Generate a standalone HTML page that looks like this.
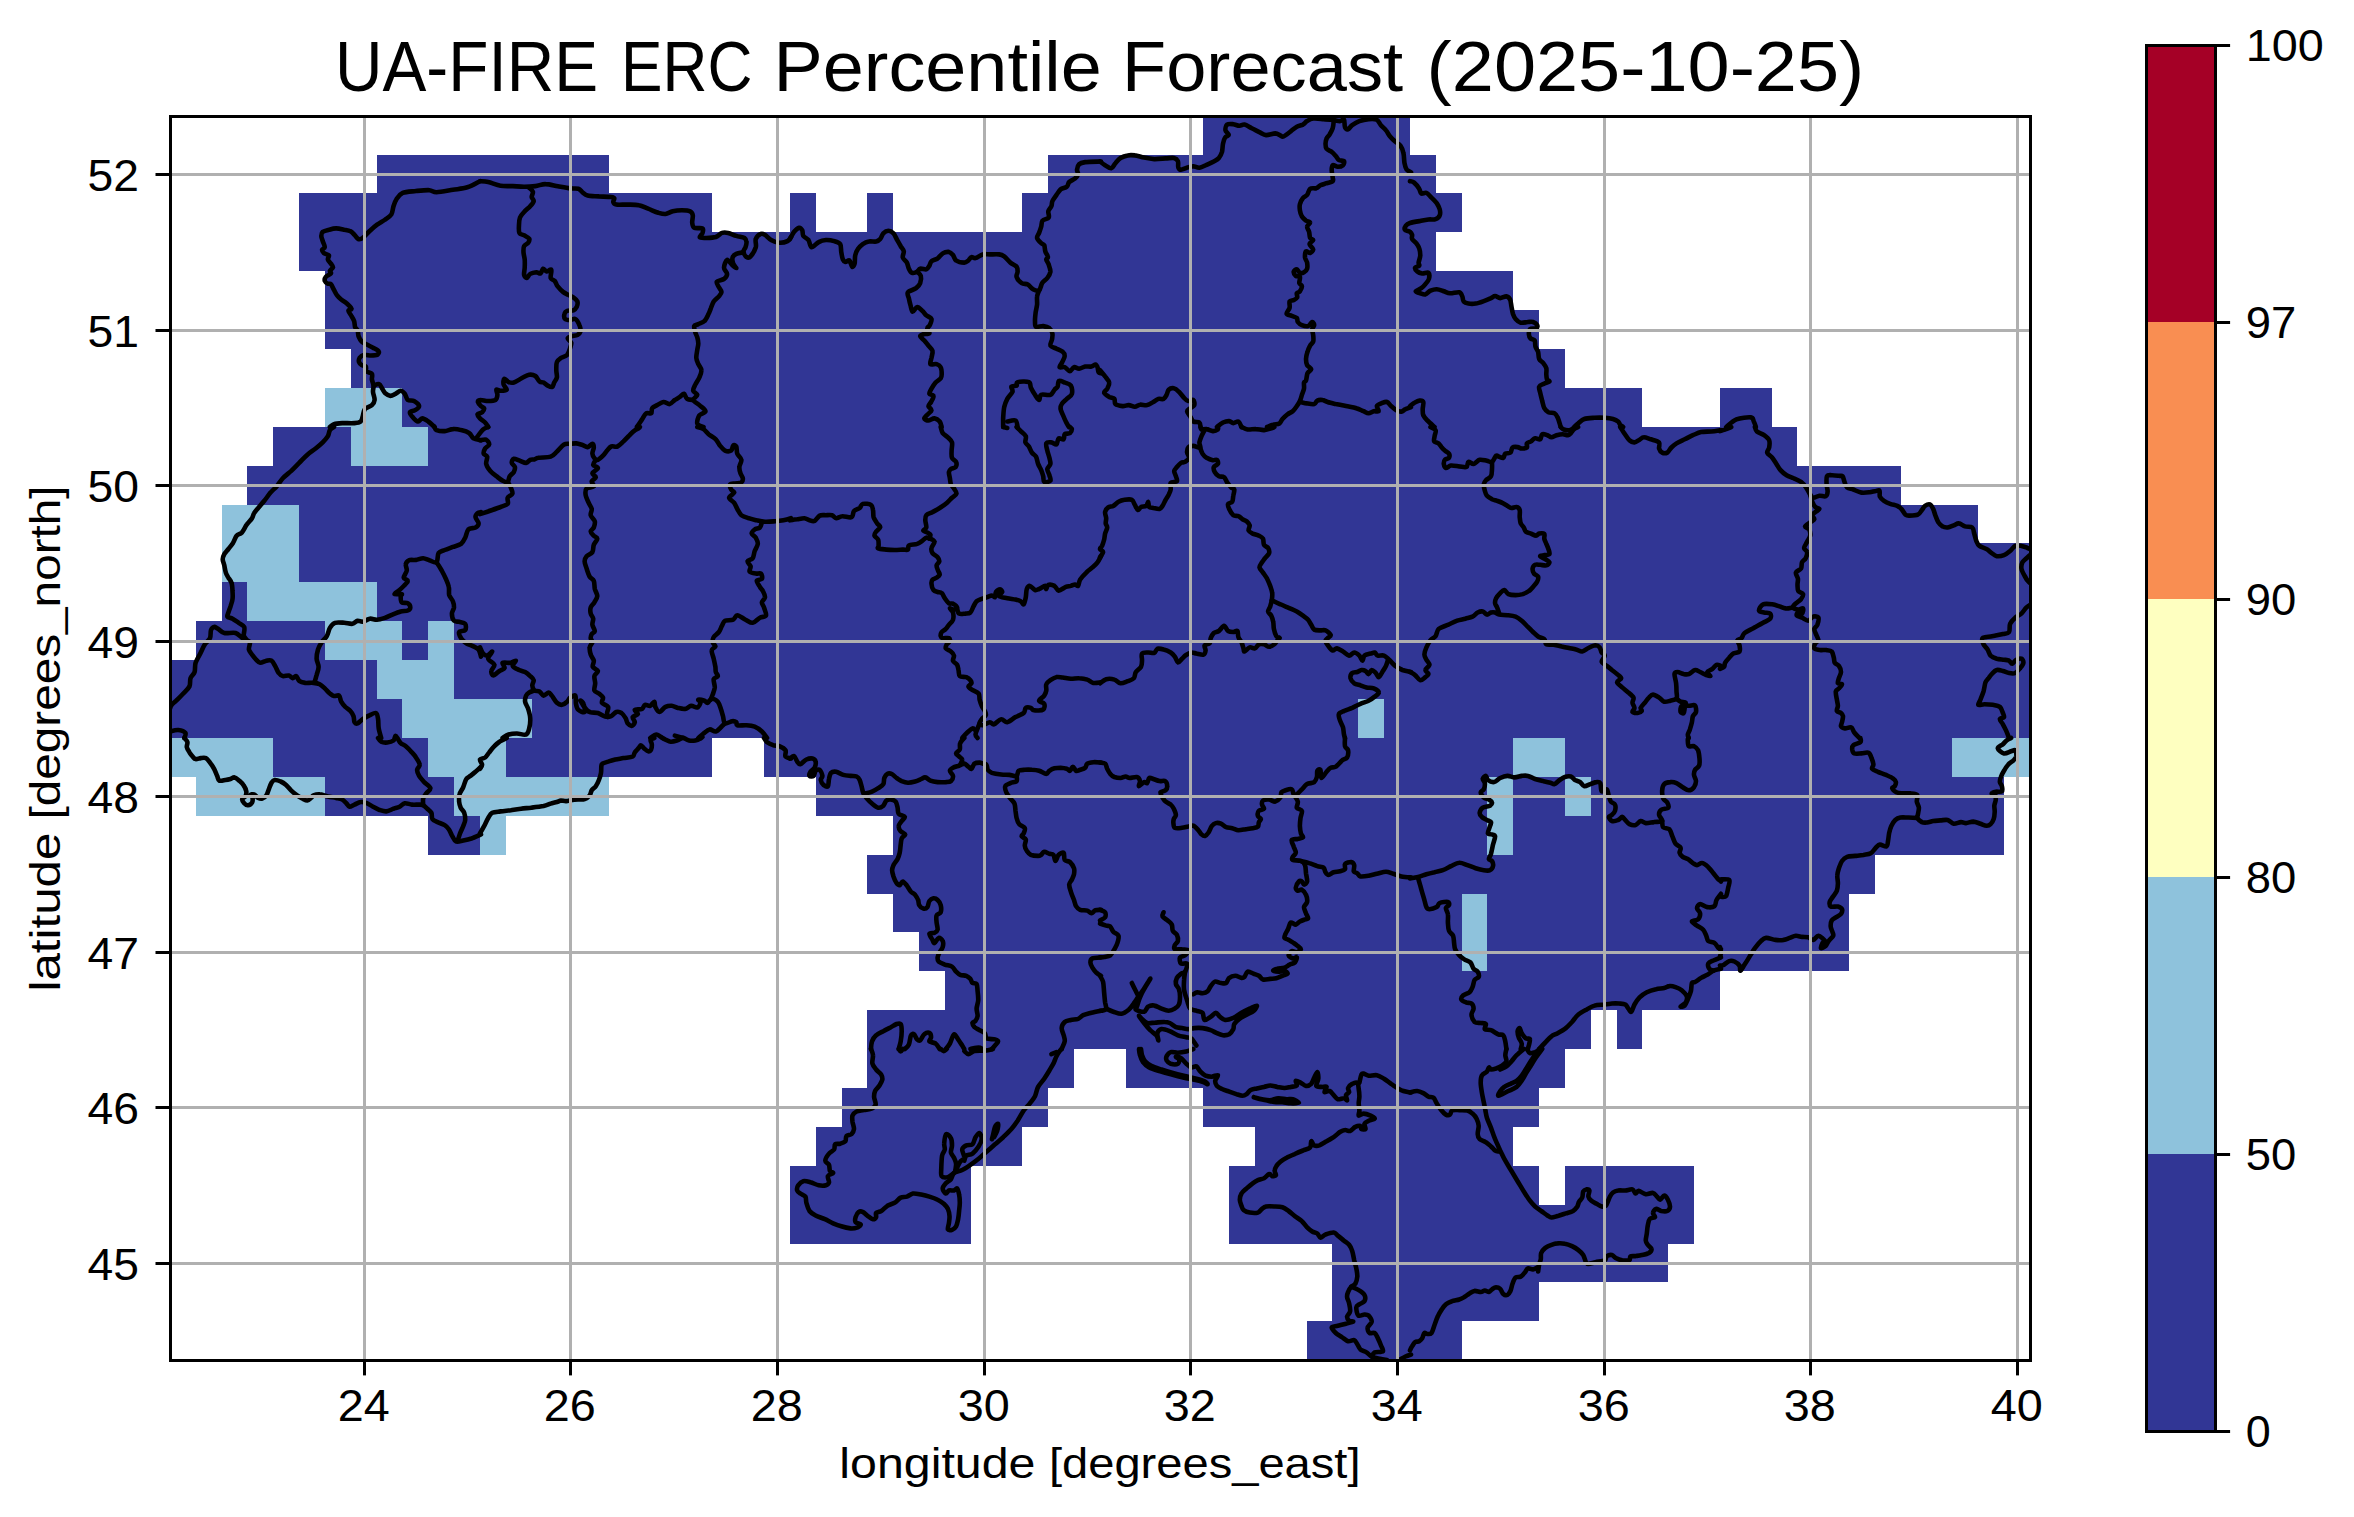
<!DOCTYPE html>
<html><head><meta charset="utf-8"><title>UA-FIRE ERC Percentile Forecast</title>
<style>html,body{margin:0;padding:0;background:#fff}body{width:2354px;height:1517px;overflow:hidden}</style></head>
<body>
<svg width="2354" height="1517" viewBox="0 0 2354 1517" style="display:block;font-family:'Liberation Sans',sans-serif">
<rect x="0" y="0" width="2354" height="1517" fill="#ffffff"/>
<defs><clipPath id="axclip"><rect x="170.5" y="116.5" width="1860" height="1244"/></clipPath></defs>
<g shape-rendering="crispEdges"><rect x="1203" y="116" width="207" height="39" fill="#313695"/><rect x="377" y="155" width="232" height="38" fill="#313695"/><rect x="1048" y="155" width="388" height="38" fill="#313695"/><rect x="299" y="193" width="413" height="39" fill="#313695"/><rect x="790" y="193" width="26" height="39" fill="#313695"/><rect x="867" y="193" width="26" height="39" fill="#313695"/><rect x="1022" y="193" width="440" height="39" fill="#313695"/><rect x="299" y="232" width="1137" height="39" fill="#313695"/><rect x="325" y="271" width="1188" height="39" fill="#313695"/><rect x="325" y="310" width="1214" height="39" fill="#313695"/><rect x="351" y="349" width="1214" height="39" fill="#313695"/><rect x="325" y="388" width="77" height="39" fill="#8ec2dc"/><rect x="402" y="388" width="1240" height="39" fill="#313695"/><rect x="1720" y="388" width="52" height="39" fill="#313695"/><rect x="273" y="427" width="78" height="39" fill="#313695"/><rect x="351" y="427" width="77" height="39" fill="#8ec2dc"/><rect x="428" y="427" width="1369" height="39" fill="#313695"/><rect x="247" y="466" width="1654" height="39" fill="#313695"/><rect x="222" y="505" width="77" height="38" fill="#8ec2dc"/><rect x="299" y="505" width="1679" height="38" fill="#313695"/><rect x="222" y="543" width="77" height="39" fill="#8ec2dc"/><rect x="299" y="543" width="1731" height="39" fill="#313695"/><rect x="222" y="582" width="25" height="39" fill="#313695"/><rect x="247" y="582" width="130" height="39" fill="#8ec2dc"/><rect x="377" y="582" width="1653" height="39" fill="#313695"/><rect x="196" y="621" width="129" height="39" fill="#313695"/><rect x="325" y="621" width="77" height="39" fill="#8ec2dc"/><rect x="402" y="621" width="26" height="39" fill="#313695"/><rect x="428" y="621" width="26" height="39" fill="#8ec2dc"/><rect x="454" y="621" width="1576" height="39" fill="#313695"/><rect x="170" y="660" width="207" height="39" fill="#313695"/><rect x="377" y="660" width="77" height="39" fill="#8ec2dc"/><rect x="454" y="660" width="1576" height="39" fill="#313695"/><rect x="170" y="699" width="232" height="39" fill="#313695"/><rect x="402" y="699" width="130" height="39" fill="#8ec2dc"/><rect x="532" y="699" width="826" height="39" fill="#313695"/><rect x="1358" y="699" width="26" height="39" fill="#8ec2dc"/><rect x="1384" y="699" width="646" height="39" fill="#313695"/><rect x="170" y="738" width="103" height="39" fill="#8ec2dc"/><rect x="273" y="738" width="155" height="39" fill="#313695"/><rect x="428" y="738" width="78" height="39" fill="#8ec2dc"/><rect x="506" y="738" width="206" height="39" fill="#313695"/><rect x="764" y="738" width="749" height="39" fill="#313695"/><rect x="1513" y="738" width="52" height="39" fill="#8ec2dc"/><rect x="1565" y="738" width="387" height="39" fill="#313695"/><rect x="1952" y="738" width="78" height="39" fill="#8ec2dc"/><rect x="196" y="777" width="129" height="39" fill="#8ec2dc"/><rect x="325" y="777" width="129" height="39" fill="#313695"/><rect x="454" y="777" width="155" height="39" fill="#8ec2dc"/><rect x="816" y="777" width="671" height="39" fill="#313695"/><rect x="1487" y="777" width="26" height="39" fill="#8ec2dc"/><rect x="1513" y="777" width="52" height="39" fill="#313695"/><rect x="1565" y="777" width="26" height="39" fill="#8ec2dc"/><rect x="1591" y="777" width="413" height="39" fill="#313695"/><rect x="428" y="816" width="52" height="39" fill="#313695"/><rect x="480" y="816" width="26" height="39" fill="#8ec2dc"/><rect x="893" y="816" width="594" height="39" fill="#313695"/><rect x="1487" y="816" width="26" height="39" fill="#8ec2dc"/><rect x="1513" y="816" width="491" height="39" fill="#313695"/><rect x="867" y="855" width="1008" height="39" fill="#313695"/><rect x="893" y="894" width="569" height="38" fill="#313695"/><rect x="1462" y="894" width="25" height="38" fill="#8ec2dc"/><rect x="1487" y="894" width="362" height="38" fill="#313695"/><rect x="919" y="932" width="543" height="39" fill="#313695"/><rect x="1462" y="932" width="25" height="39" fill="#8ec2dc"/><rect x="1487" y="932" width="362" height="39" fill="#313695"/><rect x="945" y="971" width="775" height="39" fill="#313695"/><rect x="867" y="1010" width="724" height="39" fill="#313695"/><rect x="1617" y="1010" width="25" height="39" fill="#313695"/><rect x="867" y="1049" width="207" height="39" fill="#313695"/><rect x="1126" y="1049" width="439" height="39" fill="#313695"/><rect x="842" y="1088" width="206" height="39" fill="#313695"/><rect x="1203" y="1088" width="336" height="39" fill="#313695"/><rect x="816" y="1127" width="206" height="39" fill="#313695"/><rect x="1255" y="1127" width="258" height="39" fill="#313695"/><rect x="790" y="1166" width="181" height="39" fill="#313695"/><rect x="1229" y="1166" width="310" height="39" fill="#313695"/><rect x="1565" y="1166" width="129" height="39" fill="#313695"/><rect x="790" y="1205" width="181" height="39" fill="#313695"/><rect x="1229" y="1205" width="465" height="39" fill="#313695"/><rect x="1332" y="1244" width="336" height="38" fill="#313695"/><rect x="1332" y="1282" width="207" height="39" fill="#313695"/><rect x="1307" y="1321" width="155" height="39" fill="#313695"/></g>
<g clip-path="url(#axclip)" fill="none" stroke="#000" stroke-width="4.6" stroke-linejoin="round" stroke-linecap="round"><path d="M480 181.2C478 182.2 471.6 186 467.3 187.3C463 188.7 457.9 189 452.9 189.8C448 190.6 440.3 192.2 436.5 192.3C432.8 192.3 432.6 190.4 429.4 190.2C426.1 190 420.3 190.6 416 191C411.8 191.5 405.8 191.6 402.7 192.9C399.6 194.2 398 196.9 396.6 199C395.1 201.2 394.3 203.7 393.5 206.2C392.7 208.7 392.7 212.3 391.4 214.4C390.1 216.5 387.6 217.9 385.3 219.5C383 221.2 379.5 222.9 377.1 224.7C374.6 226.5 372.2 228.7 369.9 230.8C367.6 232.9 364.6 236.7 362.7 238C360.9 239.3 359.5 239.5 358.2 239C356.9 238.5 355.8 236.2 354.5 234.9C353.3 233.7 352.1 232 350.4 231.2C348.8 230.4 346.6 230.2 344.3 229.8C342 229.3 338.5 228.4 336.1 228.4C333.6 228.4 331 229.2 328.9 229.8C326.8 230.3 324 230.9 322.7 231.8C321.5 232.8 321.3 234.5 321.3 235.9C321.3 237.4 322.2 239.3 322.7 241.1C323.3 242.9 324.9 245.8 324.8 247.2C324.7 248.6 322.3 248.8 322.1 249.7C322 250.6 322.7 252 323.8 253C324.8 253.9 328.2 254.4 328.9 255.4C329.5 256.5 327.5 258.2 327.9 259.5C328.2 260.8 330.1 262.4 330.9 263.6C331.8 264.9 333.2 266.2 333 267.3C332.8 268.5 330.2 269.8 329.9 270.8C329.6 271.8 331.6 272.5 330.9 273.5C330.3 274.4 326.8 275.7 325.8 276.9C324.8 278.2 324.5 280 324.8 281C325.1 282.1 326.9 283.2 327.9 283.7C328.9 284.2 330 283.1 330.9 284.1C331.9 285.1 333 288.1 334 289.9C335 291.7 335.9 293.9 337.1 295.4C338.2 296.9 339.7 298.3 341.2 299.5C342.7 300.7 344.7 301.5 346.3 303C348 304.5 351.1 307.5 351.4 308.7C351.8 310 348.4 309.6 348.4 310.8C348.4 311.9 350.5 314.3 351.4 315.9C352.4 317.5 353.5 319.2 354.1 321C354.7 322.8 354.6 325.7 355.1 327.2C355.7 328.6 357 328.8 357.6 330.2C358.2 331.7 358 334.6 358.6 336.4C359.3 338.2 360.4 340.2 361.7 341.5C363 342.8 365 343.6 366.8 344.6C368.6 345.6 371.1 346.6 373 347.7C374.9 348.8 378.1 350.2 378.7 351.4C379.4 352.5 378.3 354.2 377.1 354.9C375.8 355.5 373.1 355.5 370.9 355.5C368.8 355.5 365.6 354.5 363.7 354.9C361.9 355.2 360.4 356.8 359.6 357.9C358.9 359.1 358.7 360.9 359 362C359.4 363.2 360.6 364.4 361.7 365.1C362.8 365.8 365 365.6 365.8 366.5C366.6 367.5 365.4 370.1 366.4 371.3C367.4 372.4 371.1 372.6 371.9 373.9C372.8 375.2 371.7 377.6 371.9 379.5C372.2 381.3 373.4 383.6 373.6 385.6C373.8 387.6 372.8 389.5 373 391.8C373.1 394.1 374.8 397.8 374.6 400C374.4 402.1 373.5 403.6 371.9 405.1C370.4 406.6 366.2 407.4 364.8 409.2C363.3 411 363.4 414.4 362.7 416.4C362.1 418.3 362 420.4 360.7 421.5C359.4 422.6 357.5 422.9 354.5 423.1C351.6 423.4 345.5 423 342.2 423.1C338.9 423.3 336 423.5 334 424.1C332.1 424.8 330.6 426.6 329.9 427"/><path d="M373.6 385.6C374.5 385.4 377.7 383.7 379.1 384.2C380.5 384.7 381.2 387.2 382.2 388.7C383.2 390.1 384 392 385.3 393.2C386.6 394.3 388.8 395.8 390.4 395.9C392 396 393.9 394.6 395.5 393.8C397.2 393 399.2 390.7 400.7 390.7C402.1 390.7 403.6 392.3 404.8 393.8C405.9 395.3 406.4 398.8 407.8 400C409.3 401.1 412.2 400 414 401C415.8 402 418.9 404.6 419.1 406.1C419.3 407.6 416.5 409.2 415 410.2C413.5 411.2 410.2 411.1 409.9 412.3C409.5 413.4 411.6 415.9 413 417.4C414.3 418.9 416.6 421.3 418.1 421.5C419.6 421.6 420.5 418.4 422.2 418.4C423.8 418.4 426.4 420.1 428.3 421.5C430.3 422.9 433.5 426.1 434.5 427"/><path d="M480 181.2C481.3 181.3 484.9 181.3 488.2 182C491.5 182.7 496.6 185.1 500.5 185.7C504.4 186.4 509 186 512.8 186.1C516.6 186.3 520.5 186.7 524.1 186.7C527.7 186.7 531.9 186.5 535.4 186.1C538.8 185.7 542 184 545.6 184.1C549.2 184.1 554 185.6 557.9 186.3C561.8 187 566.9 188 570.2 188.4C573.5 188.8 576.4 188.2 578.4 188.8C580.4 189.4 581 191.2 582.5 192.3C584 193.4 585 194.9 587.6 195.5C590.3 196.2 595.1 196.1 598.9 196.4C602.7 196.6 608.8 196.7 611.2 197C613.7 197.3 614 197.6 614.3 198.4C614.6 199.2 612.9 201.1 613.3 202.1C613.6 203.1 614 204.2 616.3 204.6C618.6 205 624 204.5 627.6 204.6C631.2 204.7 635.6 204.5 638.9 205.2C642.2 205.8 645 207.5 648.1 208.7C651.2 209.9 655.6 211.9 658.4 212.8C661.2 213.6 663.2 214.2 665.5 214C667.8 213.8 670.1 211.9 672.7 211.3C675.3 210.7 679.2 210.3 681.9 210.3C684.7 210.3 688.4 210.5 690.1 211.3C691.9 212.2 692.5 213.6 692.8 215.4C693.1 217.2 692 220.6 692.2 222.6C692.4 224.6 692.6 226.8 694.2 227.7C695.9 228.7 701.1 227.5 702.5 228.4C703.8 229.2 702.9 231.4 702.5 232.9C702 234.3 699.3 236.6 699.8 237.4C700.3 238.2 703 238.1 705.5 238C708.1 237.9 713.2 237.8 715.8 237C718.4 236.1 720 233.5 721.9 232.9C723.9 232.2 725.8 232.4 728.1 232.9C730.4 233.4 733.7 235.1 736.3 235.9C738.9 236.8 742.8 237 744.5 238C746.1 239 746.4 240.6 746.5 242.1C746.7 243.6 746 245.7 745.5 247.2C745 248.8 743.3 250.2 743.5 251.7C743.6 253.3 745.4 256.3 746.5 257.1C747.7 257.8 749.2 258 750.6 256.4C752.1 254.9 754.9 250 755.8 247.2C756.6 244.4 754.9 241.1 755.8 239C756.6 236.9 759.4 234.5 760.9 233.9C762.4 233.2 763.3 233.9 765 234.9C766.6 235.9 768.8 238.8 771.1 240C773.4 241.3 776.7 242.5 779.3 242.7C782 242.9 785.7 242 787.5 241.1C789.4 240.1 790.5 237.6 791 237"/><path d="M743.5 252.3C742.3 252.6 738 253 736.3 253.8C734.5 254.6 733.1 255.9 732.6 257.5C732.1 259 732.6 261.9 733.2 263.6C733.8 265.3 736.5 268 736.3 268.1C736 268.3 733.2 266 731.8 264.6C730.3 263.3 728.3 259.4 727.1 259.9C725.8 260.4 724 265.5 724 267.7C724 269.9 727.1 272.1 727.1 273.9C727.1 275.7 725.6 277.7 724 279C722.3 280.2 717.6 280.3 716.8 281.7C716 283 718.1 285.6 718.9 287.2C719.6 288.8 721.5 290.4 721.5 291.9C721.5 293.4 720.1 294.9 718.9 296.4C717.6 298 715 299.6 713.7 301.5C712.4 303.5 711.5 306.8 710.7 308.7C709.8 310.7 709.6 311.9 708.6 313.8C707.6 315.8 706.1 319.4 704.5 321C702.9 322.7 700 323.3 698.3 324.1C696.7 324.9 694.7 324.8 694.2 326.1C693.8 327.5 694.8 330.5 695.3 332.3C695.8 334.1 696.8 335.6 697.3 337.4C697.8 339.2 698.3 341.6 698.3 343.6C698.3 345.5 697.7 347.4 697.3 349.7C697 352 696.1 355.6 696.3 357.9C696.5 360.2 697.5 362.1 698.3 364.1C699.2 366 701.3 368.1 701.4 370.2C701.6 372.4 700.4 375.1 699.4 377.4C698.4 379.7 696.3 382.4 695.3 384.6C694.3 386.7 692.9 389.1 693.2 390.7C693.6 392.4 697.3 393.4 697.3 394.8C697.3 396.3 692.9 398.3 693.2 400C693.6 401.6 697.4 403.3 699.4 405.1C701.3 406.9 705.5 409.6 705.5 411.2C705.5 412.9 700.7 413.4 699.4 415.3C698.1 417.3 696.7 421.7 697.3 423.5C698 425.4 702.5 426.5 703.5 427"/><path d="M693.2 400C692.2 399.8 688.5 399.9 687.1 398.9C685.6 397.9 685.1 394.1 684 393.8C682.8 393.5 681.4 395.9 679.9 396.9C678.4 397.9 676.4 398.8 674.8 400C673.1 401.1 671.5 403.7 669.6 404.1C667.8 404.4 665.5 401.8 663.5 402C661.5 402.2 659.1 404.1 657.3 405.1C655.5 406.1 653.2 406.8 652.2 408.2C651.2 409.5 652.2 412.5 651.2 413.3C650.2 414.1 647.5 412.3 646.1 413.3C644.6 414.3 643.4 417.2 642 419.4C640.5 421.6 637.7 425.8 636.8 427"/><path d="M529.2 187.8C529.8 188.4 532.5 190.4 532.9 191.9C533.3 193.3 531.5 195.5 531.7 197C531.8 198.5 533.9 199.6 533.7 201.1C533.5 202.6 531.8 204.5 530.2 206.2C528.7 207.9 525.7 210.1 524.1 212C522.4 213.8 520.8 215.5 520 217.5C519.2 219.5 519.1 222.2 519 224.7C518.9 227.1 518.5 231.2 519.4 232.9C520.2 234.6 522.5 234.4 524.1 235.3C525.7 236.2 528.5 237.4 529.2 238.6C529.9 239.8 529 241.5 528.2 242.7C527.4 243.9 524.8 244.6 524.1 246.2C523.3 247.7 523.4 250.2 523.5 252.3C523.6 254.5 524.5 257.1 524.7 259.5C524.9 262 524.8 265.3 524.7 267.7C524.6 270.2 523.8 273.3 524.1 274.9C524.4 276.5 525.8 278.1 526.7 278C527.7 277.8 528.7 274.8 530.2 273.9C531.8 272.9 534.7 272.3 536.4 272.2C538 272.2 539.4 274 540.5 273.5C541.6 272.9 542.2 269.1 543.1 268.7C544.1 268.4 545.3 271.2 546.6 271.4C547.9 271.6 550.7 268.7 551.3 269.8C552 270.8 550.2 276.2 550.7 278C551.3 279.8 553.8 279.7 554.8 281C555.9 282.4 556.2 284.4 557.5 286.2C558.8 287.9 561.3 290.5 563 291.9C564.7 293.3 566.5 293.9 568.2 294.8C569.8 295.7 571.8 296.4 573.3 297.4C574.8 298.5 576.8 300.1 577.4 301.5C577.9 303 577.4 305.3 576.8 306.7C576.1 308.1 574.8 309.7 573.3 310.4C571.7 311 568.5 310.2 567.1 310.8C565.7 311.3 564.8 312.5 564.5 313.8C564.1 315.2 564.2 318 565.1 319C566 320 568.6 320 570.2 320C571.9 320 573.9 318.2 575.3 319C576.8 319.8 578.6 323.2 579.4 325.1C580.3 327.1 580.8 329.7 580.5 331.3C580.1 332.8 578.9 334.1 577.4 335C575.9 335.8 572.8 335.8 571.2 336.4C569.7 337 567.7 337.5 567.7 338.5C567.7 339.4 570.8 341.1 571.2 342.6C571.6 344 570.9 345.7 570.2 347.7C569.6 349.6 568.6 353.2 567.1 354.9C565.7 356.5 562.6 356.8 561 357.9C559.3 359.1 557.6 360.1 556.9 362C556.1 364 556.3 367.8 556.3 370.2C556.3 372.7 557.2 375.4 556.9 377.4C556.6 379.4 555 381 554.2 382.5C553.5 384.1 553.2 386.5 552.2 387C551.1 387.5 549 386.3 547.7 385.6C546.3 384.9 544.9 383.2 543.6 382.5C542.2 381.9 540.8 382.6 539.5 381.5C538.1 380.5 537 377.1 535.4 376C533.7 374.9 531.3 374.4 529.2 374.7C527.1 375.1 524.5 376.8 522 378C519.6 379.3 516 381.9 513.8 382.5C511.7 383.2 510.2 382.7 508.7 382.1C507.2 381.5 505 378.4 504.2 378.8C503.4 379.2 503.2 382.8 503.6 384.6C504 386.3 507.1 388.7 506.7 389.7C506.2 390.7 502.1 390.7 500.5 390.7C498.9 390.7 496.9 389 496.4 389.7C495.9 390.4 497.6 393.2 497.4 394.8C497.3 396.5 496.9 399 495.4 400C493.9 400.9 490.7 401 488.2 401C485.7 401 481.6 399.8 480 400C478.4 400.1 477.8 401 477.9 402C478.1 403 480 405.1 481 406.1C482 407.1 483.9 407.2 484.1 408.2C484.3 409.1 483.1 411.3 482.1 412.3C481 413.2 477.9 413.3 477.5 414.3C477.2 415.3 478.8 417.1 480 418.4C481.2 419.7 483.8 421.1 485.1 422.5C486.4 423.9 487.7 426.3 488.2 427"/><path d="M790 239C790.7 237.9 792.6 233.6 794.1 231.8C795.6 230 797.9 228 799.2 227.7C800.5 227.5 801.6 229.1 802.3 230.4C803 231.7 802.3 234.4 803.3 235.9C804.3 237.5 807.1 238.2 808.5 240C809.8 241.8 809.9 246.9 811.5 247.2C813.2 247.5 816.4 243.2 818.7 242.1C821 240.9 823.4 240.2 825.9 240C828.3 239.9 831.8 240.4 834.1 241.1C836.4 241.7 839.1 242.3 840.2 244.1C841.4 245.9 840.8 249.9 841.3 252.3C841.7 254.8 842.2 258 842.9 259.5C843.6 261.1 844.3 261.8 845.4 262C846.4 262.1 848.4 259.8 849.5 260.5C850.5 261.3 851.3 266.2 852.1 266.7C852.9 267.2 854.1 265.4 854.6 263.6C855.1 261.8 854.7 257.7 855.2 255.4C855.7 253.1 856.4 251.1 857.7 249.3C858.9 247.5 861 245.4 862.8 244.1C864.6 242.9 866.8 241.9 868.9 241.5C871.1 241 874.3 241.9 876.1 241.5C877.9 241.1 879.1 240.3 880.2 239C881.4 237.7 882 234.6 883.3 233.3C884.6 232 886.8 230.8 888.4 230.8C890.1 230.8 892.2 232 893.5 233.3C894.8 234.6 895.5 236.9 896.6 239C897.8 241.1 899.6 244.2 900.7 246.2C901.9 248.2 903.5 249.5 903.8 251.3C904.1 253.1 902.3 255.7 902.8 257.5C903.3 259.3 905.9 260.8 906.9 262.6C907.8 264.4 908.1 267.1 908.9 268.7C909.7 270.4 910.7 272.4 912 272.8C913.3 273.3 915.8 272.5 917.1 271.8C918.4 271.2 918.7 269.1 920.2 268.7C921.7 268.3 924.9 269.8 926.3 269.4C927.8 268.9 928.6 267 929.4 265.7C930.2 264.4 930.2 262.3 931.5 261.2C932.8 260 935.8 259.7 937.6 258.5C939.4 257.2 940.9 254.4 942.7 253.4C944.5 252.3 947.3 251.7 948.9 251.9C950.5 252.2 951.8 253.6 953 255C954.1 256.4 954.3 259.3 956.1 260.5C957.9 261.8 962.3 262.6 964.3 262.6C966.2 262.6 967.2 261.4 968.4 260.5C969.5 259.7 970.3 257.4 971.4 257.1C972.6 256.7 973.7 258.5 975.5 258.1C977.4 257.7 980.4 255 982.7 254.4C985 253.8 987.3 254.4 989.9 254.4C992.5 254.4 996.8 254.1 999.1 254.4C1001.4 254.7 1002.4 255.1 1004.2 256.4C1006.1 257.8 1008.4 261 1010.4 262.6C1012.4 264.2 1015.4 265.2 1016.6 266.7C1017.7 268.2 1017.6 270.2 1017.6 271.8C1017.6 273.5 1015.9 275.1 1016.6 276.9C1017.2 278.7 1019.9 281.9 1021.7 283.1C1023.5 284.3 1026 283.5 1027.8 284.5C1029.6 285.5 1031.1 288.3 1033 289.2C1034.8 290.2 1037.6 291.3 1039.1 290.3C1040.6 289.3 1040.9 285.1 1042.2 283.1C1043.5 281.1 1046 279.8 1047.3 278C1048.6 276.2 1050.1 273.9 1050.4 271.8C1050.6 269.7 1049.4 266.6 1048.7 264.6C1048.1 262.7 1046.4 260.7 1046.3 259.5C1046.1 258.3 1048.1 258.4 1047.9 257.1C1047.8 255.7 1045.8 253.2 1045.3 251.3C1044.7 249.4 1044.9 246.5 1044.2 245.2C1043.6 243.9 1042.3 244.3 1041.2 243.1C1040 242 1037.4 239.6 1037.1 238C1036.7 236.3 1038.4 234.7 1039.1 232.9C1039.8 231.1 1040.6 228.7 1041.2 226.7C1041.7 224.7 1041.4 222 1042.6 220.6C1043.8 219.1 1047.8 219 1048.7 217.5C1049.7 216 1047.9 213.1 1048.3 211.3C1048.8 209.5 1050.7 207.9 1051.4 206.2C1052.1 204.6 1051.6 202.9 1052.4 201.1C1053.2 199.3 1055.2 196.8 1056.5 194.9C1057.8 193.1 1059 190.7 1060.6 189.4C1062.3 188.1 1065.4 187.9 1066.8 186.7C1068.2 185.6 1067.9 183.3 1069.2 182C1070.6 180.7 1073.6 179.7 1075 178.5C1076.4 177.3 1077.7 175.8 1078.1 174.4C1078.4 173 1076.9 171.4 1077 169.7C1077.2 168.1 1077.8 165.4 1079.1 164.2C1080.4 163 1081.7 162.6 1085.2 162.1C1088.7 161.7 1098.5 161.6 1101 161.5"/><path d="M1039.1 290.3C1038.8 291.3 1037.4 294.1 1037.1 296.4C1036.7 298.7 1037.3 302 1037.1 304.6C1036.8 307.2 1035.9 310.2 1035.6 312.8C1035.3 315.4 1034.9 318.8 1035 321C1035.1 323.3 1034.7 325.9 1036 326.8C1037.3 327.6 1041.1 325.9 1043.2 326.1C1045.3 326.4 1047.9 327.1 1049.4 328.2C1050.8 329.3 1052 331.5 1052.4 333.3C1052.9 335.1 1052.3 337.5 1052 339.5C1051.7 341.4 1049.7 344.1 1050.4 345.6C1051.1 347.1 1054.6 347.7 1056.5 348.7C1058.5 349.7 1061.4 350.6 1062.7 351.8C1064 352.9 1064.8 354.2 1064.7 355.9C1064.7 357.5 1063.1 360.2 1062.3 362C1061.5 363.8 1059.2 366.3 1059.6 367.2C1060 368 1063.1 366.5 1064.7 367.2C1066.4 367.8 1068.4 371.3 1069.9 371.3C1071.3 371.3 1072.5 367.6 1074 367.2C1075.4 366.7 1077.3 368.7 1079.1 368.6C1080.9 368.5 1083.3 366.9 1085.2 366.5C1087.2 366.2 1089.7 366.9 1091.4 366.5C1093 366.2 1094.5 364.4 1095.5 364.5C1096.5 364.6 1097 365.9 1097.5 367.2C1098 368.4 1098 371.3 1098.6 372.3C1099.1 373.3 1100.6 373.1 1101 373.3"/><path d="M917.1 271.8C917.7 272.5 920.3 274.1 920.8 275.9C921.3 277.7 920.9 281.1 920.2 283.1C919.4 285.1 918.1 286.7 916.1 288.2C914.1 289.7 909 290.7 907.9 292.3C906.7 294 908.5 296.3 908.9 298.5C909.3 300.6 910 303.5 910.6 305.6C911.1 307.8 911.6 311.6 912.6 311.8C913.7 312 915.6 307.2 917.1 307.1C918.7 306.9 920.8 309.5 922.2 310.8C923.7 312.1 924.9 314 926.3 315.3C927.8 316.6 930.9 317.4 931.5 319C932 320.5 930.5 323.6 929.8 325.1C929.2 326.6 927.4 326.9 927.4 328.2C927.3 329.5 930.1 332.3 929.4 333.3C928.8 334.3 924.7 333.9 923.3 334.3C921.8 334.8 920 335.4 920.2 336.4C920.4 337.4 923 339 924.3 340.5C925.6 342 927.1 344 928.4 345.6C929.7 347.3 932 348.8 932.5 350.8C933 352.7 931.8 355.8 931.5 357.9C931.1 360.1 929.6 363.1 930.4 364.1C931.3 365.1 935 363.6 936.6 364.1C938.2 364.6 939.9 365.5 940.7 367.2C941.5 368.8 941.7 372.5 941.7 374.3C941.7 376.1 941.7 377.1 940.7 378.4C939.7 379.7 937 380.9 935.6 382.5C934.1 384.2 932.5 386.9 931.5 388.7C930.5 390.5 929.1 392.7 929.4 393.8C929.7 395 933.3 394.5 933.5 395.9C933.8 397.2 931.9 400.4 931.1 402C930.2 403.6 928.3 404.8 928.4 406.1C928.5 407.4 931.6 408.9 931.5 410.2C931.4 411.5 928.9 413 927.8 414.3C926.6 415.6 924.2 417.4 924.3 418.4C924.4 419.4 926.8 420.5 928.4 420.5C930 420.5 932.7 418.2 934.5 418.4C936.3 418.6 938.5 420.1 939.7 421.5C940.8 422.9 941.4 426.1 941.7 427"/><path d="M1003.2 427C1003.2 425.5 1003.1 420.6 1003.2 417.4C1003.4 414.2 1003.6 410.1 1004.2 407.1C1004.9 404.2 1006 401.4 1007.3 398.9C1008.6 396.5 1011.8 393.7 1012.5 391.8C1013.1 389.8 1010.8 387.6 1011.4 386.6C1012.1 385.6 1015.6 386.3 1016.6 385.6C1017.5 384.9 1015.6 382.7 1017.6 382.1C1019.5 381.6 1026.7 381.2 1028.9 382.1C1031 383 1029.9 385.6 1030.9 387.7C1031.9 389.7 1033.7 392.9 1035 394.8C1036.3 396.8 1038.1 400 1039.1 400C1040.1 400 1039.3 395.7 1041.2 394.8C1043 394 1048.2 395.7 1050.4 394.8C1052.5 394 1053.3 391 1054.5 389.7C1055.6 388.4 1056.8 388 1057.6 386.6C1058.3 385.2 1057.8 381.5 1059 380.9C1060.1 380.2 1062.8 381.8 1064.7 382.5C1066.6 383.3 1069.7 383.8 1070.9 385.6C1072 387.4 1072.6 391.7 1071.9 393.8C1071.3 395.9 1068.4 397.3 1066.8 398.9C1065.1 400.6 1062.6 402.4 1061.7 404.1C1060.7 405.7 1060.4 407.4 1060.6 409.2C1060.9 411 1062.3 413.4 1063.1 415.3C1063.9 417.3 1064.8 419.6 1065.8 421.5C1066.7 423.4 1068.3 426.1 1068.8 427"/><path d="M1007.3 421.5C1008.6 421.3 1013.9 419.6 1015.5 420.5C1017.2 421.3 1017.2 426 1017.6 427"/><path d="M1100 161.5C1100.8 162.1 1103.3 164.1 1105.1 165.2C1106.9 166.3 1109.6 168.6 1111.3 168.3C1112.9 168 1113.9 164.8 1115.4 163.2C1116.9 161.5 1118.5 159.3 1120.5 158C1122.5 156.8 1125.4 155.8 1127.7 155.4C1130 154.9 1132.2 155 1134.9 155.4C1137.5 155.7 1141 157 1144.1 157.6C1147.2 158.2 1150.9 158.9 1154.3 159.1C1157.8 159.2 1162.5 158.6 1165.6 158.4C1168.7 158.3 1171.8 157.6 1173.8 158C1175.8 158.5 1177.2 159.6 1177.9 161.1C1178.6 162.6 1177.8 165.9 1178.3 167.3C1178.8 168.6 1179.4 169.7 1181 169.7C1182.6 169.7 1186.2 167.8 1188.2 167.3C1190.1 166.7 1191.5 166.2 1193.3 166.2C1195.1 166.3 1197.3 167.9 1199.4 167.7C1201.6 167.4 1204.3 165.8 1206.6 164.8C1208.9 163.8 1211.8 162.6 1213.8 161.5C1215.8 160.4 1217.6 159.6 1218.9 158C1220.2 156.5 1221.3 154.2 1222 151.9C1222.6 149.6 1222.5 146 1223 143.7C1223.5 141.4 1224.1 138.9 1225.1 137.5C1226 136.1 1228.7 136 1228.8 134.9C1228.8 133.7 1225.7 132 1225.5 130.4C1225.2 128.7 1225.9 125.6 1227.1 124.6C1228.4 123.6 1231.3 124 1233.3 124.2C1235.2 124.4 1237.6 125.8 1239.4 125.8C1241.2 125.9 1242.6 124.2 1244.5 124.6C1246.5 125 1249.3 127.1 1251.7 128.3C1254.2 129.5 1257.6 131.3 1259.9 132.4C1262.2 133.5 1263.6 134.9 1266.1 135.1C1268.5 135.2 1273 133.4 1275.3 133.4C1277.6 133.5 1279.1 135 1280.4 135.5C1281.7 136 1281.9 137.2 1283.5 136.5C1285.1 135.8 1288.5 133 1290.7 131.4C1292.8 129.8 1294.9 127.7 1296.8 126.7C1298.8 125.6 1301.3 125.5 1303 124.6C1304.6 123.7 1305.4 122.1 1307.1 121.1C1308.7 120.1 1310.6 118.8 1313.2 118.5C1315.8 118.1 1320.2 118.8 1323.5 119.1C1326.8 119.3 1331.1 119.8 1333.7 120.1C1336.4 120.4 1338.2 121.2 1339.9 121.1C1341.5 121.1 1343.2 118.7 1344 119.7C1344.8 120.7 1344.3 125.7 1345 127.3C1345.7 128.8 1346.9 129.7 1348.1 129.3C1349.2 129 1350.4 126.5 1352.2 125.2C1354 123.9 1356.7 122.1 1359.4 121.1C1362 120.1 1365.8 119.3 1368.6 119.1C1371.4 118.8 1374.8 118.7 1376.8 119.7C1378.7 120.7 1379.4 123.5 1380.9 125.2C1382.4 126.9 1384.5 128.5 1386 130.4C1387.5 132.2 1388.6 134.7 1390.1 136.5C1391.6 138.3 1393.6 140.2 1395.2 141.6C1396.9 143.1 1399 143.9 1400.4 145.7C1401.7 147.5 1402.8 150.1 1403.4 152.9C1404.1 155.7 1404 160.5 1404.5 163.2C1405 165.8 1405.5 167.8 1406.5 169.3C1407.6 170.8 1410.3 171.9 1411 172.4"/><path d="M1333.7 121.1C1333.6 122.3 1333.4 126.2 1332.7 128.3C1332 130.4 1330.6 132.8 1329.6 134.5C1328.6 136.1 1327.2 137.1 1326.6 138.6C1325.9 140 1325.5 142 1325.5 143.7C1325.5 145.3 1325.6 147.5 1326.6 148.8C1327.5 150.1 1330.2 150.7 1331.7 151.9C1333.2 153 1334.6 154.7 1335.8 156C1336.9 157.3 1337.5 159.3 1338.9 160.1C1340.2 160.9 1343.3 160.3 1344 161.1C1344.6 161.9 1343.9 164.3 1343 165.2C1342 166.1 1339.5 166.8 1337.8 166.8C1336.2 166.8 1333.7 164.6 1332.7 165.2C1331.7 165.8 1331.7 168.4 1331.7 170.3C1331.7 172.3 1332.5 175.8 1332.7 177.5C1332.9 179.2 1333.7 180.3 1332.7 181.2C1331.7 182.1 1328.5 182.6 1326.6 183.2C1324.6 183.9 1322 184.5 1320.4 185.3C1318.8 186.1 1317.9 187.6 1316.3 188.2C1314.7 188.7 1311.6 187.7 1310.1 188.8C1308.7 189.9 1308.2 193.5 1307.1 194.9C1305.9 196.4 1304.1 196.5 1303 198C1301.8 199.5 1300.4 202.2 1299.9 204.2C1299.4 206.1 1299.6 208.3 1299.9 210.3C1300.2 212.3 1301 214.8 1301.9 216.5C1302.9 218.1 1304.7 219.6 1306 220.6C1307.4 221.5 1310 221.6 1310.1 222.6C1310.3 223.6 1307.2 225.2 1307.1 226.7C1306.9 228.2 1308.6 230 1309.1 231.8C1309.6 233.6 1309.5 236.7 1310.1 238C1310.8 239.3 1313.3 239.1 1313.2 240C1313.1 241 1309.5 242.7 1309.5 244.1C1309.5 245.6 1313.1 247.9 1313.2 249.3C1313.3 250.7 1311.3 252.6 1310.1 253C1309 253.3 1306.9 250.6 1306 251.3C1305.2 252 1304.9 255.7 1305 257.5C1305.2 259.3 1306.7 260.8 1307.1 262.6C1307.4 264.4 1307.6 267.2 1307.1 268.7C1306.6 270.3 1305.1 271.6 1304 272.2C1302.8 272.9 1301 273.3 1299.9 272.8C1298.7 272.4 1297.8 269.5 1296.8 269.4C1295.8 269.2 1293.9 270.8 1293.7 271.8C1293.6 272.9 1294.8 275.1 1295.8 275.9C1296.8 276.7 1299.3 275.8 1299.9 276.9C1300.5 278.1 1299 281.6 1299.3 283.1C1299.6 284.6 1301.8 284.9 1301.9 286.2C1302 287.5 1300.7 290.1 1299.9 291.3C1299.1 292.4 1297.2 292.4 1296.8 293.3C1296.4 294.3 1297.7 296.4 1297.2 297.4C1296.7 298.5 1295 299.5 1293.7 300.1C1292.5 300.8 1290.3 300.3 1289.6 301.5C1289 302.8 1290.1 305.7 1289.6 307.7C1289.2 309.7 1286.2 312.5 1286.6 313.8C1286.9 315.2 1290.1 315.2 1291.7 315.9C1293.3 316.6 1295.8 317 1296.8 317.9C1297.8 318.9 1297 320.9 1297.8 322C1298.7 323.2 1300.3 324.5 1301.9 325.1C1303.6 325.8 1306.5 326.6 1308.1 326.1C1309.7 325.7 1311.2 322.2 1312.2 322C1313.2 321.9 1314.2 324 1314.2 325.1C1314.2 326.3 1312.4 327.6 1312.2 329.2C1312 330.9 1313.1 333.4 1313.2 335.4C1313.4 337.3 1313.7 339.9 1313.2 341.5C1312.7 343.2 1311.1 344 1310.1 345.6C1309.2 347.3 1308.1 349.6 1307.5 351.8C1306.8 353.9 1306.1 356.8 1306 359C1306 361.1 1306.3 363.5 1307.1 365.1C1307.9 366.7 1311.1 367.9 1311.2 369.2C1311.2 370.5 1308.3 371.5 1307.5 373.3C1306.7 375.1 1306.6 379 1306 380.5C1305.5 382 1304.3 381.2 1304 382.5C1303.7 383.8 1304.3 386.7 1304 388.7C1303.7 390.6 1302.6 392.9 1301.9 394.8C1301.3 396.8 1300.7 399.2 1299.9 401C1299.1 402.8 1298 404.5 1296.8 406.1C1295.7 407.7 1294.2 409.9 1292.7 411.2C1291.2 412.5 1289.2 413.1 1287.6 414.3C1286 415.6 1283.8 417.5 1282.5 419C1281.2 420.5 1280.9 422.6 1279.4 423.5C1277.9 424.4 1275.2 424 1273.2 424.6C1271.3 425.1 1268.1 426.6 1267.1 427"/><path d="M1300.5 402C1301.6 402.2 1304.9 403.1 1307.1 403.4C1309.3 403.8 1312.6 404.5 1314.2 404.1C1315.9 403.6 1316 401.2 1317.3 400.6C1318.6 399.9 1320.8 399.7 1322.5 400C1324.1 400.2 1325.4 401.4 1327.6 402C1329.7 402.7 1332.8 403.4 1335.8 404.1C1338.7 404.7 1342.7 405.5 1346 406.1C1349.3 406.8 1353.5 407.3 1356.3 408.2C1359.1 409 1361.5 410.4 1363.5 411.2C1365.4 412.1 1366.9 413.3 1368.6 413.3C1370.2 413.3 1372.1 411.6 1373.7 411.2C1375.3 410.9 1378.3 412.1 1378.8 411.2C1379.3 410.4 1376.3 407.4 1376.8 406.1C1377.3 404.8 1380.3 403.7 1381.9 403C1383.5 402.4 1385.6 401.5 1387 402C1388.5 402.5 1389.7 404.8 1391.1 406.1C1392.6 407.4 1394.6 409.3 1396.3 410.2C1397.9 411.1 1399.9 411.8 1401.4 411.6C1402.9 411.5 1403.9 409.9 1405.5 409.2C1407 408.5 1410.1 407.5 1411 407.1"/><path d="M1100 370.2C1100.8 371.2 1103.6 374.4 1105.1 376.4C1106.6 378.3 1108.9 380.6 1109.2 382.5C1109.6 384.5 1108 387 1107.2 388.7C1106.4 390.3 1103.8 391.5 1104.1 392.8C1104.4 394.1 1107.6 395.9 1109.2 396.9C1110.9 397.9 1113.4 397.8 1114.4 398.9C1115.3 400.1 1114.1 402.9 1115.4 404.1C1116.7 405.2 1120.4 405.9 1122.6 406.1C1124.7 406.3 1126.7 405 1128.7 405.1C1130.7 405.2 1133 406.8 1134.9 406.7C1136.7 406.7 1138 404.9 1140 404.7C1141.9 404.4 1145 405.5 1147.2 405.1C1149.3 404.7 1151.5 403 1153.3 402C1155.1 401 1156.8 399.4 1158.4 398.9C1160.1 398.4 1162.2 399.6 1163.6 398.9C1164.9 398.3 1165.8 396.3 1166.6 394.8C1167.5 393.4 1167.5 390.8 1168.7 389.7C1169.8 388.7 1172.2 387.9 1173.8 388.3C1175.4 388.6 1177.3 390.2 1178.9 391.8C1180.6 393.3 1182.6 396.4 1184.1 397.9C1185.5 399.4 1186.7 400.7 1188.2 401C1189.6 401.3 1192.3 399.3 1193.3 400C1194.3 400.6 1194.8 403.8 1194.3 405.1C1193.8 406.4 1191.4 407.2 1190.2 408.2C1189.1 409.1 1187.1 409.9 1187.1 411.2C1187.1 412.5 1189.2 414.7 1190.2 416.4C1191.2 418 1191.8 420.5 1193.3 421.5C1194.8 422.5 1198.3 421.6 1199.4 422.5C1200.6 423.4 1200.3 426.3 1200.5 427"/><path d="M1216.9 427C1217.8 426.3 1221 423.5 1223 422.5C1225 421.6 1227.5 421 1229.2 421.1C1230.8 421.2 1231.8 423.1 1233.3 423.1C1234.7 423.2 1237.1 420.9 1238.4 421.5C1239.7 422.1 1241 426.1 1241.5 427"/><path d="M1410 181.2C1410.7 181.4 1412.6 181.4 1414.1 182.6C1415.6 183.8 1418.1 187 1419.2 188.8C1420.4 190.5 1420.1 192.8 1421.3 193.5C1422.4 194.2 1424.8 192.2 1426.4 192.9C1428 193.5 1429.9 196 1431.5 197.6C1433.2 199.2 1435.3 201.3 1436.7 203.1C1438 205 1439.2 207.3 1439.7 209.3C1440.2 211.3 1440.4 213.9 1439.7 215.4C1439.1 217 1437.4 218.5 1435.6 219.1C1433.8 219.8 1430.9 219.2 1428.5 219.5C1426 219.8 1423.2 220.4 1420.3 221C1417.3 221.5 1412.3 222.3 1410 223C1407.7 223.8 1406.7 224.6 1405.9 225.7C1405.1 226.8 1404.2 228.8 1404.9 229.8C1405.5 230.8 1408.9 231 1410 231.8C1411.1 232.7 1411.7 233.8 1412.1 234.9C1412.4 236.1 1411.4 237.7 1412.1 239C1412.7 240.3 1415 241.6 1416.2 243.1C1417.3 244.6 1418.6 246.3 1419.2 248.2C1419.9 250.2 1420.3 253.1 1420.3 255.4C1420.2 257.7 1418.8 261 1418.6 262.6C1418.4 264.2 1419.8 264.8 1419.2 265.7C1418.7 266.5 1415.5 266.8 1415.1 267.7C1414.8 268.6 1416 270.5 1417.2 271.4C1418.3 272.3 1420.5 273.2 1422.3 273.5C1424.1 273.7 1427.4 272 1428.5 272.8C1429.5 273.7 1429.4 277.2 1428.9 279C1428.4 280.8 1426.6 282.6 1425.4 284.1C1424.2 285.6 1422.8 287.1 1421.3 288.2C1419.7 289.4 1415.9 290.5 1415.7 291.3C1415.6 292.1 1418.7 292.9 1420.3 293.3C1421.8 293.8 1423.7 294.8 1425.4 294.4C1427 293.9 1428.7 291.5 1430.5 290.7C1432.3 289.9 1434.5 289.1 1436.7 289.2C1438.8 289.3 1441.7 290.6 1443.8 291.3C1446 292 1447.5 293.2 1450 293.3C1452.4 293.5 1457.2 291.8 1459.2 292.3C1461.2 292.8 1461.6 294.9 1462.3 296.4C1463 297.9 1462.7 300.4 1463.7 301.5C1464.7 302.7 1466.5 303.3 1468.4 303.6C1470.3 303.9 1473.1 304 1475.6 303.6C1478.1 303.2 1481.3 302 1483.8 301.1C1486.3 300.3 1489.2 298.9 1491 298.1C1492.8 297.2 1493.6 296 1495.1 296C1496.6 296 1498.4 298 1500.2 298.1C1502 298.1 1504.8 296.2 1506.4 296.4C1507.9 296.6 1509.2 297.9 1510.1 299.5C1510.9 301.1 1511 304.4 1511.5 306.7C1511.9 309 1512.3 311.9 1512.9 313.8C1513.6 315.8 1514.3 317.6 1515.6 319C1516.8 320.4 1518.7 322.2 1520.7 322.7C1522.7 323.2 1525.9 322.1 1527.9 322C1529.9 321.9 1531.5 321.6 1533 322C1534.5 322.5 1536.6 324.1 1537.1 325.1C1537.6 326.1 1537.2 327.5 1536.1 328.2C1534.9 328.9 1531.1 328.2 1529.9 329.2C1528.8 330.2 1528.8 332.9 1528.9 334.3C1529 335.8 1529.6 337.5 1530.6 338.5C1531.5 339.4 1533.9 339.2 1534.7 340.5C1535.4 341.8 1534.9 344.8 1535.5 346.7C1536 348.5 1537.5 349.8 1538.1 351.8C1538.7 353.7 1538.3 357.1 1539.2 359C1540 360.8 1542.1 361.6 1543.3 363.1C1544.4 364.5 1545.8 366.4 1546.3 368.2C1546.8 370 1546.2 372.5 1546.3 374.3C1546.4 376.1 1546.5 378.3 1547 379.5C1547.4 380.6 1549.8 380.8 1549.4 381.5C1549 382.2 1545.9 382.7 1544.3 383.6C1542.6 384.4 1539.8 385.2 1539.2 386.6C1538.5 388.1 1539.7 390.5 1540.2 392.8C1540.7 395.1 1541.6 398.5 1542.2 401C1542.9 403.4 1543.3 406.4 1544.3 408.2C1545.3 410 1546.8 411.4 1548.4 412.3C1550 413.1 1553.1 412.5 1554.5 413.3C1556 414.1 1556.8 415.7 1557.6 417.4C1558.4 419 1559.2 422 1559.7 423.5C1560.2 425.1 1560.5 426.5 1560.7 427"/><path d="M1410 406.1C1410.7 405.6 1412.6 403.9 1414.1 403C1415.6 402.1 1417.7 400.7 1419.2 400.6C1420.7 400.4 1422.8 400.6 1423.3 402C1423.9 403.4 1422.7 407.1 1422.7 409.2C1422.7 411.3 1422.6 413.5 1423.3 415.3C1424.1 417.1 1425.6 418.6 1427.4 420.5C1429.2 422.3 1433.5 426 1434.6 427"/><path d="M1574 427C1574.7 426.5 1576.5 424.8 1578.1 423.5C1579.8 422.3 1581.6 419.9 1584.3 419C1586.9 418.1 1591.2 418 1594.5 417.8C1597.8 417.6 1601.8 417.6 1604.8 417.8C1607.7 418 1610.8 418.4 1613 419C1615.1 419.6 1617 420.6 1618.1 421.5C1619.2 422.4 1619.3 423.7 1620.1 424.6C1621 425.4 1622.7 426.6 1623.2 427"/><path d="M1726.2 427C1727.8 425.8 1732.5 421 1736.4 419.4C1740.3 417.9 1748 417.1 1750.8 417.4C1753.5 417.7 1753 419.9 1753.8 421.5C1754.6 423 1755.6 426.1 1755.9 427"/><path d="M334 427C333.4 427.5 330.9 428.6 329.9 430.1C328.9 431.6 329 434.3 327.9 436.2C326.7 438.2 324.7 440.4 322.7 442.4C320.8 444.3 318 446.6 315.6 448.5C313.1 450.5 310 452.4 307.4 454.7C304.7 457 301.8 460.3 299.2 462.9C296.5 465.5 293.6 468.6 291 471.1C288.3 473.5 285.1 475.8 282.8 478.3C280.5 480.7 278.6 484.2 276.6 486.5C274.6 488.8 272.4 490.3 270.5 492.6C268.5 494.9 266.3 498.3 264.3 500.8C262.3 503.3 259.8 506 258.2 508C256.5 510 255 511.5 254.1 513.1C253.1 514.7 253.2 516.4 252 518.2C250.9 520 248.5 522.1 246.9 524.4C245.2 526.7 243.4 530.8 241.8 532.6C240.1 534.4 238 534 236.6 535.7C235.3 537.3 234.5 540.7 233.1 542.8C231.8 545 229.8 547.2 228.4 549C227 550.8 225.2 552.5 224.3 554.1C223.4 555.8 222.7 557.4 222.7 559.2C222.7 561 223.8 563.3 224.3 565.4C224.8 567.5 225.1 570.6 225.8 572.6C226.4 574.5 227.5 576.1 228.4 577.7C229.4 579.3 230.9 580.7 231.5 582.8C232.2 584.9 232.4 588.4 232.5 591C232.7 593.6 232.9 596.8 232.5 599.2C232.2 601.7 231.1 604.3 230.5 606.4C229.8 608.5 228.9 610.9 228.4 612.5C227.9 614.2 226.8 615.7 227.4 616.6C228.1 617.6 230.7 617.7 232.5 618.7C234.3 619.7 236.8 621.5 238.7 622.8C240.6 624.1 243.4 625.1 244.2 626.9C245 628.7 244 632.3 243.8 634.1C243.6 635.9 244.1 638.3 242.8 638.2C241.5 638 238.6 633.9 235.6 633C232.7 632.2 227.1 633.7 224.3 633C221.5 632.4 219.8 629.9 218.2 628.9C216.5 628 215.2 626.7 214.1 626.9C212.9 627.1 211.7 628.2 211 630C210.3 631.8 211 635.9 210 638.2C209 640.5 206.3 642 204.9 644.3C203.4 646.6 202.2 649.6 200.8 652.5C199.3 655.5 196.6 659.7 195.6 662.8C194.6 665.9 195.4 669.5 194.6 672C193.8 674.5 191.3 675.9 190.5 678.2C189.7 680.4 190.6 683.9 189.5 686.4C188.3 688.8 185.5 691.2 183.3 693.5C181.2 695.8 178.1 698.7 176.2 700.7C174.2 702.7 172.2 703.7 171 705.8C169.9 708 169.3 708.9 169 714C168.6 719.2 169 734.2 169 738"/><path d="M170 731.5C171.3 731.2 175.7 729.8 178.2 730C180.7 730.3 184.4 731.6 185.4 732.9C186.4 734.2 184.5 737.2 184.4 738"/><path d="M243.8 636.1C244.3 636.8 245.9 639.2 246.9 640.2C247.9 641.2 249.6 640.8 250 642.3C250.3 643.8 248.6 647.5 248.9 649.5C249.3 651.4 250.9 652.9 252 654.6C253.2 656.2 254.8 658.4 256.1 659.7C257.4 661 258.6 662.6 260.2 662.8C261.9 662.9 264.6 661.1 266.4 660.7C268.2 660.4 270 659.7 271.5 660.7C273 661.7 274.4 664.9 275.6 666.9C276.7 668.8 277.5 671.6 278.7 673C279.8 674.5 281.1 675.7 282.8 676.1C284.4 676.5 287.3 675.2 288.9 675.5C290.5 675.8 291.5 678.1 292.6 678.2C293.8 678.3 295 675.6 296.1 676.1C297.2 676.6 298.1 680.1 299.6 681.2C301.1 682.3 303.1 682.6 305.3 682.9C307.5 683.1 311.2 682.6 313.5 682.9C315.8 683.1 317.9 683.4 319.7 684.3C321.5 685.2 323.2 686.9 324.8 688.4C326.4 689.9 328.4 692.3 329.9 693.5C331.4 694.7 332.5 695.7 334 696C335.5 696.3 338 694.7 339.1 695.6C340.3 696.5 340.2 699.9 341.2 701.7C342.2 703.5 343.8 705.4 345.3 706.9C346.8 708.3 349.1 709.5 350.4 711C351.7 712.4 352.8 714.3 353.5 716.1C354.2 717.9 353.9 721.1 354.5 722.2C355.2 723.4 356.3 723.8 357.6 723.3C358.9 722.8 360.8 720.5 362.7 719.2C364.7 717.8 367.8 716 369.9 715.1C372 714.1 374.7 712.4 376 713C377.4 713.7 377.7 716.7 378.1 719.2C378.5 721.6 378.2 725.4 378.7 728.4C379.2 731.4 380.8 736.5 381.2 738"/><path d="M314.5 682.3C314.9 681.1 315.9 677.5 316.6 675.1C317.2 672.6 318.6 669.5 318.6 666.9C318.6 664.3 316.7 661.5 316.6 658.7C316.5 655.9 317.2 652.1 318 649.5C318.8 646.8 320.3 644.4 321.7 642.3C323.1 640.1 325.5 638.4 326.8 636.1C328.2 633.8 328.6 630.1 329.9 627.9C331.2 625.8 332.7 623.6 335 622.8C337.3 622 341.5 622.6 344.3 622.8C347.1 623 350.3 624.2 352.5 623.8C354.6 623.5 356 621.1 357.6 620.7C359.2 620.4 360.8 622.1 362.7 621.8C364.7 621.4 367.6 619 369.9 618.7C372.2 618.4 374.6 619.9 377.1 619.7C379.5 619.6 382.8 618.5 385.3 617.7C387.7 616.9 390 615.6 392.5 614.6C394.9 613.6 398.2 612.2 400.7 611.5C403.1 610.9 406.3 611.2 407.8 610.5C409.4 609.8 410.3 608.6 410.3 607.4C410.3 606.3 409.2 604.1 407.8 603.3C406.4 602.5 402.8 603.4 401.7 602.3C400.5 601.1 400.7 597.5 400.7 596.1C400.7 594.8 402.7 594.4 401.7 594.1C400.7 593.8 394.8 594.7 394.5 594.1C394.2 593.4 398 591.5 399.6 590C401.3 588.5 403.4 586.3 404.8 584.9C406.1 583.4 408 581.9 407.8 580.8C407.7 579.6 403.9 579.3 403.7 577.7C403.6 576.1 406.5 572.6 406.8 570.5C407.1 568.4 405.4 566 405.8 564.4C406.1 562.7 407.2 561 408.9 560.3C410.5 559.5 413.7 560.2 416 559.9C418.3 559.5 421.1 558.1 423.2 558.2C425.3 558.3 427.2 559.6 429.4 560.3C431.5 560.9 435.1 563.5 436.5 562.3C438 561.2 437.3 555.1 438.6 553.1C439.9 551.1 442.4 551 444.7 550C447 549 450.3 547.9 452.9 546.9C455.6 546 459.2 545.3 461.1 543.9C463.1 542.4 464.1 540 465.2 537.7C466.4 535.4 466.7 531.2 468.3 529.5C469.9 527.9 473.8 528.4 475.5 527.5C477.1 526.5 478.6 525 478.6 523.4C478.6 521.7 475.6 518.9 475.5 517.2C475.3 515.6 476.6 513.9 477.5 513.1C478.4 512.3 480.5 512.2 481 512.1"/><path d="M436.5 562.3C437.4 563.6 440.2 567.9 441.7 570.5C443.1 573.1 444.6 576.1 445.8 578.7C446.9 581.3 448.3 584.3 448.8 586.9C449.4 589.5 448.6 592.8 449.2 595.1C449.9 597.4 452.2 599.3 452.9 601.3C453.7 603.2 454.1 605.5 454 607.4C453.8 609.4 451.9 611.4 451.9 613.6C451.9 615.7 452.8 619.4 454 620.7C455.1 622.1 457.3 621.3 459.1 621.8C460.9 622.3 464.2 622.5 465.2 623.8C466.2 625.1 466.2 628.7 465.2 630C464.2 631.3 459.7 630.7 459.1 632C458.4 633.3 460 636.4 461.1 638.2C462.3 640 464.3 642 466.3 643.3C468.2 644.6 471.5 645.4 473.4 646.4C475.4 647.4 477.3 647.8 478.6 649.5C479.8 651.1 480.6 655.5 481 656.6"/><path d="M434.5 427C434.8 427.5 434.9 429.4 436.5 430.1C438.2 430.7 442.1 431.3 444.7 431.1C447.4 430.9 450.3 429.2 452.9 429.1C455.6 428.9 458.5 429.4 461.1 430.1C463.8 430.7 467.4 431.8 469.3 433.2C471.3 434.5 471.6 437.1 473.4 438.3C475.3 439.4 479.8 440 481 440.3"/><path d="M488.2 427C487.4 427.4 484.9 427.8 483.1 429.5C481.3 431.1 477.9 436 476.9 437.3"/><path d="M480 440.3C481 440.2 484.7 439.1 486.2 439.7C487.6 440.4 489.4 443 489.2 444.4C489.1 445.8 486 447.1 485.1 448.5C484.2 450 483.4 452.3 483.7 453.7C484 455 486.8 455.1 487.2 456.7C487.6 458.4 485.7 461.6 486.2 463.9C486.6 466.2 488.6 469.1 490.3 471.1C491.9 473 494.4 474.7 496.4 476.2C498.4 477.7 500.7 479.8 502.6 480.7C504.4 481.6 506.5 482.7 507.7 481.9C508.8 481.2 508.7 477.8 509.7 476.2C510.7 474.6 513 473.6 513.8 472.1C514.6 470.6 515.2 468.5 514.9 467C514.5 465.5 511.9 464.2 511.8 462.9C511.6 461.6 512.5 459.1 513.8 458.8C515.1 458.5 518 460.2 520 460.8C521.9 461.5 524.5 463 526.1 462.9C527.8 462.7 528.9 460.4 530.2 459.8C531.5 459.2 533 459.7 534.3 459.4C535.6 459.1 535.8 458.2 538.4 457.8C541.1 457.3 547.8 457.7 550.7 456.7C553.7 455.7 554.8 453.6 556.9 451.6C559 449.6 561.9 445.7 564.1 444.4C566.2 443.2 568.2 444 570.2 443.8C572.2 443.6 574.4 443.2 576.4 443.4C578.3 443.6 580.7 444.5 582.5 445C584.3 445.6 586.1 447.3 587.6 447.1C589.2 446.9 591.4 443.7 592.4 443.8C593.3 443.9 593.8 445.9 593.8 447.5C593.8 449.1 592.2 451.8 592.4 453.7C592.5 455.5 593.9 457.8 594.8 458.8C595.7 459.8 596.6 460.3 597.9 459.8C599.2 459.3 601.5 457.2 603 455.7C604.5 454.2 605.8 452.1 607.1 450.6C608.4 449.1 609.6 447.1 611.2 446.5C612.9 445.8 615.4 447.3 617.4 446.5C619.3 445.7 621.7 443 623.5 441.4C625.3 439.7 627 437.9 628.6 436.2C630.3 434.6 632.1 432.4 633.8 431.1C635.4 429.8 637.9 428.7 638.9 428C639.9 427.4 639.8 427.2 639.9 427"/><path d="M507.7 481.9C508.2 482.8 510 485.6 510.8 487.5C511.5 489.4 512.9 492 512.4 493.6C511.9 495.3 508.4 496.1 507.7 497.7C506.9 499.4 508.8 502.4 507.7 503.9C506.5 505.4 503 506 500.5 507C498 507.9 495.6 508.9 492.3 510C489 511.2 482 513.5 480 514.1"/><path d="M595.8 459.8C595.4 460.6 592.8 463.6 593.2 464.9C593.5 466.2 598 466.7 597.9 468C597.8 469.3 592.7 471.7 592.4 473.1C592 474.6 595.9 475.9 595.8 477.2C595.7 478.5 592.1 479.9 591.7 481.3C591.4 482.8 594.6 485.3 593.8 486.5C593 487.6 587.9 487.2 586.6 488.5C585.3 489.8 585.3 492.4 585.6 494.7C585.9 497 587.7 500.6 588.7 502.9C589.6 505.2 591.4 507 591.7 509C592.1 511 590.2 513.2 590.7 515.2C591.2 517.1 594.3 519.3 594.8 521.3C595.3 523.3 594.4 525.8 593.8 527.5C593.1 529.1 590.7 530.2 590.7 531.6C590.7 532.9 592.7 534.5 593.8 535.7C594.8 536.8 597.3 537.3 597.3 538.7C597.3 540.2 594.6 542.8 593.8 544.9C593 547 593.5 550.3 592.4 552.1C591.2 553.9 587.9 554.7 586.6 556.2C585.4 557.6 584.6 559.3 584.6 561.3C584.6 563.3 585.8 566 586.6 568.5C587.4 570.9 588.5 574.7 589.7 576.7C590.8 578.6 593 578.8 593.8 580.8C594.6 582.7 594.3 586.5 594.8 589C595.4 591.4 597.3 594 597.3 596.1C597.2 598.3 595.5 600.5 594.4 602.3C593.4 604.1 591.3 605.6 590.7 607.4C590.1 609.2 590.3 611.8 590.7 613.6C591.1 615.4 592.9 616.9 593.2 618.7C593.4 620.5 592.1 622.9 592.4 624.8C592.6 626.8 594.9 629.5 594.8 631C594.7 632.5 592.4 632.9 591.7 634.1C591.1 635.2 590.6 636.9 590.7 638.2C590.8 639.5 592.5 640.8 592.4 642.3C592.2 643.8 589.9 645.4 589.7 647.4C589.4 649.4 590.1 652.4 590.7 654.6C591.4 656.7 593.5 658.8 593.8 660.7C594.1 662.7 592.1 665.2 592.8 666.9C593.4 668.5 597.6 669.5 597.9 671C598.2 672.5 594.8 674.1 594.4 676.1C594 678.1 595.2 681 595.2 683.3C595.2 685.6 593.8 688.8 594.4 690.5C595 692.1 597.5 692.4 598.9 693.5C600.3 694.7 602.5 696.2 603 697.6C603.5 699.1 601.2 701.3 602 702.8C602.8 704.2 607.3 705.2 608.1 706.9C609 708.5 607.1 711.4 607.1 713C607.1 714.6 608 716.5 608.1 717.1"/><path d="M480 647.4C480.5 648.4 481.9 652.2 483.1 653.6C484.2 654.9 485.7 655.9 487.2 655.6C488.7 655.3 492.1 651 492.3 651.5C492.5 652 487.9 656.5 488.2 658.7C488.5 660.8 493.9 662.9 494.4 664.8C494.8 666.8 491.4 669.3 491.3 671C491.1 672.7 492 675.5 493.3 675.5C494.6 675.5 497.7 672.2 499.5 671C501.3 669.8 504.1 669.2 504.6 667.9C505.1 666.6 501.6 663.6 502.6 662.8C503.5 662 508.6 663.1 510.8 662.8C512.9 662.4 515.6 660.2 515.9 660.7C516.2 661.2 512.3 664.4 512.8 665.9C513.3 667.3 517 669 519 670C520.9 670.9 523.3 671 525.1 672C526.9 673 528.9 674.8 530.2 676.1C531.6 677.4 533.4 678.7 533.7 680.2C534 681.7 532.2 683.7 532.3 685.3C532.4 687 533.2 689.5 534.3 690.5C535.5 691.4 538 690.7 539.5 691.5C540.9 692.3 542.1 695.4 543.6 695.6C545 695.7 547.4 692.5 548.7 692.5C550 692.5 550.4 693.9 551.8 695.6C553.1 697.2 555.2 701.3 556.9 702.8C558.5 704.2 560.4 705 562 704.8C563.6 704.6 565.8 702.9 567.1 701.7C568.4 700.6 568.9 698.6 570.2 697.6C571.5 696.6 574.4 694.6 575.3 695.6C576.3 696.6 575.5 701.5 576 703.8C576.4 706.1 577 708.6 578.4 709.9C579.8 711.2 583.7 713 584.6 712C585.4 711 584.2 705.6 583.5 703.8C582.9 702 580 699.7 580.5 700.7C581 701.7 585 708.1 586.6 709.9C588.3 711.8 588.9 711.9 590.7 712.4C592.5 712.9 595.6 712.4 597.9 713C600.2 713.7 602.9 716 605.1 716.5C607.2 717 609.4 716.8 611.2 716.1C613 715.4 614.7 712.5 616.3 712C618 711.5 620 712 621.5 713C622.9 714 624.6 716.5 625.6 718.1C626.6 719.8 626.6 722 627.6 723.3C628.6 724.5 630.6 726.1 631.7 725.9C632.9 725.8 634.6 723.6 634.8 722.2C635 720.8 632.3 718.4 632.7 717.1C633.2 715.8 637.5 715.2 637.9 714C638.2 712.9 634.1 710.8 634.8 709.9C635.4 709.1 640.3 709.7 642 708.9C643.6 708.1 643.7 705.3 645 704.8C646.4 704.3 648.7 706.3 650.2 705.8C651.6 705.3 653.4 701.6 654.3 701.7C655.1 701.9 654.5 705.2 655.3 706.9C656.1 708.5 657.8 712 659.4 712C661 712 663.6 707.8 665.5 706.9C667.5 705.9 669.7 705.7 671.7 705.8C673.7 706 675.7 707.4 677.8 707.9C680 708.4 682.9 709.2 685 708.9C687.2 708.6 689.2 706.1 691.2 705.8C693.1 705.6 695.8 708 697.3 707.5C698.8 707 700.2 704 700.4 702.8C700.6 701.5 697.7 700 698.3 699.7C699 699.4 703 700.2 704.5 700.7C706 701.2 706.4 703.1 707.6 702.8C708.7 702.4 710 698.8 711.7 698.7C713.3 698.5 716.4 700.1 717.8 701.7C719.3 703.4 720.1 706.6 720.9 708.9C721.7 711.2 722.3 713.8 723 716.1C723.6 718.4 723.5 722.4 725 723.3C726.5 724.1 730.4 721.4 732.2 721.2C734 721 735.5 721.6 736.3 722.2C737.1 722.9 735.7 724.8 737.3 725.3C738.9 725.8 743.7 725.1 746.5 725.3C749.3 725.5 752.3 725.8 754.7 726.7C757.2 727.7 759.9 729.7 761.9 731.5C763.9 733.3 766.2 737 767 738"/><path d="M534.3 690.5C533.5 690.8 530.5 691.7 529.2 692.5C527.9 693.3 526.8 694.1 526.1 695.6C525.5 697.1 524.8 699.6 525.1 701.7C525.4 703.9 527.4 706.3 528.2 708.9C529 711.5 530.1 715 530.2 718.1C530.4 721.2 529.9 725.8 529.2 728.4C528.5 731 528.1 733.7 526.1 734.5C524.2 735.4 519.7 733.5 516.9 733.5C514.1 733.5 511 733.8 508.7 734.5C506.4 735.3 503.5 737.5 502.6 738"/><path d="M725 723.3C724.5 723.8 723.4 725 721.9 726.3C720.5 727.6 717.7 731 715.8 731.5C713.8 732 711.6 729.1 709.6 729.4C707.7 729.7 705.3 732.1 703.5 733.5C701.7 734.9 699.2 737.3 698.3 738"/><path d="M650.2 738C651.2 737.5 654.4 734.5 656.3 734.5C658.3 734.5 661.5 737.5 662.5 738"/><path d="M674.8 735.6 L683 738"/><path d="M697.3 427C698.3 427.3 701.7 427.9 703.5 429.1C705.3 430.2 706.6 432.5 708.6 434.2C710.6 435.8 714 437.5 715.8 439.3C717.6 441.1 718.4 443.6 719.9 445.5C721.4 447.3 723.2 449.8 725 450.6C726.8 451.4 729.8 451.4 731.2 450.6C732.5 449.8 732.4 446.1 733.2 445.5C734 444.8 735.6 445.2 736.3 446.5C736.9 447.8 736.5 451.5 737.3 453.7C738.1 455.8 741.1 457.7 741.4 459.8C741.7 461.9 739.5 464.8 739.4 467C739.2 469.1 739.8 471.3 740.4 473.1C740.9 474.9 742.7 476.8 742.8 478.3C743 479.7 742.6 481.5 741.4 482.4C740.2 483.2 737.1 483.1 735.3 483.4C733.4 483.7 730.8 483.4 730.1 484.4C729.5 485.4 730.5 488.2 731.2 489.5C731.8 490.8 734.6 491.3 734.2 492.6C733.9 493.9 729.1 496.1 729.1 497.7C729.1 499.4 732.9 501.1 734.2 502.9C735.5 504.7 736.2 507 737.3 509C738.5 511 739.6 513.7 741.4 515.2C743.2 516.6 746.1 517.4 748.6 518.2C751 519.1 754.2 519.7 756.8 520.3C759.4 520.8 762 521.6 765 521.7C767.9 521.9 772.3 521.5 775.2 521.3C778.2 521.1 780.9 520.8 783.4 520.3C786 519.8 789.8 518.6 791 518.2"/><path d="M761.9 522.3C761.6 523.2 761 526.3 759.9 527.5C758.7 528.6 756 528.5 754.7 529.5C753.4 530.5 751.5 532.3 751.7 533.6C751.8 534.9 754.8 536.1 755.8 537.7C756.7 539.4 758 541.7 757.8 543.9C757.6 546 755.6 548.7 754.7 551C753.9 553.3 753.8 556.6 752.7 558.2C751.5 559.9 747.9 560 747.6 561.3C747.2 562.6 750.3 564.8 750.6 566.4C751 568.1 748.8 570.4 749.6 571.5C750.4 572.7 754 573.3 755.8 573.6C757.6 573.9 759.9 572.8 760.9 573.6C761.9 574.4 762.6 577.6 761.9 578.7C761.3 579.9 757.1 579.5 756.8 580.8C756.5 582.1 758.9 585.3 759.9 586.9C760.8 588.6 762.1 589.4 762.9 591C763.8 592.7 765.1 595.4 765 597.2C764.8 599 762.1 600.7 761.9 602.3C761.7 603.9 763.3 605.3 764 607.4C764.6 609.6 766.7 614 766 615.6C765.4 617.3 762 616.5 759.9 617.7C757.7 618.8 755 622.5 752.7 622.8C750.4 623.1 748 620.9 745.5 619.7C743 618.5 739.3 615.2 737.3 615.2C735.3 615.2 735.2 618.8 733.2 619.7C731.2 620.6 726.8 619.8 725 620.7C723.2 621.7 722.9 624.1 721.9 625.9C720.9 627.7 720.2 630.2 718.9 632C717.5 633.8 714.7 635.5 713.7 637.1C712.7 638.8 712.4 640.8 712.7 642.3C713 643.8 715.5 645.1 715.4 646.4C715.2 647.7 711.9 648.5 711.7 650.5C711.4 652.4 713.1 656.1 713.7 658.7C714.3 661.3 715 664.7 715.4 666.9C715.7 669 715.4 670.5 715.8 672C716.2 673.5 718.2 675 717.8 676.1C717.5 677.3 714.2 677.4 713.7 679.2C713.2 681 714.9 684.9 714.8 687.4C714.6 689.8 713.4 692.6 712.7 694.6C712 696.5 711 698.9 710.7 699.7"/><path d="M940.7 427C941 428 941.6 431.5 942.7 433.2C943.9 434.8 946.4 435.8 947.9 437.3C949.3 438.7 951.4 440.2 952 442.4C952.6 444.5 951.6 448.1 951.6 450.6C951.6 453 951.2 455.9 952 457.8C952.7 459.6 955.5 460.4 956.1 461.9C956.7 463.3 956.5 465.8 955.7 467C954.8 468.1 952 468.2 950.9 469C949.9 469.8 949.1 470.6 948.9 472.1C948.7 473.6 949.6 476.3 949.9 478.3C950.2 480.2 950.3 482.8 950.9 484.4C951.6 486 953.1 487 954 488.5C954.9 490 956.8 492.2 956.5 493.6C956.2 495.1 953.5 496.3 952 497.7C950.4 499.2 948.8 501.2 946.8 502.9C944.9 504.5 942 506.5 939.7 508C937.4 509.5 934.6 510.9 932.5 512.1C930.4 513.2 927.5 513.8 926.3 515.2C925.2 516.5 925.3 518.3 925.3 520.3C925.3 522.3 926.7 525.8 926.3 527.5C926 529.1 923.1 529.7 923.3 530.5C923.4 531.4 926.2 531.9 927.4 532.6C928.5 533.2 930.1 533.7 930.4 534.6C930.8 535.6 929.6 538.1 929.4 538.7"/><path d="M790 520.3C791.1 520.1 794.9 519.6 797.2 519.3C799.5 518.9 802.4 518.1 804.4 518.2C806.3 518.4 807.8 519.9 809.5 520.3C811.1 520.7 813 521.7 814.6 520.9C816.2 520.1 817.9 516.5 819.7 515.6C821.5 514.7 823.9 515.2 825.9 515.2C827.8 515.1 830.4 514.7 832 515.2C833.7 515.7 834.5 518.1 836.1 518.2C837.8 518.4 839.8 516.3 842.3 516.2C844.7 516 849.6 518 851.5 517.2C853.4 516.4 852.7 512.5 854 511.1C855.3 509.6 858.3 509.1 859.7 508C861.1 506.8 861 504.4 862.8 503.9C864.6 503.4 869.3 503.9 871 504.9C872.6 505.9 872.6 508.1 873 510C873.5 512 873 515.1 873.6 517.2C874.3 519.3 876.1 521.8 877.1 523.4C878.2 524.9 880.4 525.7 880.2 527.1C880 528.4 877 530.2 876.1 531.6C875.2 532.9 874.1 534.4 874.5 535.7C874.8 537 877.5 538.1 878.2 539.8C878.8 541.4 878.6 544.5 878.6 545.9C878.6 547.3 876.9 547.8 878.2 548.4C879.4 549 883.7 549.3 886.4 549.6C889 549.9 891.9 550 894.6 550C897.2 550 900.6 549.7 902.8 549.6C904.9 549.5 906.9 550.3 907.9 549.6C908.9 548.9 907.4 546.4 908.9 545.5C910.4 544.6 915 544.6 917.1 543.9C919.2 543.1 920.8 541.8 922.2 540.8C923.7 539.8 925 538 926.3 537.7C927.7 537.4 929.1 538.1 930.4 538.7C931.8 539.4 934.4 540.3 934.5 541.8C934.7 543.3 931.8 546.2 931.5 548C931.1 549.8 931.5 551.6 932.5 553.1C933.5 554.6 936.5 555.9 937.6 557.2C938.7 558.5 939.4 560 939.3 561.3C939.1 562.6 936.8 563.9 936.6 565.4C936.4 566.9 937.5 569 938 570.5C938.5 572 939.9 573.5 939.7 574.6C939.4 575.8 937.7 576.9 936.6 577.7C935.4 578.5 933.3 578.8 932.5 579.7C931.7 580.7 931.3 582.2 931.5 583.8C931.6 585.5 932.5 588.7 933.5 590C934.5 591.3 936.3 591.6 937.6 592C938.9 592.5 940.6 592.1 941.7 593.1C942.9 594.1 943.6 596.6 944.8 598.2C945.9 599.8 947.6 602.4 948.9 603.3C950.2 604.2 951.7 603.1 953 603.7C954.3 604.4 956.9 606.5 957.1 607.4C957.3 608.3 955.2 609.3 954 609.5C952.9 609.6 950.1 608 949.9 608.4C949.8 608.9 952.5 610.7 953 612.5C953.5 614.4 953.6 617.8 953 619.7C952.3 621.7 950 623.4 948.9 624.8C947.7 626.3 947 627.8 945.8 628.9C944.7 630.1 942.5 630.9 941.7 632C940.9 633.2 940.5 635.1 940.7 636.1C940.9 637.1 941.4 637.8 942.7 638.2C944.1 638.5 947.7 637.7 948.9 638.2C950 638.7 950.2 640.3 949.9 641.2C949.6 642.2 947.5 643.2 946.8 644.3C946.2 645.5 945.2 647.3 945.8 648.4C946.5 649.6 949.6 650.4 950.9 651.5C952.3 652.6 953.7 654.1 954 655.6C954.3 657.1 952.5 659.3 953 660.7C953.5 662.2 956.2 663.4 957.1 664.8C958 666.3 958.1 668.1 958.5 670C959 671.8 958.5 675 959.8 676.1C961 677.3 964.6 676.5 966.3 677.1C968 677.8 969.6 679.2 970.4 680.2C971.2 681.2 971.8 682.3 971.4 683.3C971.1 684.3 968.4 685.4 968.4 686.4C968.4 687.3 969.8 688.3 971.4 689.4C973.1 690.6 977.3 691.9 978.6 693.5C979.9 695.2 979.2 697.7 979.6 699.7C980.1 701.6 980.9 704 981.7 705.8C982.5 707.6 984.1 709.5 984.8 711C985.4 712.4 986.3 713.7 985.8 715.1C985.3 716.4 982.7 717.8 981.7 719.2C980.7 720.5 979.5 722.3 979.6 723.3C979.8 724.2 981.1 725.5 982.7 725.3C984.4 725.1 988.1 722.4 989.9 722.2C991.7 722.1 992.2 724.8 994 724.3C995.8 723.8 999 719.5 1001.2 719.2C1003.3 718.8 1005 722.6 1007.3 722.2C1009.6 721.9 1012.9 718.6 1015.5 717.1C1018.1 715.6 1022.1 714.5 1023.7 713C1025.4 711.5 1024.6 708.7 1025.8 707.9C1026.9 707.1 1029.6 707.5 1030.9 707.9C1032.2 708.3 1032 710.1 1034 710.3C1035.9 710.6 1041.6 710.6 1043.2 709.5C1044.8 708.5 1044.9 705.2 1044.2 703.8C1043.6 702.4 1039.1 702 1039.1 700.7C1039.1 699.4 1043.1 697.2 1044.2 695.6C1045.4 693.9 1046 692.3 1046.3 690.5C1046.6 688.7 1045.6 685.9 1046.3 684.3C1046.9 682.7 1048.7 681.4 1050.4 680.2C1052 679.1 1054.6 677.6 1056.5 677.1C1058.5 676.7 1060.4 677.3 1062.7 677.5C1065 677.8 1068.3 678.7 1070.9 678.8C1073.5 678.9 1076.5 678 1079.1 678.2C1081.7 678.3 1085 678.8 1087.3 679.6C1089.6 680.3 1091.2 682.4 1093.4 682.9C1095.6 683.3 1099.8 682.4 1101 682.3"/><path d="M979.6 723.3C979.3 724.1 978.3 726.6 977.6 728.4C976.9 730.2 975.5 733 975.5 734.5C975.5 736.1 977.3 737.5 977.6 738"/><path d="M962.2 738C963 737.1 965.7 734 967.3 732.5C969 730.9 971.2 728.7 972.5 728.4C973.8 728.1 975.1 730.1 975.5 730.4"/><path d="M957.1 608.4C957.4 609.3 957.8 612.8 959.1 613.6C960.5 614.4 963.5 613.7 965.3 613.6C967.1 613.4 969.1 613.7 970.4 612.5C971.7 611.4 972.5 608.2 973.5 606.4C974.5 604.6 975.3 602.5 976.6 601.3C977.9 600.1 980.1 599.5 981.7 598.8C983.3 598.2 985.2 597.7 986.8 597.2C988.5 596.6 990.6 595.5 991.9 595.5C993.3 595.5 994.4 597.7 995 597.2C995.7 596.6 995.2 593.3 996 592C996.9 590.8 999.2 589.4 1000.1 589.4C1001.1 589.4 1002.4 591 1002.2 592C1002 593.1 998.3 595.2 999.1 596.1C999.9 597.1 1004.7 597.6 1007.3 598.2C1009.9 598.8 1013.4 599.1 1015.5 599.6C1017.7 600.1 1019.3 600.5 1020.7 601.3C1022 602 1022.9 605 1023.7 604.3C1024.5 603.7 1025.3 599.6 1025.8 597.2C1026.3 594.7 1026.1 590.8 1026.8 589C1027.5 587.2 1028.6 585.7 1029.9 585.9C1031.2 586.1 1033.5 589.5 1035 590C1036.5 590.5 1037.5 589.6 1039.1 589C1040.7 588.3 1044.1 585.9 1045.3 585.9C1046.4 585.9 1045.8 589.1 1046.3 589C1046.8 588.8 1047 585.4 1048.3 584.9C1049.6 584.4 1052.8 585 1054.5 585.9C1056.1 586.8 1056.8 590.4 1058.6 590.6C1060.4 590.8 1063.8 587.7 1065.8 586.9C1067.7 586.2 1069.4 586.3 1070.9 585.9C1072.4 585.5 1073.8 584.5 1075 584.5C1076.1 584.5 1077.2 586.6 1078.1 585.9C1078.9 585.1 1078.8 581.9 1080.1 579.7C1081.4 577.6 1084.3 574.5 1086.3 572.6C1088.2 570.6 1090.6 569.1 1092.4 567.4C1094.2 565.8 1096.2 564.1 1097.5 562.3C1098.9 560.5 1100.5 557.1 1101 556.2"/><path d="M1003.2 427 L1007.3 428"/><path d="M1016.6 427C1017.2 427.7 1019.2 429.6 1020.7 431.1C1022.1 432.6 1025 434.4 1025.8 436.2C1026.5 438 1024.9 440.7 1025.4 442.4C1025.9 444 1027.8 444.8 1028.9 446.5C1029.9 448.1 1030.8 451 1031.9 452.6C1033.1 454.3 1035 454.9 1036 456.7C1037 458.5 1037.3 461.8 1038.1 463.9C1038.9 466 1040.3 468.1 1041.2 470.1C1042 472 1042.7 474.3 1043.2 476.2C1043.7 478.1 1043.1 481.2 1044.2 481.9C1045.4 482.7 1049.6 481.8 1050.4 480.7C1051.2 479.6 1049.8 477.1 1049.4 475.2C1048.9 473.3 1047.1 470.8 1047.3 469C1047.5 467.2 1050.1 465.7 1050.4 463.9C1050.7 462.1 1049.8 459.9 1049.4 457.8C1048.9 455.6 1047.8 452.9 1047.3 450.6C1046.8 448.3 1045.6 444.7 1046.3 443.4C1046.9 442.1 1049.8 442.2 1051.4 442.4C1053 442.5 1055.4 445.1 1056.5 444.4C1057.7 443.8 1057.4 439.1 1058.6 438.3C1059.7 437.5 1062.7 440 1063.7 439.3C1064.7 438.6 1063.7 435.2 1064.7 434.2C1065.7 433.2 1068.7 434 1069.9 433.2C1071 432.3 1071.9 430 1071.9 429.1C1071.9 428.1 1070.2 427.3 1069.9 427"/><path d="M1200.5 427C1200.6 427.4 1200.5 429.1 1201.5 429.5C1202.5 429.8 1204.8 428.8 1206.6 429.1C1208.4 429.3 1211 431 1212.8 431.1C1214.6 431.2 1217.1 430.1 1217.9 429.5C1218.7 428.8 1217.9 427.4 1217.9 427"/><path d="M1241.5 427C1242.5 427.4 1245.3 429.1 1247.6 429.5C1249.9 429.8 1253.2 429 1255.8 429.1C1258.4 429.1 1261.4 430.2 1264 430.1C1266.6 429.9 1270.6 428.5 1272.2 428C1273.9 427.5 1273.9 427.2 1274.3 427"/><path d="M1204.6 430.1C1204.1 431.1 1202.3 434.3 1201.5 436.2C1200.7 438.2 1199.7 440.6 1199.4 442.4C1199.2 444.2 1201 446.9 1200.1 447.5C1199.1 448.1 1195.2 445.9 1193.3 445.9C1191.4 445.9 1189.1 446.4 1188.2 447.5C1187.2 448.6 1187 451 1187.1 452.6C1187.3 454.3 1189.5 456.3 1189.2 457.8C1188.9 459.2 1186.4 461 1185.1 461.9C1183.8 462.7 1182.3 462.1 1181 462.9C1179.7 463.7 1178 465.7 1176.9 467C1175.8 468.3 1174.4 469.6 1174.2 471.1C1174.1 472.6 1175.4 474.6 1175.9 476.2C1176.3 477.8 1177.7 480.3 1176.9 481.3C1176.1 482.4 1171.7 481.5 1170.7 482.8C1169.7 484.1 1171.1 487.6 1170.7 489.5C1170.4 491.4 1169.5 493 1168.7 494.7C1167.9 496.3 1166.6 498 1165.6 499.8C1164.6 501.6 1163.5 504.5 1162.5 505.9C1161.5 507.4 1160.9 508.7 1159.5 509C1158 509.3 1154.9 508.3 1153.3 508C1151.7 507.7 1150 507.9 1149.2 507C1148.4 506 1148.7 502 1148.2 501.8C1147.7 501.7 1147.3 505.1 1146.1 505.9C1145 506.8 1142.3 506.3 1141 507C1139.7 507.6 1138.9 510.4 1137.9 510C1136.9 509.7 1135.8 506.5 1134.9 504.9C1133.9 503.3 1133.4 500.6 1131.8 499.8C1130.1 499 1126.7 499.5 1124.6 499.8C1122.5 500.1 1120.3 500.8 1118.5 501.8C1116.6 502.8 1115 505 1113.3 505.9C1111.7 506.8 1109.5 506.4 1108.2 507.4C1106.9 508.4 1105.5 510.3 1105.1 512.1C1104.8 513.8 1106.1 516.4 1106.2 518.2C1106.2 520 1105.6 521.9 1105.7 523.4C1105.9 524.8 1107.3 525.8 1107.2 527.5C1107.1 529.1 1105.6 531.6 1105.1 533.6C1104.6 535.6 1104.6 537.8 1104.1 539.8C1103.6 541.7 1102.7 544.4 1102.1 545.9C1101.4 547.4 1099.8 548 1100 549C1100.2 550 1103.1 550.8 1103.1 552.1C1103.1 553.4 1100.5 556.4 1100 557.2"/><path d="M1200.1 447.5C1200.4 448.5 1201.5 452 1202.5 453.7C1203.6 455.3 1205 456.7 1206.6 457.8C1208.3 458.8 1211.1 459.9 1212.8 460.2C1214.4 460.5 1216 459.2 1216.9 459.8C1217.7 460.4 1218.4 462.8 1217.9 463.9C1217.4 465.1 1214.3 465.7 1213.8 467C1213.3 468.3 1214 470.6 1214.8 472.1C1215.6 473.6 1217.4 475.4 1218.9 476.2C1220.4 477 1222.7 476.2 1224 477.2C1225.4 478.2 1226 480.7 1227.1 482.4C1228.3 484 1230.1 486.3 1231.2 487.5C1232.4 488.6 1234 488.2 1234.3 489.5C1234.6 490.8 1233.6 493.7 1233.3 495.7C1232.9 497.7 1233.1 500.5 1232.2 501.8C1231.4 503.1 1228.6 502.7 1228.1 503.9C1227.6 505 1228.3 507.2 1229.2 509C1230 510.8 1231.8 514 1233.3 515.2C1234.7 516.3 1236.9 515.5 1238.4 516.2C1239.9 516.8 1241.2 518.4 1242.5 519.3C1243.8 520.1 1245.4 520.3 1246.6 521.3C1247.7 522.3 1249.3 523.9 1249.7 525.4C1250 526.9 1248.1 529.2 1248.6 530.5C1249.1 531.8 1251.1 532.8 1252.7 533.6C1254.4 534.4 1257.3 534.8 1258.9 535.7C1260.5 536.5 1262.2 537.3 1263 538.7C1263.8 540.2 1263.2 543.4 1264 544.9C1264.8 546.4 1267.3 546.7 1268.1 548C1268.9 549.3 1269.6 551.4 1269.1 553.1C1268.7 554.7 1266.2 556.7 1265 558.2C1263.9 559.7 1262.9 560.8 1262 562.3C1261.1 563.8 1259.3 565.8 1259.5 567.4C1259.7 569.1 1261.8 570.8 1263 572.6C1264.2 574.4 1265.9 576.6 1267.1 578.7C1268.2 580.8 1269.3 583.6 1270.2 585.9C1271 588.2 1272 590.8 1272.2 593.1C1272.5 595.4 1272.1 598.1 1271.8 600.2C1271.5 602.4 1270.8 604.6 1270.2 606.4C1269.6 608.2 1268 610 1268.1 611.5C1268.3 613 1270.4 614 1271.2 615.6C1272 617.3 1272.8 619.6 1273.2 621.8C1273.7 623.9 1273.4 626.7 1273.9 628.9C1274.4 631.2 1275.4 634.6 1276.3 636.1C1277.2 637.6 1278.9 637.8 1279.4 638.2"/><path d="M1271.8 600.2C1273.2 600.9 1277.7 603.1 1280.4 604.3C1283.1 605.6 1286 606.7 1288.6 607.8C1291.2 609 1294.5 610.3 1296.8 611.5C1299.1 612.8 1301.2 614.3 1303 615.6C1304.8 616.9 1306.8 618.2 1308.1 619.7C1309.4 621.2 1310.2 623.3 1311.2 624.8C1312.2 626.4 1312.8 628.7 1314.2 629.6C1315.7 630.4 1318.6 630.3 1320.4 630.4C1322.2 630.5 1323.9 629.6 1325.5 630.4C1327.2 631.1 1330.3 633.9 1330.7 635.1C1331 636.3 1328.4 637.2 1327.6 638.2C1326.8 639.2 1325.4 639.9 1325.5 641.2C1325.7 642.6 1327.5 644.9 1328.6 646.4C1329.7 647.9 1331.4 650.1 1332.7 650.5C1334 650.8 1335.2 648.3 1336.8 648.4C1338.4 648.6 1341 650.4 1343 651.5C1344.9 652.6 1347.3 655.4 1349.1 655.6C1350.9 655.8 1352.6 652.5 1354.2 652.5C1355.9 652.5 1358 654.3 1359.4 655.6C1360.7 656.9 1361.6 660.7 1362.4 660.7C1363.2 660.7 1363.2 656.7 1364.5 655.6C1365.8 654.5 1369 654 1370.6 653.6C1372.3 653.1 1373.6 652.2 1374.7 652.5C1375.9 652.9 1376.3 655.1 1377.8 655.6C1379.3 656.1 1382.2 654.9 1384 655.6C1385.8 656.3 1387.3 658.1 1389.1 659.7C1390.9 661.3 1393.1 664.2 1395.2 665.9C1397.4 667.5 1399.9 669 1402.4 670C1404.9 670.9 1409.6 671.7 1411 672"/><path d="M1388.1 659.7C1387.7 660.7 1386.8 664 1386 665.9C1385.2 667.7 1384.1 669.2 1382.9 671C1381.8 672.8 1380 676.8 1378.8 677.1C1377.7 677.5 1376.9 674.2 1375.8 673C1374.6 671.9 1372.8 669.8 1371.7 670C1370.5 670.1 1369.6 673.9 1368.6 674.1C1367.6 674.2 1366.7 671.6 1365.5 671C1364.4 670.3 1362.7 669.8 1361.4 670C1360.1 670.1 1358.8 671.5 1357.3 672C1355.8 672.5 1353.3 672 1352.2 673C1351.1 674 1350.2 676.5 1350.5 678.2C1350.9 679.8 1352.7 682.1 1354.2 683.3C1355.8 684.4 1358.4 684.7 1360.4 685.3C1362.3 686 1364.4 686.9 1366.5 687.4C1368.7 687.9 1371.7 687.6 1373.7 688.4C1375.7 689.2 1378.7 691.2 1378.8 692.5C1379 693.8 1376.4 695.3 1374.7 696.6C1373.1 697.9 1370.9 699.6 1368.6 700.7C1366.3 701.9 1363 702.6 1360.4 703.8C1357.8 704.9 1354.8 706.7 1352.2 707.9C1349.6 709 1346.1 710 1344 711C1341.8 711.9 1339.5 712.6 1338.9 714C1338.2 715.5 1339.2 718.1 1339.9 720.2C1340.5 722.3 1342.3 725.1 1343 727.4C1343.6 729.7 1343.6 732.8 1344 734.5C1344.3 736.2 1344.8 737.5 1345 738"/><path d="M1100 683.3C1101 682.6 1103.9 679.8 1106.2 679.2C1108.4 678.6 1112.1 678.9 1114.4 679.6C1116.6 680.2 1118.4 683 1120.5 683.3C1122.6 683.5 1125.5 682 1127.7 681.2C1129.8 680.4 1132.5 679.6 1133.8 678.2C1135.1 676.7 1134.7 673.8 1135.9 672C1137 670.2 1140 668.7 1141 666.9C1142 665.1 1141.9 662.9 1142 660.7C1142.2 658.6 1141 654.9 1142 653.6C1143 652.2 1146.2 652.6 1148.2 652.5C1150.1 652.4 1152.9 653.5 1154.3 652.9C1155.8 652.3 1155.9 649.4 1157.4 648.8C1158.9 648.3 1161.4 648.9 1163.6 649.5C1165.7 650 1168.9 651.4 1170.7 652.5C1172.5 653.7 1173.7 655.1 1174.8 656.6C1176 658.2 1176.8 662 1177.9 662.4C1179.1 662.7 1180.7 659.9 1182 658.7C1183.3 657.5 1184.6 656 1186.1 655C1187.6 654 1189.6 652.8 1191.2 652.5C1192.9 652.3 1194.4 653.2 1196.4 653.6C1198.3 653.9 1202.1 655.1 1203.5 654.6C1205 654.1 1205.4 652 1205.6 650.5C1205.8 649 1203.9 646.5 1204.6 645.3C1205.2 644.2 1208.7 644.4 1209.7 643.3C1210.7 642.2 1210.1 639.8 1210.7 638.2C1211.4 636.5 1212.5 634.2 1213.8 633C1215.1 631.9 1217.3 632.1 1218.9 631C1220.6 629.8 1222.6 625.9 1224 625.9C1225.5 625.9 1226.7 630 1228.1 631C1229.6 632 1231.8 632 1233.3 632C1234.7 632 1236.5 630.2 1237.4 631C1238.2 631.8 1237.7 635.3 1238.4 637.1C1239 639 1240.6 640.5 1241.5 642.3C1242.3 644.1 1243 646.9 1243.5 648.4C1244 649.9 1243.6 651.7 1244.5 651.5C1245.5 651.3 1248 647.9 1249.7 647.4C1251.3 646.9 1253.3 648.9 1254.8 648.4C1256.3 647.9 1257.4 645 1258.9 644.3C1260.4 643.7 1262.4 643.9 1264 644.3C1265.7 644.7 1267.5 646.8 1269.1 646.8C1270.8 646.8 1272.8 645.5 1274.3 644.3C1275.7 643.1 1277.5 640.2 1278.4 639.2C1279.2 638.1 1279.2 638 1279.4 637.8"/><path d="M1430.5 427C1431.3 427.5 1435 428.6 1435.6 430.1C1436.3 431.6 1434.8 434.4 1434.6 436.2C1434.4 438 1433.5 440.2 1434.2 441.4C1434.8 442.5 1437.5 442.4 1438.7 443.4C1439.9 444.4 1440.8 446.4 1441.8 447.5C1442.8 448.7 1443.7 449.6 1444.9 450.6C1446 451.6 1448.3 452.5 1449 453.7C1449.6 454.8 1449.6 456.8 1449 457.8C1448.3 458.7 1445.7 458.8 1444.9 459.8C1444 460.8 1443.7 462.6 1443.8 463.9C1444 465.2 1444.7 467.7 1445.9 468C1447 468.3 1448.9 465.8 1451 465.5C1453.1 465.3 1456.7 466.1 1459.2 466.4C1461.7 466.6 1464.9 467.7 1466.4 467C1467.9 466.3 1467.3 462.3 1468.4 461.9C1469.6 461.4 1471.8 464.2 1473.6 463.9C1475.4 463.6 1477.6 460.3 1479.7 459.8C1481.8 459.3 1484.9 460.5 1486.9 460.8C1488.9 461.2 1490.5 462.7 1492 461.9C1493.5 461 1495 456.5 1496.1 455.7C1497.3 454.9 1498 456.4 1499.2 456.7C1500.3 457.1 1502.3 458.2 1503.3 457.8C1504.3 457.3 1504.2 454.5 1505.3 453.7C1506.5 452.8 1509.3 453.6 1510.5 452.6C1511.6 451.6 1511.4 448.4 1512.5 447.5C1513.7 446.6 1516.2 446.9 1517.6 447.1C1519.1 447.3 1520.3 448.5 1521.7 448.5C1523.2 448.6 1526 448.3 1526.9 447.5C1527.7 446.7 1526.2 444.4 1526.9 443.4C1527.5 442.4 1529.7 442.2 1531 441.4C1532.3 440.5 1533.6 438.6 1535.1 438.3C1536.5 437.9 1539 440 1540.2 439.3C1541.3 438.6 1541.1 434.8 1542.2 434.2C1543.4 433.5 1545.9 434.7 1547.4 435.2C1548.8 435.7 1550 437.3 1551.5 437.3C1552.9 437.3 1554.8 435.7 1556.6 435.2C1558.4 434.7 1560.9 434.2 1562.7 434.2C1564.5 434.2 1566.6 435.4 1567.9 435.2C1569.2 435 1570 434.1 1570.9 433.2C1571.9 432.2 1572.9 430 1574 429.1C1575.2 428.1 1577.5 427.3 1578.1 427"/><path d="M1560.7 427C1561.2 427.4 1562.3 429 1563.8 429.5C1565.2 430 1568.3 430.3 1569.9 430.1C1571.6 429.8 1573.4 428.4 1574 428"/><path d="M1492 461.9C1492 463 1492.2 466.7 1492 469C1491.8 471.3 1492 474.4 1491 476.2C1490 478 1487 479 1485.9 480.3C1484.7 481.6 1484 482.8 1483.8 484.4C1483.6 486 1484.3 488.8 1484.8 490.6C1485.3 492.4 1485.7 494.3 1486.9 495.7C1488 497.1 1490.4 498.3 1492 499.2C1493.6 500 1495.5 500.2 1497.1 500.8C1498.8 501.4 1500.6 502 1502.3 502.9C1503.9 503.7 1505.9 505.1 1507.4 505.9C1508.9 506.8 1510 507.8 1511.5 508C1513 508.1 1515.3 506.6 1516.6 507C1517.9 507.3 1519.2 508.4 1519.7 510C1520.2 511.7 1519.5 515.1 1519.7 517.2C1519.9 519.3 1520.1 521.7 1520.7 523.4C1521.4 525 1523 526.1 1523.8 527.5C1524.6 528.8 1524.7 530.6 1525.8 531.6C1527 532.5 1529.3 533 1531 533.6C1532.6 534.3 1534.8 535.7 1536.1 535.7C1537.4 535.7 1537.9 533.9 1539.2 533.6C1540.5 533.3 1543.5 533.2 1544.3 534C1545.1 534.8 1544 537.2 1544.3 538.7C1544.6 540.3 1545.7 542.2 1546.3 543.9C1547 545.5 1547.9 547.3 1548.4 549C1548.9 550.6 1550.1 553.1 1549.4 554.1C1548.8 555.1 1545.8 554.8 1544.3 555.1C1542.8 555.5 1540 555.5 1540.2 556.2C1540.4 556.8 1543.8 558.3 1545.3 559.2C1546.8 560.2 1549.3 561.3 1549.4 562.3C1549.6 563.3 1547.8 565 1546.3 565.4C1544.9 565.8 1542 564.9 1540.2 564.8C1538.4 564.7 1536.3 564.2 1535.1 564.8C1533.9 565.4 1532.8 567.1 1532.6 568.5C1532.4 569.9 1533.2 572.3 1534 573.6C1534.9 574.9 1537.6 575.4 1538.1 576.7C1538.6 578 1537.9 580.2 1537.1 581.8C1536.3 583.4 1534.3 585.4 1533 586.9C1531.7 588.4 1530.6 589.9 1528.9 591C1527.3 592.2 1524.9 593.4 1522.8 594.1C1520.6 594.7 1517.9 595.1 1515.6 595.1C1513.3 595.1 1510.2 594.9 1508.4 594.1C1506.6 593.3 1505.6 590.2 1504.3 590C1503 589.8 1501.5 591.8 1500.2 593.1C1498.9 594.4 1496.9 596.6 1496.1 598.2C1495.3 599.8 1494.9 601.8 1495.1 603.3C1495.2 604.8 1496.5 605.8 1497.1 607.4C1497.8 609.1 1498.9 612.6 1499.2 613.6"/><path d="M1410 672C1410.8 672.5 1413.5 673.8 1415.1 675.1C1416.8 676.4 1418.6 679.9 1420.3 680.2C1421.9 680.5 1424.1 678.1 1425.4 677.1C1426.7 676.1 1428.5 675.2 1428.5 674.1C1428.5 672.9 1425.2 671.4 1425.4 670C1425.5 668.5 1429.3 666.5 1429.5 664.8C1429.6 663.2 1427.2 661.3 1426.4 659.7C1425.6 658.1 1424.4 656.5 1424.4 654.6C1424.4 652.6 1425.4 649.7 1426.4 647.4C1427.4 645.1 1429 642 1430.5 640.2C1432 638.4 1434.3 637.9 1435.6 636.1C1436.9 634.3 1436.7 630.8 1438.7 628.9C1440.7 627.1 1445 626.2 1447.9 624.8C1450.9 623.5 1454.4 621.7 1457.2 620.7C1459.9 619.8 1462.9 619.4 1465.4 618.7C1467.8 618 1470.6 617.6 1472.5 616.6C1474.5 615.7 1476 613.4 1477.7 612.5C1479.3 611.7 1481.3 611.2 1482.8 611.5C1484.3 611.8 1485.6 614.4 1486.9 614.6C1488.2 614.8 1489.7 612.9 1491 612.5C1492.3 612.2 1493.8 612.2 1495.1 612.5C1496.4 612.9 1497.2 614.2 1499.2 614.6C1501.2 615 1504.8 614.9 1507.4 615.2C1510 615.5 1513.3 615.8 1515.6 616.6C1517.9 617.5 1519.8 619.1 1521.7 620.7C1523.7 622.4 1526.1 625.1 1527.9 626.9C1529.7 628.7 1531.4 630.5 1533 632C1534.7 633.6 1536.3 635.4 1538.1 636.5C1539.9 637.7 1543 638 1544.3 639.2C1545.6 640.4 1544.9 643.4 1546.3 644.3C1547.8 645.2 1551.1 644.4 1553.5 644.7C1556 645.1 1559.3 645.8 1561.7 646.4C1564.2 646.9 1566.6 647.5 1568.9 648C1571.2 648.5 1573.9 648.9 1576.1 649.5C1578.2 650 1580.3 651.7 1582.2 651.5C1584.2 651.3 1586.2 649 1588.4 648C1590.5 647 1593.7 645.4 1595.5 645.3C1597.4 645.3 1598.7 646.3 1599.6 647.4C1600.6 648.5 1600.9 651.2 1601.7 652.5C1602.5 653.8 1604.8 654.1 1604.8 655.6C1604.8 657.1 1601.4 660.1 1601.7 661.8C1602 663.4 1605.2 664.5 1606.8 665.9C1608.5 667.2 1610.3 668.6 1611.9 670C1613.6 671.3 1615.6 672.7 1617.1 674.1C1618.5 675.4 1621.2 676.8 1621.2 678.2C1621.2 679.5 1616.9 680.8 1617.1 682.3C1617.2 683.7 1620.4 685.7 1622.2 687.4C1624 689 1626.5 690.9 1628.3 692.5C1630.2 694.1 1632.8 696 1633.5 697.6C1634.1 699.3 1632.3 701.1 1632.5 702.8C1632.6 704.4 1634.5 706.4 1634.5 707.9C1634.5 709.4 1632 711.2 1632.5 712C1632.9 712.8 1636.1 713.2 1637.6 713C1639.1 712.8 1641.2 711.8 1641.7 711C1642.2 710.1 1640.2 709.2 1640.7 707.9C1641.1 706.6 1643.4 704.4 1644.8 702.8C1646.1 701.1 1647.5 698.9 1648.9 697.6C1650.2 696.3 1651.3 694.6 1653 694.6C1654.6 694.6 1657.3 696.5 1659.1 697.6C1660.9 698.8 1662.4 701.2 1664.2 701.7C1666 702.2 1668.4 701.2 1670.4 700.7C1672.3 700.2 1675.5 700.1 1676.5 698.7C1677.5 697.2 1676.6 693.9 1676.5 691.5C1676.5 689 1676.4 686.1 1676.1 683.3C1675.8 680.5 1674.3 675.9 1674.5 674.1C1674.7 672.2 1676.1 672 1677.6 672C1679 672 1681.9 673.7 1683.7 674.1C1685.5 674.4 1687 674.7 1688.8 674.1C1690.6 673.4 1693.2 670.3 1695 670C1696.8 669.6 1698.3 671.2 1700.1 672C1701.9 672.8 1704.6 674.4 1706.3 675.1C1707.9 675.7 1710.2 676.6 1710.4 676.1C1710.5 675.6 1707 673.2 1707.3 672C1707.6 670.9 1710.9 670.1 1712.4 668.9C1713.9 667.8 1715.1 665.3 1716.5 664.8C1717.9 664.3 1720.3 665.7 1721 665.9"/><path d="M1676.5 698.7C1677.2 699.1 1679.2 701.1 1680.6 701.7C1682.1 702.4 1685.1 701.8 1685.8 702.8C1686.4 703.7 1685.1 706.2 1684.7 707.9C1684.4 709.5 1684.4 712.4 1683.7 713C1683 713.7 1681 713.1 1680.6 712C1680.3 710.8 1680.3 706.8 1681.7 705.8C1683 704.8 1686.7 705.9 1688.8 705.8C1691 705.8 1693.8 704.4 1695 705.4C1696.1 706.4 1696.3 710.3 1696 712C1695.7 713.7 1693.6 714.4 1692.9 716.1C1692.3 717.7 1692.4 720.1 1691.9 722.2C1691.4 724.4 1690.5 727.4 1689.9 729.4C1689.2 731.4 1688 733.2 1687.8 734.5C1687.6 735.9 1688.7 737.5 1688.8 738"/><path d="M1620.1 427C1620.8 428 1622.8 431 1624.2 433.2C1625.7 435.3 1627.7 438.9 1629.4 440.3C1631 441.8 1632.9 442.5 1634.5 442.4C1636.1 442.3 1638.1 440.5 1639.6 439.7C1641.1 438.9 1641.9 437.3 1643.7 437.3C1645.5 437.2 1648.4 438.5 1650.9 439.3C1653.4 440.1 1657.8 440.9 1659.1 442.4C1660.4 443.9 1658.6 446.9 1659.1 448.5C1659.6 450.2 1660.9 452 1662.2 452.6C1663.5 453.3 1665.8 453.4 1667.3 452.6C1668.8 451.8 1669.9 449 1671.4 447.5C1672.9 446 1674.4 444.7 1676.5 443.4C1678.7 442.1 1682.1 440.6 1684.7 439.3C1687.4 438 1690.3 436.3 1692.9 435.2C1695.6 434.1 1698.2 432.7 1701.1 432.1C1704.1 431.5 1708.2 431.8 1711.4 431.5C1714.6 431.2 1719.5 430.3 1721 430.1"/><path d="M1754.9 427C1755.2 427.7 1755.4 430.2 1756.9 431.5C1758.4 432.8 1762.1 433.8 1764.1 435.2C1766 436.6 1768.4 438.4 1769.2 440.3C1770 442.3 1769.5 445.5 1769.2 447.5C1768.9 449.5 1766.7 451 1767.2 452.6C1767.6 454.3 1770.8 455.9 1772.3 457.8C1773.8 459.6 1775.1 461.9 1776.4 463.9C1777.7 465.9 1778.8 468.3 1780.5 470.1C1782.1 471.9 1784.5 473.9 1786.6 475.2C1788.8 476.5 1791.5 477.2 1793.8 478.3C1796.1 479.3 1799 480.5 1801 481.9C1803 483.4 1804.6 485.4 1806.1 487.5C1807.6 489.5 1809.1 493 1810.2 494.7C1811.4 496.3 1811.8 497.6 1813.3 497.7C1814.8 497.9 1817.5 495.9 1819.4 495.7C1821.4 495.5 1824.3 497 1825.6 496.3C1826.9 495.6 1827.5 493.5 1827.6 491.6C1827.8 489.7 1826.7 486.9 1826.6 484.4C1826.5 481.9 1826.2 477.7 1827 476.2C1827.8 474.7 1829.8 475.2 1831.7 475.2C1833.6 475.1 1837.2 475.6 1838.9 475.8C1840.7 476 1841.7 475.2 1842.6 476.2C1843.5 477.3 1843.9 480.6 1844.7 482.4C1845.4 484.2 1845.7 486.3 1847.1 487.5C1848.5 488.6 1851 488.7 1853.3 489.5C1855.6 490.4 1858.8 492.2 1861.5 492.6C1864.1 493 1867.4 492.5 1869.7 492.2C1872 491.9 1874.2 491.2 1875.8 491C1877.4 490.7 1878.9 489.6 1879.5 490.6C1880.2 491.5 1879.2 495.1 1879.9 496.7C1880.6 498.3 1882.4 499.7 1884 500.8C1885.7 502 1888 503.1 1890.2 503.9C1892.3 504.7 1895.5 505.1 1897.3 505.9C1899.1 506.8 1900.1 507.6 1901.4 509C1902.8 510.4 1904.2 513.7 1905.5 514.7C1906.9 515.8 1907.7 515.6 1909.6 515.6C1911.6 515.6 1915.9 515.6 1917.8 514.7C1919.8 513.9 1920.8 511.4 1921.9 510C1923.1 508.6 1923.7 506.8 1925 505.9C1926.3 505 1928.8 504 1930.1 504.5C1931.5 505 1932.4 507.3 1933.2 509C1934 510.7 1934.5 513 1935.3 515.2C1936.1 517.3 1937.2 520.5 1938.3 522.3C1939.5 524.1 1941 525.6 1942.5 526.4C1943.9 527.3 1945.8 527.6 1947.6 527.5C1949.4 527.3 1951.9 526.1 1953.7 525.4C1955.5 524.8 1957 523.2 1958.9 523.4C1960.7 523.5 1962.9 525.8 1965 526.4C1967.1 527.1 1970.7 526.3 1972.2 527.5C1973.7 528.6 1973.6 531.5 1974.2 533.6C1974.9 535.7 1975.5 538.8 1976.3 540.8C1977.1 542.8 1977.7 544.6 1979.4 545.9C1981 547.2 1984.6 547.8 1986.5 549C1988.5 550.1 1990 551.9 1991.7 553.1C1993.3 554.2 1994.8 555.8 1996.8 556.2C1998.7 556.5 2001.8 556 2004 555.1C2006.1 554.3 2008.3 552.5 2010.1 551C2011.9 549.6 2013.4 546.7 2015.2 545.9C2017 545.1 2019.4 545.6 2021.4 545.9C2023.4 546.2 2025.7 547.3 2027.5 548C2029.3 548.6 2031.8 549.7 2032.7 550"/><path d="M1720 431.1C1721 430.8 1724.3 429.7 1726.2 429.1C1728 428.4 1730.5 427.3 1731.3 427"/><path d="M1810.2 494.7C1810.5 495.8 1811.4 499.9 1812.3 501.8C1813.1 503.8 1814.2 505.8 1815.3 507C1816.5 508.1 1819.4 508.2 1819.4 509C1819.4 509.8 1816.5 511.1 1815.3 512.1C1814.2 513.1 1812.4 514 1812.3 515.2C1812.1 516.3 1814.6 518.1 1814.3 519.3C1814 520.4 1811.7 521.2 1810.2 522.3C1808.7 523.5 1805.2 525.3 1805.1 526.4C1804.9 527.6 1808.4 528 1809.2 529.5C1810 531 1810.5 533.7 1810.2 535.7C1809.9 537.6 1808.1 539.8 1807.1 541.8C1806.2 543.8 1804.1 546.3 1804.1 548C1804.1 549.6 1806.9 550.4 1807.1 552.1C1807.4 553.7 1806.5 556.6 1805.7 558.2C1804.9 559.9 1802.8 560.7 1802 562.3C1801.3 564 1802 566.8 1801 568.5C1800 570.1 1796.4 570.9 1795.9 572.6C1795.4 574.2 1797.6 576.7 1797.9 578.7C1798.2 580.7 1797.4 582.9 1797.5 584.9C1797.6 586.8 1797.4 589.5 1798.3 591C1799.2 592.5 1802.6 592.8 1803 594.1C1803.5 595.4 1802.1 597.7 1801 599.2C1799.8 600.7 1797.2 602 1795.9 603.3C1794.5 604.6 1792.5 606.4 1792.8 607.4C1793.1 608.4 1796.3 609.3 1797.9 609.5C1799.5 609.6 1802.4 607.8 1803 608.4C1803.7 609.1 1802.8 612.9 1802 613.6C1801.2 614.2 1798.7 612.2 1797.9 612.5C1797.1 612.9 1796.2 614.8 1796.9 615.6C1797.5 616.4 1800.2 616.9 1802 617.7C1803.8 618.5 1806.4 620.9 1808.2 620.7C1810 620.6 1811.6 617.1 1813.3 616.6C1814.9 616.2 1817.8 616.4 1818.4 617.7C1819.1 619 1818 623 1817.4 624.8C1816.7 626.7 1814.5 627.3 1814.3 628.9C1814.1 630.6 1815.7 633.3 1816.4 635.1C1817 636.9 1818.6 638.9 1818.4 640.2C1818.2 641.5 1816 642 1815.3 643.3C1814.7 644.6 1813.5 647.3 1814.3 648.4C1815.1 649.5 1818.5 649.8 1820.5 650.1C1822.4 650.3 1824.8 649.8 1826.6 650.1C1828.4 650.3 1830.6 650.3 1831.7 651.5C1832.9 652.7 1833.3 655.8 1833.8 657.7C1834.3 659.5 1834 661.5 1834.8 662.8C1835.6 664.1 1837.9 664.4 1838.9 665.9C1839.9 667.3 1841 670 1841 672C1841 674 1839.4 676.3 1838.9 678.2C1838.4 680 1837.4 682.3 1837.9 683.3C1838.4 684.3 1841.8 683.5 1842 684.3C1842.2 685.1 1839.9 687.3 1838.9 688.4C1837.9 689.6 1836.2 689.7 1835.8 691.5C1835.5 693.3 1836.5 697.4 1836.9 699.7C1837.2 702 1837.9 704 1837.9 705.8C1837.9 707.6 1836.4 709.8 1836.9 711C1837.4 712.1 1840 712.2 1841 713C1841.9 713.8 1842.8 714.6 1843 716.1C1843.2 717.6 1842.3 720.6 1842 722.2C1841.7 723.9 1840.5 725.3 1841 726.3C1841.5 727.3 1843.4 728.2 1845.1 728.4C1846.7 728.5 1849.7 726.7 1851.2 727.4C1852.7 728 1853 730.8 1854.3 732.5C1855.6 734.2 1858.6 737.1 1859.4 738"/><path d="M1792.8 607.4C1791.6 607.6 1787.7 608.6 1785.6 608.4C1783.5 608.3 1781.6 607.1 1779.5 606.4C1777.3 605.7 1774.9 604.7 1772.3 604.3C1769.7 604 1765.2 603.4 1763.1 604.3C1760.9 605.3 1758.8 609.2 1759 610.5C1759.1 611.8 1762.3 612.1 1764.1 612.5C1765.9 613 1769.2 612.6 1770.2 613.6C1771.2 614.6 1771.4 617.2 1770.2 618.7C1769.1 620.2 1765.7 621.3 1763.1 622.8C1760.4 624.3 1756.8 626.3 1753.8 627.9C1750.9 629.6 1746.6 631.4 1744.6 633C1742.6 634.7 1742.7 637 1741.5 638.2C1740.4 639.3 1737.8 639.1 1737.4 640.2C1737.1 641.4 1739.1 643.5 1739.5 645.3C1739.8 647.2 1740.5 650.2 1739.5 651.5C1738.5 652.8 1735 652.6 1733.3 653.6C1731.7 654.5 1730.5 656.2 1729.2 657.7C1727.9 659.1 1725.9 661.3 1725.1 662.8C1724.3 664.3 1724.9 665.9 1724.1 666.9C1723.3 667.9 1720.7 668.6 1720 668.9"/><path d="M2032.7 553.1C2031.7 553.9 2028.1 556.7 2026.5 558.2C2024.9 559.7 2023.2 560.7 2022.4 562.3C2021.6 564 2021.1 566.3 2021.4 568.5C2021.7 570.6 2023.3 573.5 2024.5 575.6C2025.6 577.8 2027.2 580.3 2028.6 581.8C2029.9 583.3 2032 584.4 2032.7 584.9"/><path d="M2032.7 603.3C2031.7 604 2028.3 605.8 2026.5 607.4C2024.7 609.1 2023.2 611.9 2021.4 613.6C2019.6 615.2 2017 616 2015.2 617.7C2013.4 619.3 2011.1 621.5 2010.1 623.8C2009.1 626.1 2010.2 630.4 2009.1 632C2007.9 633.7 2005.2 633.5 2002.9 634.1C2000.6 634.7 1997.4 635.2 1994.7 635.7C1992.1 636.2 1988.5 636.8 1986.5 637.1C1984.6 637.5 1982.9 637 1982.4 638.2C1981.9 639.3 1982.6 642.5 1983.5 644.3C1984.3 646.1 1986.4 647.6 1987.6 649.5C1988.7 651.3 1989.2 654.1 1990.6 655.6C1992.1 657.1 1994.6 658 1996.8 658.7C1998.9 659.3 2002 659.4 2004 659.7C2005.9 660 2007.8 660.1 2009.1 660.7C2010.4 661.4 2011 664 2012.2 663.8C2013.3 663.6 2014.8 660.5 2016.3 659.7C2017.7 658.9 2020.2 658.2 2021.4 658.7C2022.5 659.2 2023.6 661.3 2023.4 662.8C2023.3 664.3 2021.7 666.3 2020.4 667.9C2019 669.5 2017 672.2 2015.2 673C2013.4 673.8 2011.1 673.4 2009.1 673C2007.1 672.7 2004.9 671.5 2002.9 671C2001 670.5 1998.6 669.5 1996.8 670C1995 670.4 1993 672.7 1991.7 674.1C1990.3 675.4 1989.6 676.8 1988.6 678.2C1987.6 679.5 1986.3 680.1 1985.5 682.3C1984.7 684.4 1984.3 688.7 1983.5 691.5C1982.6 694.3 1981.2 697.5 1980.4 699.7C1979.6 701.8 1977.7 704.1 1978.3 704.8C1979 705.5 1982.2 704.2 1984.5 704.2C1986.8 704.2 1990.2 704.4 1992.7 704.8C1995.1 705.2 1998.2 705.5 1999.9 706.9C2001.5 708.2 2002.3 711.4 2002.9 713C2003.6 714.6 2004.4 716.1 2004 717.1C2003.5 718.1 2000 718 1999.9 719.2C1999.7 720.3 2001.9 722.5 2002.9 724.3C2003.9 726.1 2005 728.2 2006 730.4C2007 732.6 2008.6 736.8 2009.1 738"/><path d="M184.4 738C184.8 738.7 187 740.6 187.4 742.1C187.8 743.6 186.5 745.6 186.8 747.2C187.1 748.9 188.6 750.9 189.5 752.4C190.4 753.8 191.6 755.4 192.6 756.5C193.5 757.5 194.3 758.9 195.6 759.1C196.9 759.4 199.1 758.3 200.8 758.1C202.4 757.9 204.4 757.4 205.9 758.1C207.4 758.8 208.7 760.9 210 762.6C211.3 764.3 212.9 766.6 214.1 768.8C215.2 770.9 216.3 774 217.2 775.9C218 777.8 217.9 780 219.2 780.6C220.5 781.3 223.6 780.3 225.4 780C227.2 779.8 229 779.4 230.5 779C232 778.6 233.1 777 234.6 777.4C236.1 777.7 238.2 779.7 239.7 781.1C241.2 782.4 242.8 783.9 243.8 785.6C244.9 787.2 246 789.6 246.3 791.3C246.5 793 246.1 795.2 245.4 796.4C244.8 797.7 242.4 798 242.2 799.1C242 800.2 243.3 802.2 244.2 803.2C245.1 804.2 246.7 805.3 247.9 805.2C249.2 805.1 251.3 803.8 252 802.6C252.7 801.3 252.7 798.7 252.4 797.5C252.2 796.2 250.1 795.5 250.4 795C250.6 794.5 252.8 793.9 254.1 794.4C255.3 794.8 256.8 797.2 258.2 797.9C259.5 798.5 260.9 798.9 262.3 798.5C263.6 798.1 265.3 796.9 266.4 795.4C267.4 793.9 268 791.3 268.8 789.3C269.6 787.2 270.6 784.2 271.5 782.7C272.4 781.2 273.1 780.2 274.6 780C276 779.8 278.9 780.7 280.7 781.5C282.5 782.2 284.2 783.3 285.8 784.7C287.5 786.2 289.2 788.6 291 790.3C292.8 792 295.3 794.1 297.1 795.4C298.9 796.7 300.6 797.7 302.2 798.5C303.9 799.3 305.9 800.7 307.4 800.5C308.8 800.4 310.5 798.3 311.5 797.5C312.5 796.6 312.2 795.9 313.5 795.4C314.8 794.9 317.4 794.2 319.7 794.4C322 794.5 325.2 795.9 327.9 796.4C330.5 797 333.8 797.4 336.1 797.9C338.4 798.4 340.6 798.7 342.2 799.5C343.9 800.4 345.2 802 346.3 803.2C347.5 804.3 348.1 806.5 349.4 806.7C350.7 806.9 352.7 805.4 354.5 804.6C356.3 803.9 358.7 802.2 360.7 802C362.6 801.7 364.9 802.4 366.8 803.2C368.8 804 371 805.6 373 806.7C374.9 807.7 377 809 379.1 809.8C381.3 810.5 384 811.6 386.3 811.4C388.6 811.2 391.3 809.5 393.5 808.7C395.6 808 397.8 807.6 399.6 806.7C401.4 805.8 402.8 803.5 404.8 803.2C406.7 802.9 409.6 804.4 411.9 804.6C414.2 804.9 417.3 804.5 419.1 804.6C420.9 804.7 421.9 804.6 423.2 805.2C424.5 805.9 426 807.5 427.3 808.7C428.6 809.9 430.6 811.2 431.4 812.8C432.2 814.5 431.4 817.5 432.4 819C433.4 820.5 435.6 821.1 437.6 822.1C439.5 823 442.9 824 444.7 825.1C446.5 826.3 447.7 827.6 448.8 829.2C450 830.9 450.8 833.4 451.9 835.4C453.1 837.4 454.2 840.7 456 841.5C457.8 842.4 460.7 841 463.2 840.5C465.6 840 468.5 839.4 471.4 838.5C474.2 837.5 479.5 835 481 834.4"/><path d="M378.1 738C378.6 738.6 379.7 741 381.2 741.7C382.6 742.4 385.4 742.7 387.3 742.5C389.3 742.3 392.2 741.5 393.5 740.5C394.8 739.4 394.8 736.2 395.5 735.9C396.2 735.7 397.2 737.9 398 739C398.8 740.2 399.4 742 400.7 743.1C401.9 744.3 404 744.7 405.8 746.2C407.6 747.7 410.3 750.5 411.9 752.4C413.6 754.2 414.8 755.5 416 757.5C417.3 759.4 419.6 762.7 419.7 764.7C419.9 766.6 417.2 768 417.1 769.8C417 771.6 418 774 419.1 775.9C420.3 777.9 422.4 780.1 424.2 782.1C426 784 430.1 786.4 430.4 788.2C430.7 790 427.4 791.7 426.3 793.4C425.1 795 423.7 796.6 423.2 798.5C422.7 800.4 423.2 804.2 423.2 805.2"/><path d="M481 766.7C480.1 767.5 477.2 770.4 475.5 771.8C473.8 773.3 471.8 774.8 470.4 775.9C468.9 777.1 467.4 777.2 466.3 779C465.1 780.8 464.3 784.7 463.2 787.2C462.1 789.7 460.1 792.1 459.5 794.4C458.8 796.7 458.9 799.4 459.1 801.6C459.3 803.7 459.9 805.9 460.7 807.7C461.5 809.5 463.5 810.9 464.2 812.8C464.9 814.8 465.4 817.9 465.2 820C465.1 822.1 464 824 463.2 826.2C462.4 828.3 460.9 831.2 460.1 833.3C459.3 835.5 458.4 838.5 458.1 839.5"/><path d="M480 833.3C480.7 832.2 482.8 828.6 484.1 826.2C485.4 823.7 486.9 820.1 488.2 818C489.5 815.8 490.3 813.9 492.3 812.8C494.3 811.8 497.5 811.8 500.5 811.4C503.5 811 507.5 810.6 510.8 810.2C514 809.7 517.7 809.1 521 808.7C524.3 808.3 527.6 808.1 531.3 807.7C534.9 807.3 540.4 806.7 543.6 806.1C546.7 805.4 548.6 804.3 550.7 803.6C552.9 803 555.2 802.5 556.9 802C558.5 801.5 559.5 800.7 561 800.5C562.5 800.4 564.3 801.2 566.1 801.1C567.9 801 570.3 800.2 572.3 799.9C574.2 799.7 576.4 799.6 578.4 799.5C580.4 799.4 582.8 799.8 584.6 799.1C586.4 798.4 588.5 796.8 589.7 795.4C590.8 794 590.8 791.8 591.7 790.3C592.7 788.8 594.7 787.8 595.8 786.2C597 784.5 598.1 782.2 598.9 780C599.7 777.9 600.6 775.2 601 772.9C601.4 770.6 601.1 767.2 601.4 765.7C601.6 764.2 601.5 764.3 602.6 763.6C603.7 763 606.1 762.2 608.1 761.6C610.2 760.9 612.9 760.1 615.3 759.5C617.8 759 620.7 758.6 623.5 758.1C626.3 757.6 630.9 757.4 632.7 756.5C634.5 755.5 633.8 753.7 634.8 752.4C635.8 751 637.9 749 638.9 747.8C639.9 746.7 640.1 745.1 640.9 745.2C641.8 745.2 642.9 747.3 644 748.3C645.2 749.2 647 751.2 648.1 751.3C649.3 751.5 650.6 750.4 651.2 749.3C651.8 748.1 651.9 745.6 651.8 744.2C651.7 742.7 650.2 741 650.6 740.1C651 739.1 653.7 738.3 654.3 738"/><path d="M662.5 738C663 738.3 664.2 739 665.5 739.6C666.9 740.2 668.9 741.6 670.7 741.7C672.5 741.8 675 741.1 676.8 740.5C678.6 739.9 681.1 738.4 681.9 738"/><path d="M684 738C684.8 738.4 687.3 740.1 689.1 740.5C690.9 740.9 693.5 740.8 695.3 740.5C697.1 740.2 699.3 739.2 700.4 738.6C701.5 738.1 702.1 737.2 702.5 737"/><path d="M480 768.8C480.3 768.1 482.1 766.1 482.1 764.7C482.1 763.2 479.5 760.7 480 759.5C480.5 758.4 483.6 758.6 485.1 757.5C486.6 756.3 487.7 754.2 489.2 752.4C490.7 750.5 492.7 747.9 494.4 746.2C496 744.5 497.5 743 499.5 741.7C501.4 740.4 505.5 738.6 506.7 738"/><path d="M764 738C764.4 738.7 765.6 741 767 742.1C768.5 743.2 771.2 744.5 773.2 745.2C775.2 745.8 777.4 745.4 779.3 746.2C781.3 747 784.5 748.7 785.5 750.3C786.5 751.9 784.6 755.1 785.5 756.5C786.4 757.8 790.1 758.2 791 758.5"/><path d="M790 758.5C790.7 758.1 793 755.5 794.1 756C795.2 756.5 796.2 760.3 797.2 761.6C798.2 762.9 798.8 764.6 800.3 764.2C801.7 763.9 804.4 760.4 806.4 759.5C808.4 758.6 811.1 758.2 812.6 758.5C814 758.8 815.3 760.1 815.6 761.6C816 763.1 815.4 766.1 814.6 767.7C813.8 769.4 811.3 770.5 810.5 771.8C809.7 773.1 809 775.3 809.5 775.9C810 776.6 812.6 776.7 813.6 775.9C814.6 775.1 814.6 771.8 815.6 770.8C816.6 769.8 818.6 769 819.7 769.8C820.8 770.6 822.2 774.3 822.4 775.9C822.6 777.6 820.5 778.6 820.8 780C821 781.5 822.7 784.2 823.8 785.2C825 786.1 827.1 787.2 827.9 786.2C828.7 785.2 828.5 781.1 829 779C829.4 776.9 829.9 774 831 772.9C832.2 771.7 834.2 771.5 836.1 771.8C838.1 772.2 841 774.2 843.3 774.9C845.6 775.6 848.3 775.7 850.5 775.9C852.6 776.2 855.2 775.9 856.6 776.5C858.1 777.2 858.9 778.3 859.7 780C860.5 781.7 861.2 785.1 861.8 787.2C862.3 789.3 862.6 791.6 863.4 793.4C864.2 795.2 865.5 796.8 866.9 798.5C868.3 800.1 870.2 802.1 872 803.6C873.8 805.1 876.4 807.4 878.2 807.7C880 808 882 806.8 883.3 805.7C884.6 804.5 885.2 801.5 886.4 800.5C887.5 799.5 889 799.3 890.5 799.5C891.9 799.7 894.4 800.2 895.6 801.6C896.7 802.9 897.1 805.7 897.6 807.7C898.1 809.7 897.5 812.4 898.7 813.9C899.8 815.3 904.3 815.8 904.8 816.9C905.3 818.1 902.7 819.6 901.7 821C900.8 822.5 898.8 824.5 898.7 826.2C898.5 827.8 899.7 830 900.7 831.3C901.8 832.6 905.1 833.2 905.2 834.4C905.4 835.5 902.5 836.8 901.7 838.5C901 840.1 901 842.3 900.7 844.6C900.4 846.9 900.2 850.5 899.7 852.8C899.2 855.1 898.6 857 897.6 859C896.7 860.9 894.4 863.3 893.5 865.1C892.7 866.9 892.1 868.4 892.1 870.2C892.1 872 892.9 874.4 893.5 876.4C894.2 878.4 895.2 881.1 896.2 882.5C897.2 884 898.6 885.4 899.7 885.2C900.7 885 901.6 881.5 902.8 881.5C903.9 881.6 905.6 884 906.9 885.6C908.2 887.3 909.7 890.3 911 891.8C912.3 893.2 913.9 893.5 915.1 894.8C916.2 896.2 917.5 898.3 918.1 900C918.8 901.6 918.3 903.7 919.2 905.1C920 906.5 922 908.3 923.3 908.6C924.6 908.9 926.4 908.4 927.4 907.1C928.3 905.9 928.4 902.4 929.4 901C930.4 899.6 932.2 898.5 933.5 898.3C934.8 898.2 936.5 898.9 937.6 900C938.8 901.1 940.2 903.1 940.7 905.1C941.2 907.1 941.3 910.6 940.7 912.3C940 913.9 937.2 913.7 936.6 915.3C935.9 917 936.4 920.2 936.6 922.5C936.8 924.8 937.9 928.1 937.6 929.7C937.3 931.3 935.9 932.1 934.5 932.8C933.2 933.4 929.7 932.6 929.4 933.8C929.1 934.9 931.7 938.5 932.5 939.9C933.3 941.4 933.6 943.4 934.5 943C935.5 942.7 937.3 938.2 938.6 937.9C940 937.6 942.1 939.5 942.7 941C943.4 942.4 943.2 945.3 942.7 947.1C942.3 948.9 940.5 950.6 939.7 952.2C938.8 953.9 937.8 955.9 937.6 957.4C937.5 958.9 937.5 960.3 938.6 961.5C939.8 962.6 942.7 963.7 944.8 964.6C946.9 965.4 950.2 965.5 952 966.6C953.8 967.7 954.8 970.4 956.1 971.7C957.4 973 958.5 974.1 960.2 974.8C961.8 975.5 964.7 975.2 966.3 975.8C968 976.5 969.4 977.8 970.4 978.9C971.4 980.1 971.5 982.2 972.5 983C973.5 983.8 975.8 982.7 976.6 984C977.4 985.3 977.3 988.6 977.6 991.2C977.9 993.8 978.4 997.6 978.2 1000.4C978 1003.2 976.7 1006.2 976.6 1008.6C976.5 1011.1 977.8 1013.8 977.6 1015.8C977.4 1017.8 976.4 1019.8 975.5 1020.9C974.7 1022.1 972.6 1022 972.5 1023C972.3 1024 973.4 1025.9 974.5 1027.1C975.7 1028.2 978 1029.2 979.6 1030.2C981.3 1031.1 983.6 1031.9 984.8 1033.2C985.9 1034.5 985.2 1037.4 986.8 1038.4C988.5 1039.3 993.2 1038.9 995 1039.4C996.8 1039.9 998.1 1040.5 998.1 1041.4C998.1 1042.4 996 1044.3 995 1045.5C994 1046.7 992.4 1048.5 991.9 1049"/><path d="M864.2 793.8C865.5 793.4 869.8 792.6 872 791.7C874.2 790.8 876.4 789.4 878.2 788.2C880 787 882.3 785.8 883.3 784.1C884.3 782.5 883.7 779.6 884.3 778C885 776.3 886.2 774.5 887.4 773.9C888.5 773.2 890 773.2 891.5 773.9C893 774.5 895 776.8 896.6 778C898.3 779.1 899.9 780.3 901.7 781.1C903.5 781.8 905.8 782.6 907.9 782.7C910 782.8 912.9 782.1 915.1 781.5C917.2 780.9 919.6 779.7 921.2 779C922.9 778.3 923.8 777.1 925.3 777.4C926.8 777.6 928.5 779.9 930.4 780.6C932.4 781.4 935.2 781.9 937.6 782.1C940.1 782.3 943.7 782.2 945.8 782.1C947.9 781.9 949.8 782 950.9 781.1C952.1 780.1 953.2 777.6 953 775.9C952.8 774.3 949.9 772.1 949.9 770.8C949.9 769.5 951.5 768.5 953 767.7C954.5 766.9 957.3 766.3 959.1 765.7C960.9 765 962.8 763.5 964.3 763.6C965.7 763.8 967.2 765.9 968.4 766.7C969.5 767.5 970.5 769.2 971.4 768.8C972.4 768.3 973.2 764.6 974.5 763.6C975.8 762.6 978.3 762.6 979.6 762.6C981 762.6 981.6 763.3 982.7 763.6C983.8 764 985.6 763.7 986.4 764.7C987.2 765.6 987 768.5 987.8 769.8C988.7 771.1 989.8 772.1 991.9 772.9C994.1 773.6 998.4 774.2 1001.2 774.5C1004 774.8 1006.9 774.7 1009.4 774.9C1011.8 775.1 1015.1 776.6 1016.6 775.9C1018 775.3 1017.3 771.8 1018.6 770.8C1019.9 769.8 1022.6 769.9 1024.8 769.8C1026.9 769.6 1029.6 769.6 1031.9 769.8C1034.2 769.9 1036.8 770.1 1039.1 770.8C1041.4 771.5 1044.6 773.9 1046.3 773.9C1047.9 773.9 1048 771.7 1049.4 770.8C1050.7 769.9 1052.7 768.8 1054.5 768.3C1056.3 767.9 1058.7 767.7 1060.6 767.7C1062.6 767.8 1065.3 768.3 1066.8 768.8C1068.3 769.2 1068.9 771.1 1069.9 770.8C1070.8 770.5 1071.9 766.7 1072.9 766.7C1073.9 766.7 1074.9 770.3 1076 770.8C1077.2 771.3 1078.6 770.3 1080.1 769.8C1081.6 769.3 1084.1 768.7 1085.2 767.7C1086.4 766.7 1086 764.5 1087.3 763.6C1088.6 762.7 1091.2 762.4 1093.4 762.2C1095.6 762 1099.8 762.5 1101 762.6"/><path d="M964.3 738C963.6 738.8 960.9 741.3 960.2 743.1C959.4 744.9 960.4 747.6 959.8 749.3C959.1 750.9 956.2 752.2 956.1 753.4C956 754.5 958.2 755.5 959.1 756.5C960.1 757.4 962.1 758.2 962.2 759.5C962.4 760.8 960.5 763.8 960.2 764.7"/><path d="M1016.6 775.9C1016.6 776.7 1017.5 779.9 1016.6 781.1C1015.6 782.2 1012.2 782.3 1010.4 783.1C1008.6 783.9 1005.9 784.7 1005.3 786.2C1004.6 787.7 1005.5 790.4 1006.3 792.3C1007.1 794.3 1009.1 796.7 1010.4 798.5C1011.7 800.3 1013.7 801.6 1014.5 803.6C1015.3 805.6 1015.2 808.5 1015.5 810.8C1015.9 813.1 1016 815.8 1016.6 818C1017.1 820.1 1017.9 822.5 1019.2 824.1C1020.5 825.7 1024 826.7 1024.8 828.2C1025.5 829.7 1024.2 832 1023.7 833.3C1023.2 834.6 1021.3 835.4 1021.7 836.4C1022 837.4 1025.3 838 1025.8 839.5C1026.3 841 1024.6 843.8 1024.8 845.6C1024.9 847.4 1025.8 849.3 1026.8 850.8C1027.8 852.2 1029.1 854 1030.9 854.9C1032.7 855.7 1036.4 855.9 1038.1 855.9C1039.7 855.9 1040.2 855.5 1041.2 854.9C1042.1 854.2 1042.9 852 1044.2 851.8C1045.5 851.6 1047.9 853.3 1049.4 853.8C1050.8 854.3 1052.5 853.7 1053.5 854.9C1054.4 856 1054.7 861 1055.5 861C1056.3 861 1057.3 856.2 1058.6 854.9C1059.9 853.6 1062.7 852 1063.7 852.8C1064.7 853.6 1063.7 858.5 1064.7 860C1065.7 861.5 1068.4 860.7 1069.9 862C1071.3 863.4 1073.3 866.2 1074 868.2C1074.6 870.2 1074.3 872.5 1074 874.3C1073.6 876.1 1072.7 877.8 1071.9 879.5C1071.2 881.1 1069.4 882.6 1069.2 884.6C1069.1 886.6 1070.1 889.3 1070.9 891.8C1071.6 894.2 1073.1 897.7 1074 900C1074.8 902.3 1075 904.5 1076 906.1C1077 907.7 1078.3 909.1 1080.1 909.8C1081.9 910.5 1085.5 910.1 1087.3 910.6C1089.1 911.2 1090.1 913.4 1091.4 913.3C1092.7 913.2 1093.9 910.8 1095.5 910.2C1097 909.7 1100.1 909.9 1101 909.8"/><path d="M1101 957.4C1099.6 957.5 1094.1 957.6 1092.4 958.4C1090.7 959.2 1090.4 961 1090.4 962.5C1090.4 964 1091.4 966 1092.4 967.6C1093.4 969.3 1095.1 971.4 1096.5 972.8C1097.9 974.1 1100.3 975.3 1101 975.8"/><path d="M1101 1010.7C1099.5 1011 1094.2 1012 1091.4 1012.7C1088.5 1013.5 1085.3 1014.2 1083.2 1015.2C1081.1 1016.2 1080 1018.1 1078.1 1018.9C1076.1 1019.6 1073 1019.4 1070.9 1019.9C1068.7 1020.4 1066.2 1020.6 1064.7 1022C1063.3 1023.3 1061.8 1026 1061.7 1028.1C1061.5 1030.2 1063.2 1033.2 1063.7 1035.3C1064.2 1037.4 1065.1 1039.2 1064.7 1041.4C1064.4 1043.6 1062.1 1047.8 1061.7 1049"/><path d="M871 1049C871.1 1047.8 871.2 1043.6 872 1041.4C872.8 1039.2 874.3 1036.9 876.1 1035.3C877.9 1033.6 881 1032.4 883.3 1031.2C885.6 1029.9 888.3 1028.6 890.5 1027.5C892.6 1026.3 895 1024.6 896.6 1024C898.3 1023.4 899.9 1022.9 900.7 1024C901.5 1025.2 901.7 1028.4 901.7 1031.2C901.7 1034 901.2 1038.6 900.7 1041.4C900.2 1044.3 899 1047.8 898.7 1049"/><path d="M904.8 1049C905.5 1048.3 907.9 1046.7 908.9 1044.5C909.9 1042.3 910.1 1036.9 911 1035.3C911.8 1033.6 913.1 1033.6 914 1034.3C915 1034.9 916.1 1038.4 917.1 1039.4C918.1 1040.4 919 1041.2 920.2 1040.4C921.3 1039.6 922.8 1035.5 924.3 1034.3C925.8 1033 928.3 1032.3 929.4 1032.8C930.5 1033.3 931.1 1036 931.1 1037.3C931.1 1038.7 928.7 1040.5 929.4 1041.4C930.1 1042.4 933.9 1042.3 935.6 1043.5C937.2 1044.7 939 1048.1 939.7 1049"/><path d="M945.8 1049C946.5 1048.1 948.6 1045.8 949.9 1043.5C951.2 1041.1 952.7 1034.9 954 1034.3C955.3 1033.6 956.8 1037.6 958.1 1039.4C959.4 1041.2 961.2 1044 962.2 1045.5C963.2 1047.1 963.9 1048.5 964.3 1049"/><path d="M970.4 1049C971.7 1048.8 976.7 1047.6 978.6 1047.6C980.6 1047.6 982.1 1048.8 982.7 1049"/><path d="M1100 762.6C1100.8 762.8 1104 762.6 1105.1 763.6C1106.3 764.6 1106.4 767.1 1107.2 768.8C1108 770.4 1109.1 772.6 1110.3 773.9C1111.4 775.2 1112.7 776.3 1114.4 777C1116 777.6 1118.7 778 1120.5 778C1122.3 777.9 1124.2 776.5 1125.6 776.5C1127.1 776.5 1127.9 777.9 1129.7 778C1131.5 778 1135.3 776.5 1136.9 777C1138.5 777.4 1139.7 779.6 1140 781.1C1140.3 782.5 1138.3 786 1139 786.2C1139.6 786.3 1142.8 782.6 1144.1 782.1C1145.4 781.6 1146.3 783.8 1147.2 783.1C1148 782.4 1148.2 778.6 1149.2 778C1150.2 777.3 1151.7 778.5 1153.3 779C1154.9 779.5 1157.6 780.7 1159.5 781.1C1161.4 781.4 1164 780.2 1165.2 781.1C1166.4 781.9 1167.2 784.7 1167.2 786.2C1167.3 787.7 1166.7 789.3 1165.6 790.3C1164.5 791.3 1161 791.2 1160.5 792.3C1160 793.5 1161.7 796 1162.5 797.5C1163.4 798.9 1164.3 800.4 1165.6 801.6C1166.9 802.7 1169.4 803.5 1170.7 804.6C1172 805.8 1173 807.1 1173.8 808.7C1174.6 810.4 1175.9 813.2 1175.9 814.9C1175.9 816.5 1174.2 817.7 1173.8 819C1173.4 820.3 1173.2 821.7 1173.4 823.1C1173.6 824.5 1173.5 827 1174.8 827.8C1176.2 828.6 1179.9 828 1182 827.8C1184.1 827.6 1186.4 826.9 1188.2 826.6C1190 826.2 1191.6 825.2 1193.3 825.7C1194.9 826.3 1197.1 828.9 1198.4 830.3C1199.7 831.6 1200.4 833.4 1201.5 834.4C1202.5 835.3 1203.8 836.3 1205 836C1206.1 835.7 1207.6 833.9 1208.7 832.3C1209.7 830.7 1210.6 827.6 1211.7 826.2C1212.9 824.7 1214.4 823.5 1215.8 823.1C1217.3 822.7 1219.3 823 1221 823.7C1222.6 824.4 1224.3 826.5 1226.1 827.2C1227.9 827.9 1230.3 827.7 1232.2 828.2C1234.2 828.7 1236.3 830.1 1238.4 830.3C1240.5 830.4 1243.3 829.6 1245.6 829.2C1247.9 828.9 1250.8 828.6 1252.7 828.2C1254.7 827.8 1256.9 827.6 1257.9 826.6C1258.9 825.6 1258.4 823.3 1258.9 822.1C1259.4 820.8 1261.1 820 1260.9 819C1260.8 818 1258.2 817.2 1257.9 815.9C1257.5 814.6 1257.9 811.9 1258.9 810.8C1259.9 809.6 1263.5 809.7 1264 808.7C1264.5 807.7 1262.1 805.9 1262 804.6C1261.8 803.3 1261.8 801.4 1263 800.5C1264.1 799.7 1267.2 799.3 1269.1 799.5C1271.1 799.7 1273.5 801.9 1275.3 801.6C1277.1 801.2 1279.4 798.9 1280.4 797.5C1281.4 796 1280.6 793.5 1281.4 792.3C1282.3 791.2 1283.9 790.8 1285.5 790.3C1287.2 789.8 1290.4 788.6 1291.7 789.3C1293 789.9 1292.8 792.4 1293.7 794.4C1294.7 796.3 1297.4 799.4 1297.8 801.6C1298.3 803.7 1296.2 806.2 1296.8 807.7C1297.5 809.2 1301.4 809.1 1301.9 810.8C1302.5 812.4 1300.8 815.5 1300.5 818C1300.2 820.4 1299.8 823.7 1299.9 826.2C1300 828.6 1300.4 831.5 1300.9 833.3C1301.4 835.1 1303.5 836.6 1303 837.4C1302.5 838.3 1299.7 838.4 1297.8 838.9C1296 839.3 1292.4 838.9 1291.7 840.1C1291 841.3 1293.1 844.6 1293.7 846.7C1294.4 848.7 1296 851.2 1295.8 852.8C1295.6 854.5 1293.2 855.8 1292.7 856.9C1292.2 858.1 1291.4 859.3 1292.7 860C1294 860.6 1299 860.2 1300.9 861C1302.9 861.8 1304.2 863.1 1305 865.1C1305.8 867.1 1305.7 870.7 1306 873.3C1306.4 875.9 1307.4 879.7 1307.1 881.5C1306.7 883.3 1304.8 884.6 1304 884.6C1303.2 884.6 1302.8 882 1301.9 881.5C1301.1 881 1299.9 880.5 1298.9 881.5C1297.9 882.5 1296 886.2 1295.8 887.7C1295.6 889.1 1296.9 890.4 1297.8 890.7C1298.8 891.1 1300.6 889.1 1301.9 889.7C1303.3 890.4 1305.2 892.9 1306 894.8C1306.9 896.8 1307.4 900.1 1307.1 902C1306.7 904 1304.2 905.3 1304 907.1C1303.8 908.9 1305.4 911.5 1306 913.3C1306.7 915.1 1308.3 917.4 1308.1 918.4C1307.9 919.4 1306.3 919 1305 919.4C1303.7 919.9 1301.4 920.7 1299.9 921.5C1298.4 922.3 1297.3 924.4 1295.8 924.6C1294.3 924.7 1291.9 921.9 1290.7 922.5C1289.5 923.2 1289 926.9 1288.2 928.7C1287.4 930.5 1286.1 932.3 1285.5 933.8C1285 935.3 1284 936.9 1284.5 937.9C1285 938.9 1287.1 939.1 1288.6 939.9C1290.1 940.8 1292.3 942 1293.7 943C1295.2 944 1296.7 945.1 1297.8 946.1C1299 947.1 1301.1 948.2 1300.9 949.2C1300.8 950.2 1298.3 951.9 1296.8 952.2C1295.3 952.6 1293 950.7 1291.7 951.2C1290.4 951.7 1288.5 954.2 1288.6 955.3C1288.8 956.5 1291.4 958.1 1292.7 958.4C1294 958.7 1296.5 956.7 1296.8 957.4C1297.2 958 1295.9 961.4 1294.8 962.5C1293.6 963.6 1291.3 963.7 1289.6 964.6C1288 965.4 1286.5 967 1284.5 967.6C1282.6 968.3 1279.1 968.2 1277.3 968.7C1275.5 969.1 1273.1 970.2 1273.2 970.7C1273.4 971.2 1276.6 971.7 1278.4 971.7C1280.2 971.7 1283 970.4 1284.5 970.7C1286 971 1287.9 973 1287.6 973.8C1287.3 974.6 1284.3 975.1 1282.5 975.8C1280.7 976.5 1278.3 977.8 1276.3 978.3C1274.4 978.8 1272.3 978.7 1270.2 978.9C1268 979.1 1264.8 980 1263 979.5C1261.2 979 1260.4 976.7 1258.9 975.8C1257.4 974.9 1255.6 974.4 1253.8 973.8C1252 973.1 1249.1 971.2 1247.6 971.7C1246.1 972.2 1245.5 975.9 1244.5 976.9C1243.6 977.8 1242.9 978 1241.5 977.9C1240 977.7 1237.3 975.8 1235.3 975.8C1233.3 975.8 1230.6 976.7 1229.2 977.9C1227.7 979 1227.4 982.2 1226.1 983C1224.8 983.8 1222.8 983.2 1221 983C1219.2 982.8 1216.5 981.1 1214.8 981.6C1213.2 982.1 1211.9 984.5 1210.7 986.1C1209.6 987.6 1208.9 990.1 1207.6 991.2C1206.3 992.4 1204.2 993.1 1202.5 993.3C1200.9 993.4 1198.9 992.1 1197.4 992.2C1195.9 992.4 1193.9 994 1193.3 994.3"/><path d="M1345 738C1345 739.3 1344.5 744.2 1345 746.2C1345.5 748.2 1347.7 748.5 1348.1 750.3C1348.4 752.1 1348 755.8 1347.1 757.5C1346.1 759.1 1343.7 759.1 1341.9 760.6C1340.1 762 1337.6 765.6 1335.8 766.7C1334 767.9 1332.1 766.9 1330.7 767.7C1329.2 768.5 1328 770.2 1326.6 771.8C1325.1 773.5 1322.4 778.3 1321.4 778C1320.4 777.7 1321.1 770.9 1320.4 769.8C1319.7 768.6 1317.9 769.7 1317.3 770.8C1316.8 772 1317.4 775.2 1316.9 777C1316.4 778.8 1315.8 780.9 1314.2 782.1C1312.7 783.2 1309 783 1307.1 784.1C1305.1 785.3 1303.4 787.8 1301.9 789.3C1300.5 790.7 1299 792.4 1297.8 793.4C1296.7 794.3 1295.3 795.1 1294.8 795.4"/><path d="M1300.9 861C1302.2 861.3 1306.5 862.2 1309.1 863.1C1311.7 863.9 1315 865.4 1317.3 866.1C1319.6 866.9 1322.2 866.6 1323.5 867.6C1324.8 868.6 1324.7 871.1 1325.5 872.3C1326.3 873.5 1327.3 875 1328.6 875C1329.9 875 1331.9 872.9 1333.7 872.3C1335.5 871.7 1338.1 871.8 1339.9 871.3C1341.7 870.8 1344.2 870.4 1345 869.2C1345.8 868.1 1344 865.2 1345 864.1C1346 862.9 1349.7 861.9 1351.2 862C1352.6 862.2 1353.8 863.6 1354.2 865.1C1354.7 866.6 1353.3 870 1353.8 871.3C1354.3 872.6 1356.3 872.5 1357.3 873.3C1358.4 874.1 1358.6 876 1360.4 876.4C1362.2 876.8 1366 876.2 1368.6 875.8C1371.2 875.3 1374 874.4 1376.8 873.7C1379.6 873.1 1383.4 871.7 1386 871.7C1388.6 871.7 1390.7 873 1393.2 873.7C1395.6 874.5 1398.5 875.8 1401.4 876.4C1404.2 877 1409.5 877.3 1411 877.4"/><path d="M1100 909.8C1100.8 910.2 1104.3 911.1 1105.1 912.3C1105.9 913.5 1105.9 916.1 1105.1 917.4C1104.3 918.7 1100.8 920 1100 920.5"/><path d="M1100 923.5C1101 923.9 1104.5 925.1 1106.2 925.6C1107.8 926.1 1109.1 925.6 1110.3 926.6C1111.4 927.6 1112 930.3 1113.3 931.7C1114.6 933.2 1117.8 934 1118.5 935.8C1119.1 937.7 1118.1 940.9 1117.4 943C1116.8 945.2 1115.5 947.2 1114.4 949.2C1113.2 951.1 1111.9 954.1 1110.3 955.3C1108.6 956.6 1105.7 956.6 1104.1 957C1102.5 957.3 1100.7 957.3 1100 957.4"/><path d="M1100 975.8C1100.5 976.8 1102.4 979.4 1103.1 982C1103.7 984.6 1103.8 988.9 1104.1 992.2C1104.4 995.5 1104.8 999.9 1105.1 1002.5C1105.5 1005.1 1106.6 1007.3 1106.2 1008.6C1105.7 1009.9 1103 1010.4 1102.1 1010.7C1101.1 1011 1100.3 1010.7 1100 1010.7"/><path d="M1106.2 1008.6C1107.3 1009.1 1110.9 1010.9 1113.3 1011.7C1115.8 1012.5 1119.1 1014.1 1121.5 1013.8C1124 1013.4 1126.7 1011.3 1128.7 1009.7C1130.7 1008 1132.4 1005.5 1133.8 1003.5C1135.3 1001.5 1136.5 999.5 1137.9 997.4C1139.4 995.2 1141.4 992.6 1143.1 990.2C1144.7 987.7 1147 983.8 1148.2 982C1149.3 980.2 1150.9 977.8 1150.2 978.9C1149.6 980.1 1145.7 986.2 1144.1 989.2C1142.4 992.1 1141.1 994.6 1140 997.4C1138.8 1000.1 1137.6 1004.6 1136.9 1006.6C1136.2 1008.5 1134.7 1008.8 1135.9 1009.7C1137 1010.5 1142.1 1012.2 1144.1 1011.7C1146 1011.2 1146.5 1007.6 1148.2 1006.6C1149.8 1005.6 1152.2 1005.2 1154.3 1005.6C1156.5 1005.9 1159.2 1007.8 1161.5 1008.6C1163.8 1009.5 1166.6 1010.7 1168.7 1010.7C1170.8 1010.7 1173.2 1009.6 1174.8 1008.6C1176.5 1007.6 1178.1 1006.5 1178.9 1004.5C1179.8 1002.6 1180 998.8 1180 996.3C1180 993.9 1179.6 991.1 1178.9 989.2C1178.3 987.2 1176.2 985.8 1175.9 984C1175.5 982.2 1176.1 979.5 1176.9 977.9C1177.7 976.2 1179.7 974.8 1181 973.8C1182.3 972.8 1184.1 973.4 1185.1 971.7C1186.1 970.1 1187.8 964.8 1187.1 963.5C1186.5 962.2 1182.1 964.5 1181 963.5C1179.8 962.5 1179.3 958.7 1180 957.4C1180.6 956.1 1183.8 956.3 1185.1 955.3C1186.4 954.3 1187.7 951.9 1188.2 951.2"/><path d="M1131.8 983C1132.4 984.3 1134.7 988.9 1135.9 991.2C1137 993.5 1138.5 996.4 1139 997.4"/><path d="M1163.6 912.3C1163.4 912.9 1161.9 915.1 1162.5 916.4C1163.2 917.7 1166.2 919.2 1167.7 920.5C1169.1 921.8 1170.9 922.9 1171.8 924.6C1172.6 926.2 1172 929.1 1172.8 930.7C1173.6 932.4 1176.1 933.2 1176.9 934.8C1177.7 936.5 1178.2 939.3 1177.9 941C1177.6 942.6 1175.3 943.8 1174.8 945.1C1174.3 946.4 1173.7 948.5 1174.8 949.2C1176 949.8 1179.9 949 1182 949.2C1184.1 949.3 1187.2 950 1188.2 950.2"/><path d="M1185.1 971.7C1184.9 973 1184.2 977 1184.1 979.9C1183.9 982.9 1183.6 986.9 1184.1 990.2C1184.6 993.5 1186.2 997.5 1187.1 1000.4C1188.1 1003.4 1188.7 1007 1190.2 1008.6C1191.7 1010.3 1194.4 1010 1196.4 1010.7C1198.3 1011.3 1201.2 1011.3 1202.5 1012.7C1203.8 1014.2 1203.2 1019.3 1204.6 1019.9C1205.9 1020.6 1208.9 1018 1210.7 1016.8C1212.5 1015.7 1214.4 1012.7 1215.8 1012.7C1217.3 1012.7 1218.5 1015.7 1219.9 1016.8C1221.4 1018 1222.9 1019.7 1225.1 1019.9C1227.2 1020.1 1230.6 1019 1233.3 1017.9C1235.9 1016.7 1238.8 1014.2 1241.5 1012.7C1244.1 1011.3 1247.2 1009.8 1249.7 1008.6C1252.1 1007.5 1256.2 1005.2 1256.8 1005.6C1257.5 1005.9 1255.4 1009.2 1253.8 1010.7C1252.1 1012.2 1248.9 1013.5 1246.6 1014.8C1244.3 1016.1 1241.4 1017.4 1239.4 1018.9C1237.4 1020.4 1235.3 1022.4 1234.3 1024C1233.3 1025.6 1234.1 1027.5 1233.3 1029.1C1232.4 1030.8 1230.8 1033.3 1229.2 1034.3C1227.5 1035.2 1225 1035.4 1223 1035.3C1221 1035.1 1218.8 1034.1 1216.9 1033.2C1214.9 1032.4 1213 1031 1210.7 1030.2C1208.4 1029.3 1205.1 1028.4 1202.5 1028.1C1199.9 1027.8 1196.6 1027.9 1194.3 1028.1C1192 1028.3 1190.1 1029.1 1188.2 1029.1C1186.2 1029.1 1184 1028.4 1182 1028.1C1180 1027.8 1177.8 1027.9 1175.9 1027.1C1173.9 1026.3 1171.5 1023.8 1169.7 1023C1167.9 1022.2 1166.9 1022 1164.6 1022C1162.3 1021.9 1158.1 1022.4 1155.4 1022.6C1152.6 1022.7 1149.3 1023.6 1147.2 1023C1145 1022.4 1143.3 1020 1142 1018.9C1140.7 1017.7 1138.6 1015.2 1139 1015.8C1139.3 1016.5 1142.3 1020.7 1144.1 1023C1145.9 1025.3 1148.3 1028.2 1150.2 1030.2C1152.2 1032.1 1155.1 1033.6 1156.4 1035.3C1157.7 1036.9 1158.3 1040.7 1158.4 1040.4C1158.6 1040.1 1156.9 1035 1157.4 1033.2C1157.9 1031.4 1159.5 1029.5 1161.5 1029.1C1163.5 1028.8 1167.1 1030.2 1169.7 1031.2C1172.3 1032.2 1175.3 1034.3 1177.9 1035.3C1180.5 1036.3 1184 1036.8 1186.1 1037.3C1188.2 1037.8 1189.6 1037 1191.2 1038.4C1192.9 1039.7 1195.5 1044.4 1196.4 1045.5"/><path d="M1410 878.4C1411.3 878.2 1415.6 877.7 1418.2 877C1420.8 876.3 1423.8 875.1 1426.4 874.3C1429 873.6 1432 872.9 1434.6 872.3C1437.2 871.6 1440.2 871.2 1442.8 870.2C1445.4 869.3 1448.4 867.4 1451 866.1C1453.6 864.9 1456.6 862.8 1459.2 862.7C1461.8 862.5 1464.8 864.2 1467.4 865.1C1470 866 1473 867.4 1475.6 868.2C1478.2 869 1481.5 869.9 1483.8 870.2C1486.1 870.6 1488.5 870.9 1490 870.2C1491.4 869.6 1492.7 867.6 1493 866.1C1493.4 864.7 1492.7 862.2 1492 861C1491.4 859.9 1489.1 860.1 1488.9 859C1488.8 857.8 1490.3 856.1 1491 853.8C1491.6 851.5 1492.4 847.4 1493 844.6C1493.7 841.8 1495.2 838.1 1495.1 836.4C1494.9 834.8 1493.2 834.9 1492 834.4C1490.9 833.9 1488.2 834.6 1487.9 833.3C1487.6 832 1489.5 828 1490 826.2C1490.5 824.4 1491.5 823 1491 822.1C1490.5 821.1 1488.4 820.8 1486.9 820C1485.4 819.2 1482.9 818.1 1481.8 816.9C1480.6 815.8 1479.5 814.3 1479.7 812.8C1479.9 811.4 1481.1 808.9 1482.8 807.7C1484.4 806.6 1488.5 806.5 1490 805.7C1491.4 804.8 1492.2 803.6 1492 802.6C1491.8 801.6 1490.2 800.3 1488.9 799.5C1487.6 798.7 1485.1 798.6 1483.8 797.5C1482.5 796.3 1480.7 793.6 1480.7 792.3C1480.7 791 1483.2 790.7 1483.8 789.3C1484.5 787.8 1485 784.7 1484.8 783.1C1484.7 781.5 1482.6 780.2 1482.8 779C1482.9 777.9 1485 775.8 1485.9 775.9C1486.7 776.1 1486.6 779 1487.9 780C1489.2 781 1492.1 782.4 1494.1 782.1C1496 781.8 1498.1 779 1500.2 778C1502.3 777 1505.1 776 1507.4 775.9C1509.7 775.8 1512.3 777.4 1514.6 777.4C1516.9 777.4 1519.6 776.2 1521.7 775.9C1523.9 775.7 1525.8 775.4 1527.9 775.9C1530 776.4 1532.6 778.2 1535.1 779C1537.5 779.8 1540.8 780.5 1543.3 781.1C1545.7 781.6 1548.6 782.2 1550.4 782.7C1552.2 783.2 1553.1 784.6 1554.5 784.1C1556 783.7 1558 781.2 1559.7 780C1561.3 778.9 1563 777.5 1564.8 777C1566.6 776.4 1569.3 776.1 1570.9 776.5C1572.6 777 1573.6 779.1 1575 780C1576.5 780.9 1578.7 781.1 1580.2 782.1C1581.6 783.1 1582.6 785.9 1584.3 786.2C1585.9 786.5 1588.5 784.8 1590.4 784.1C1592.4 783.5 1595 782.2 1596.6 782.1C1598.1 781.9 1599.4 781.6 1600.3 783.1C1601.1 784.6 1600.6 790.3 1601.7 791.3C1602.7 792.3 1605.7 788.4 1606.8 789.3C1608 790.1 1608.2 794.5 1608.9 796.4C1609.5 798.4 1609.9 800.2 1610.9 801.6C1611.9 802.9 1614.4 803.2 1615 804.6C1615.7 806.1 1615.5 809.1 1615 810.8C1614.5 812.4 1612.9 813.9 1611.9 814.9C1611 815.9 1608.9 815.9 1608.9 816.9C1608.9 817.9 1610.5 820.5 1611.9 821C1613.4 821.5 1616.5 820.7 1618.1 820C1619.7 819.4 1621.1 816.9 1622.2 816.9C1623.3 816.9 1624.1 818.9 1625.3 820C1626.4 821.2 1627.7 823.3 1629.4 824.1C1631 824.9 1633.7 825.6 1635.5 825.1C1637.3 824.6 1639 821.4 1640.7 821C1642.3 820.7 1643.6 822.9 1645.8 823.1C1647.9 823.2 1651.4 822.4 1654 822.1C1656.6 821.7 1661.4 822.2 1662.2 821C1663 819.9 1659.3 816.7 1659.1 814.9C1658.9 813.1 1659.7 810.9 1661.2 809.8C1662.6 808.6 1667.3 808.9 1668.3 807.7C1669.3 806.6 1668.1 804.1 1667.3 802.6C1666.5 801.1 1664 800.5 1663.2 798.5C1662.4 796.5 1662 792.6 1662.2 790.3C1662.3 788 1662.9 785.4 1664.2 784.1C1665.5 782.8 1668.4 782.2 1670.4 782.1C1672.3 781.9 1674.6 782.3 1676.5 783.1C1678.5 783.9 1680.7 786.1 1682.7 787.2C1684.6 788.4 1687 790.3 1688.8 790.3C1690.6 790.3 1692.8 788.7 1694 787.2C1695.1 785.7 1696 783 1696 781.1C1696 779.1 1694.1 776.7 1694 774.9C1693.8 773.1 1694.2 771.3 1695 769.8C1695.8 768.3 1698.4 767.5 1699.1 765.7C1699.8 763.9 1699.7 761 1699.5 758.5C1699.3 756 1698.9 752.3 1698.1 750.3C1697.2 748.3 1695.4 746.9 1694 746.2C1692.5 745.5 1689.8 747.2 1688.8 746.2C1687.8 745.2 1687.9 741.4 1687.8 740.1C1687.7 738.7 1688.3 738.3 1688.4 738"/><path d="M1662.2 821C1662.3 822 1662.1 825.9 1663.2 827.2C1664.4 828.5 1667.9 827.8 1669.4 829.2C1670.8 830.7 1671.4 834.1 1672.4 836.4C1673.4 838.7 1674.2 841.8 1675.5 843.6C1676.8 845.4 1680 846.2 1680.6 847.7C1681.3 849.2 1679.3 851.3 1679.6 852.8C1679.9 854.3 1681.4 855.9 1682.7 856.9C1684 857.9 1686.2 858 1687.8 859C1689.4 859.9 1691.5 862.1 1692.9 863.1C1694.4 864 1695.6 865.1 1697 865.1C1698.5 865.1 1700.4 862.7 1702.2 863.1C1704 863.4 1706.5 865.5 1708.3 867.2C1710.1 868.8 1712 871.5 1713.4 873.3C1714.9 875.1 1716.3 877.1 1717.5 878.4C1718.7 879.8 1720.5 881 1721 881.5"/><path d="M1418.2 878.4C1418.5 879.6 1419.6 883.3 1420.3 885.6C1420.9 887.9 1421.6 890.5 1422.3 892.8C1423 895.1 1423.7 897.7 1424.4 900C1425 902.3 1425.6 905.7 1426.4 907.1C1427.2 908.6 1427.8 909.2 1429.5 909.2C1431.1 909.2 1435 908.1 1436.7 907.1C1438.3 906.2 1437.9 903.9 1439.7 903C1441.5 902.2 1446.5 901.7 1447.9 902C1449.4 902.3 1449.3 904.1 1449 905.1C1448.6 906.1 1446 906.7 1445.9 908.2C1445.7 909.6 1447.6 912 1447.9 914.3C1448.3 916.6 1447.8 919.9 1447.9 922.5C1448.1 925.1 1448.1 928.6 1449 930.7C1449.8 932.9 1452.2 933.9 1453.1 935.8C1453.9 937.8 1453.8 940.9 1454.1 943C1454.4 945.2 1454.3 947.2 1455.1 949.2C1455.9 951.1 1457.7 953.7 1459.2 955.3C1460.7 957 1462.5 958.3 1464.3 959.4C1466.1 960.6 1469 961 1470.5 962.5C1472 964 1472.4 967.2 1473.6 968.7C1474.7 970.1 1476.8 970.4 1477.7 971.7C1478.5 973 1479.2 975.5 1478.7 976.9C1478.2 978.2 1475.6 978.3 1474.6 979.9C1473.6 981.6 1473.4 985.1 1472.5 987.1C1471.7 989.1 1470.9 990.9 1469.5 992.2C1468 993.5 1464.6 994.2 1463.3 995.3C1462 996.5 1460.8 998.3 1461.3 999.4C1461.7 1000.6 1464.7 1001.8 1466.4 1002.5C1468 1003.1 1470.4 1002.5 1471.5 1003.5C1472.7 1004.5 1473.6 1006.8 1473.6 1008.6C1473.6 1010.4 1471.3 1012.6 1471.5 1014.8C1471.7 1016.9 1473.1 1020.6 1474.6 1022C1476.1 1023.3 1478.9 1022.7 1480.7 1023C1482.5 1023.3 1485.2 1023 1485.9 1024C1486.5 1025 1484 1028.1 1484.8 1029.1C1485.7 1030.1 1488.9 1029.3 1491 1030.2C1493.1 1031 1496.2 1033.4 1498.2 1034.3C1500.1 1035.1 1502.1 1034.1 1503.3 1035.3C1504.4 1036.4 1504.8 1039.2 1505.3 1041.4C1505.8 1043.6 1506.2 1047.8 1506.4 1049"/><path d="M1721 968.7C1719.8 969 1715.6 969.7 1713.4 970.7C1711.2 971.7 1709.3 973.7 1707.3 974.8C1705.3 975.9 1703.1 976.7 1701.1 977.9C1699.2 979 1696.5 981.2 1695 982C1693.5 982.8 1692.6 981.5 1691.9 983C1691.3 984.5 1691.5 988.6 1690.9 991.2C1690.2 993.8 1688.8 997.1 1687.8 999.4C1686.8 1001.7 1685.9 1004.4 1684.7 1005.6C1683.6 1006.7 1680.5 1007.1 1680.6 1006.6C1680.8 1006.1 1684.8 1004.1 1685.8 1002.5C1686.7 1000.8 1687.4 998.3 1686.8 996.3C1686.1 994.4 1683.5 991.7 1681.7 990.2C1679.9 988.7 1677.5 987.8 1675.5 987.1C1673.5 986.4 1671.2 985.9 1669.4 986.1C1667.5 986.2 1666.4 987.6 1664.2 988.1C1662.1 988.6 1658.8 988.5 1656 989.2C1653.2 989.8 1649.4 990.9 1646.8 992.2C1644.2 993.5 1641.6 995.4 1639.6 997.4C1637.7 999.3 1635.8 1002.2 1634.5 1004.5C1633.2 1006.8 1632.4 1011 1631.4 1011.7C1630.4 1012.4 1629.3 1009.8 1628.3 1008.6C1627.4 1007.5 1626.8 1005.4 1625.3 1004.5C1623.8 1003.7 1621.3 1003.7 1619.1 1003.5C1617 1003.3 1614.2 1003.3 1611.9 1003.5C1609.7 1003.7 1607.6 1004.2 1604.8 1004.5C1602 1004.9 1597.5 1004.7 1594.5 1005.6C1591.6 1006.4 1588.9 1008.2 1586.3 1009.7C1583.7 1011.1 1580.4 1012.8 1578.1 1014.8C1575.8 1016.7 1573.9 1019.8 1572 1022C1570 1024.1 1568.1 1026.3 1565.8 1028.1C1563.5 1029.9 1559.9 1031.9 1557.6 1033.2C1555.3 1034.5 1553.4 1034.8 1551.5 1036.3C1549.5 1037.8 1547.3 1040.4 1545.3 1042.5C1543.3 1044.5 1540.1 1048 1539.2 1049"/><path d="M1721 893.8C1720.3 894.8 1717.6 898 1716.5 900C1715.5 901.9 1715.9 905 1714.5 906.1C1713 907.3 1709.6 907.5 1707.3 907.1C1705 906.8 1701.7 903.9 1700.1 904.1C1698.5 904.2 1697 906.7 1697 908.2C1697 909.6 1699.9 911.5 1700.1 913.3C1700.3 915.1 1699.4 918.1 1698.1 919.4C1696.7 920.8 1692.1 920.5 1691.9 921.5C1691.7 922.5 1695.2 924.3 1697 925.6C1698.8 926.9 1701.7 928.1 1703.2 929.7C1704.7 931.3 1705.4 934 1706.3 935.8C1707.1 937.7 1707 939.8 1708.3 941C1709.6 942.1 1712.8 941.9 1714.5 943C1716.1 944.2 1717.5 947.2 1718.6 948.1C1719.6 949.1 1720.6 949 1721 949.2"/><path d="M1721 957.4C1719.8 957.9 1715.5 959.5 1713.4 960.5C1711.4 961.4 1709 962.2 1708.3 963.5C1707.7 964.8 1708.5 967.5 1709.3 968.7C1710.2 969.8 1712.8 970.4 1713.4 970.7"/><path d="M1520.7 1049C1520.9 1048.1 1522.1 1045.4 1521.7 1043.5C1521.4 1041.6 1519.3 1039.3 1518.7 1037.3C1518 1035.4 1517.5 1032.7 1517.6 1031.2C1517.8 1029.7 1519 1027.8 1519.7 1028.1C1520.3 1028.4 1520.8 1031.6 1521.7 1033.2C1522.7 1034.9 1524.5 1037.4 1525.8 1038.4C1527.2 1039.3 1529.6 1037.7 1529.9 1039.4C1530.3 1041.1 1528.2 1047.5 1527.9 1049"/><path d="M1860.4 738C1860.4 738.7 1861.6 741 1860.4 742.1C1859.3 743.2 1854.6 744 1853.3 745.2C1852 746.3 1852.1 748 1852.2 749.3C1852.4 750.6 1852.8 752.7 1854.3 753.4C1855.8 754 1859.2 753.5 1861.5 753.4C1863.8 753.3 1867 751.9 1868.6 752.8C1870.3 753.6 1871 756.6 1871.7 758.5C1872.5 760.4 1873.3 763 1873.4 764.7C1873.4 766.3 1871.4 767.6 1872.1 768.8C1872.8 769.9 1875.6 770.8 1877.9 771.8C1880.1 772.8 1883.6 773.8 1886.1 774.9C1888.5 776 1891.7 777.4 1893.2 778.6C1894.8 779.7 1895.7 780.9 1895.9 782.1C1896.1 783.3 1895.3 785.2 1894.7 786.2C1894.1 787.2 1892 787.2 1892.2 788.2C1892.5 789.2 1894.7 791.5 1896.3 792.3C1898 793.2 1900.2 793.2 1902.5 793.4C1904.8 793.5 1908.3 793.1 1910.7 793.4C1913 793.6 1916.2 793.7 1917.2 795C1918.2 796.3 1916.6 799.5 1916.8 801.6C1917.1 803.6 1918.7 805.6 1918.9 807.7C1919 809.8 1918.1 813.2 1917.8 814.9C1917.6 816.5 1916.6 816.8 1917.2 818C1917.9 819.1 1920.4 821.3 1921.9 822.1C1923.5 822.8 1925.3 822.6 1927.1 822.5C1928.9 822.3 1931.1 821.4 1933.2 821C1935.4 820.7 1938.1 820.6 1940.4 820.4C1942.7 820.3 1945.4 819.5 1947.6 820C1949.7 820.5 1951.6 823.4 1953.7 823.7C1955.9 824 1958.9 822.2 1960.9 822.1C1962.9 822 1964.1 823.2 1966 823.1C1968 823 1970.9 821.6 1973.2 821.6C1975.5 821.7 1978.2 823 1980.4 823.7C1982.5 824.4 1984.9 825.7 1986.5 825.7C1988.2 825.8 1989.5 825.2 1990.6 824.1C1991.8 823 1993 821 1993.7 819C1994.4 817 1994.6 813.9 1994.7 811.8C1994.8 809.7 1994.2 807.6 1994.3 805.7C1994.5 803.7 1995.7 801.5 1995.8 799.5C1995.8 797.5 1995.4 794.3 1994.7 793.4C1994.1 792.4 1991.5 793.6 1991.7 793.4C1991.8 793.1 1994.1 792 1995.8 791.7C1997.4 791.4 2000.9 792.2 2001.9 791.3C2002.9 790.4 2002.2 787.7 2001.9 786.2C2001.6 784.7 2000 783.6 1999.9 782.1C1999.7 780.6 2000.2 778.8 2000.9 777C2001.5 775.2 2002.8 772.8 2004 770.8C2005.1 768.8 2006.6 766.3 2008.1 764.7C2009.5 763 2011.9 761.9 2013.2 760.6C2014.5 759.2 2015.9 758.1 2016.3 756.5C2016.6 754.8 2016.1 751.1 2015.2 750.3C2014.4 749.5 2012.9 750.8 2011.1 751.3C2009.3 751.8 2006.1 753.9 2004 753.4C2001.8 752.9 1998 749.7 1997.8 748.3C1997.6 746.8 2001.5 745.5 2002.9 744.2C2004.4 742.8 2005.7 741 2007 740.1C2008.3 739.1 2010.5 738.3 2011.1 738"/><path d="M1917.2 818C1915.9 817.9 1911.3 817.6 1908.6 817.5C1905.9 817.5 1902.6 817.2 1900.4 817.5C1898.3 817.9 1896.8 818.6 1895.3 820C1893.8 821.4 1892.2 824 1891.2 826.2C1890.2 828.3 1889.6 831 1889.1 833.3C1888.7 835.6 1888.5 838.4 1888.1 840.5C1887.7 842.6 1887.8 845.6 1886.5 846.3C1885.2 846.9 1881.6 844.4 1879.9 844.6C1878.2 844.8 1877.3 846.3 1875.8 847.7C1874.3 849.1 1872.7 852.1 1870.7 853.2C1868.7 854.4 1866 854.4 1863.5 854.9C1861.1 855.3 1857.9 855.6 1855.3 855.9C1852.7 856.2 1849.2 856.1 1847.1 856.9C1845 857.7 1843.3 859.2 1842 861C1840.7 862.8 1839.7 865.9 1838.9 868.2C1838.2 870.5 1837.4 872.9 1837.3 875.4C1837.1 877.8 1838 881.1 1837.9 883.6C1837.8 886 1837.7 888.6 1836.9 890.7C1836 892.9 1833.9 895.1 1832.8 896.9C1831.6 898.7 1830 900.5 1829.7 902C1829.4 903.6 1829.4 905.8 1830.7 906.5C1832 907.3 1836.1 906.1 1837.9 906.5C1839.7 907 1841.5 908 1842 909.2C1842.5 910.4 1841.9 912.6 1841 913.9C1840 915.2 1837.3 916.3 1835.8 917.4C1834.4 918.4 1832.6 919 1831.7 920.5C1830.9 921.9 1830.6 924.8 1830.7 926.6C1830.8 928.4 1832 930.3 1832.4 931.7C1832.7 933.2 1833.8 934.4 1833.2 935.8C1832.6 937.3 1829.9 939.3 1828.7 941C1827.4 942.6 1826.8 945 1825.6 946.1C1824.3 947.2 1821.4 948.6 1820.9 948.1C1820.4 947.7 1821.9 944.2 1822.5 943C1823.2 941.9 1825.6 942.1 1825 941C1824.3 939.8 1820.3 936 1818.4 935.8C1816.5 935.7 1814.9 939.7 1813.3 939.9C1811.6 940.2 1810 937.8 1808.2 937.3C1806.4 936.8 1804 937.1 1802 936.9C1800 936.6 1797.8 935.7 1795.9 935.8C1793.9 936 1791.7 937.2 1789.7 937.9C1787.7 938.6 1785.9 939.6 1783.6 939.9C1781.3 940.3 1778.1 940.3 1775.4 939.9C1772.6 939.6 1768.4 937.7 1766.1 937.9C1763.8 938.1 1762.8 939.3 1761 941C1759.2 942.6 1756.7 945.7 1754.9 948.1C1753 950.6 1751.4 953.7 1749.7 956.3C1748.1 959 1746.1 962.3 1744.6 964.6C1743.1 966.8 1741.3 970.5 1740.5 970.7C1739.7 970.9 1740.5 967.1 1739.5 965.6C1738.5 964.1 1736 962.2 1734.4 961.5C1732.7 960.8 1731 960.5 1729.2 961.1C1727.4 961.7 1724.6 964.4 1723.1 965.2C1721.6 965.9 1720.5 965.5 1720 965.6"/><path d="M1720 879.5C1721.5 879.5 1727.9 878.6 1729.2 879.9C1730.5 881.2 1728.7 885.1 1728.2 887.7C1727.7 890.2 1727.1 894.4 1726.2 895.9C1725.2 897.3 1723 896.9 1722.1 896.9C1721.1 896.9 1720.3 896 1720 895.9"/><path d="M1720 947.1C1720.2 947.9 1721 950.8 1721 952.2C1721 953.7 1720.2 955.7 1720 956.3"/><path d="M871 1049C871.3 1050 872.8 1052.9 873 1055.2C873.3 1057.4 871.9 1061.1 872.4 1063.4C872.9 1065.6 874.7 1067.7 876.1 1069.5C877.5 1071.3 880.3 1073 881.2 1074.6C882.2 1076.3 882.6 1077.9 882.3 1079.8C881.9 1081.6 880.3 1084.1 879.2 1085.9C878 1087.7 875.9 1089.2 875.1 1091C874.3 1092.8 874 1095 874.1 1097.2C874.2 1099.3 876 1102.6 875.7 1104.4C875.4 1106.2 873.9 1107.5 872 1108.5C870.1 1109.4 866.3 1109.6 863.8 1110.1C861.3 1110.6 858.4 1110.6 856.6 1111.5C854.8 1112.4 853.2 1114 852.5 1115.6C851.9 1117.3 852.3 1119.7 852.5 1121.8C852.8 1123.9 854.1 1127 854 1129C853.8 1130.9 852.7 1132.9 851.5 1134.1C850.3 1135.2 847.4 1135 846.4 1136.1C845.4 1137.3 846.3 1140 845.4 1141.3C844.4 1142.5 841.9 1143.2 840.2 1143.7C838.6 1144.2 836.1 1143.4 835.1 1144.3C834.1 1145.3 835.1 1148 834.1 1149.5C833.1 1150.9 830.4 1151.8 829 1153.6C827.5 1155.4 825.3 1158.9 825.3 1160.7C825.3 1162.5 828.2 1163.2 829 1164.8C829.7 1166.5 829.3 1169.7 830 1171C830.6 1172.3 833.4 1172.2 833.1 1173C832.7 1173.9 828.6 1174.6 827.9 1176.1C827.3 1177.6 829.3 1180.8 829 1182.3C828.6 1183.7 827.5 1184.8 825.9 1185.3C824.2 1185.8 821.2 1185.8 818.7 1185.3C816.2 1184.8 813 1182.9 810.5 1182.3C808 1181.6 805.3 1180.7 803.3 1181.2C801.4 1181.7 799.2 1183.9 798.2 1185.3C797.2 1186.8 796.8 1189.2 797.2 1190.5C797.5 1191.8 798.9 1192.6 800.3 1193.5C801.6 1194.5 804.4 1195.1 805.4 1196.6C806.4 1198.1 805.7 1200.5 806.4 1202.8C807.1 1205.1 808 1208.9 809.5 1211C811 1213 813.2 1214.2 815.6 1215.5C818.1 1216.8 822.1 1217.9 824.9 1219.2C827.6 1220.4 830.4 1222.1 833.1 1223.3C835.7 1224.4 838.5 1225.5 841.3 1226.3C844 1227.2 847.9 1228.2 850.5 1228.4C853.1 1228.6 856 1228 857.7 1227.4C859.3 1226.7 861.1 1225.1 860.7 1224.3C860.4 1223.5 856.4 1223.4 855.6 1222.2C854.8 1221.1 855.1 1218.8 855.6 1217.1C856.1 1215.5 857.5 1212.8 858.7 1212C859.8 1211.2 861.3 1211.3 862.8 1212C864.3 1212.6 866.3 1214.9 867.9 1216.1C869.5 1217.2 871.7 1219 873 1219.2C874.3 1219.3 875.6 1218.1 876.1 1217.1C876.6 1216.1 875.3 1214 876.1 1213C876.9 1212 879.4 1212.1 881.2 1211C883 1209.8 885.3 1207.2 887.4 1205.8C889.5 1204.5 892.4 1204.1 894.6 1202.8C896.7 1201.5 898.7 1198.6 900.7 1197.6C902.7 1196.7 904.9 1197.3 906.9 1196.6C908.8 1196 910.7 1193.9 913 1193.5C915.3 1193.2 918.6 1194.1 921.2 1194.6C923.8 1195.1 926.8 1195.8 929.4 1196.6C932 1197.4 935.3 1198.5 937.6 1199.7C939.9 1200.8 942.1 1202.3 943.8 1203.8C945.4 1205.3 946.9 1206.9 947.9 1208.9C948.8 1210.9 949.3 1213.8 949.5 1216.1C949.7 1218.4 949.2 1221.1 948.9 1223.3C948.6 1225.4 947.4 1228.4 947.9 1229.4C948.4 1230.5 950.7 1230.3 952 1229.8C953.3 1229.3 955.1 1228.1 956.1 1226.3C957.1 1224.6 957.6 1221.6 958.1 1219.2C958.6 1216.7 958.9 1213.6 959.1 1211C959.4 1208.3 959.8 1205.4 959.8 1202.8C959.8 1200.1 959.6 1196.9 959.1 1194.6C958.7 1192.3 957.9 1189.1 957.1 1188.4C956.3 1187.8 955.3 1190.1 954 1190.5C952.7 1190.8 950.2 1190 948.9 1190.5C947.6 1191 946.8 1193.9 945.8 1193.5C944.8 1193.2 942.7 1190.1 942.7 1188.4C942.7 1186.8 944.5 1184.8 945.8 1183.3C947.1 1181.8 949.6 1180.8 950.9 1179.2C952.3 1177.5 952.2 1174.5 954 1173C955.8 1171.6 959.6 1171.3 962.2 1170C964.8 1168.7 967.8 1166.6 970.4 1164.8C973 1163 976 1160.8 978.6 1158.7C981.2 1156.6 984.2 1153.8 986.8 1151.5C989.4 1149.2 992.4 1146.6 995 1144.3C997.6 1142 1000.6 1139.6 1003.2 1137.2C1005.8 1134.7 1009.1 1131.6 1011.4 1129C1013.7 1126.3 1015.6 1123.7 1017.6 1120.8C1019.5 1117.8 1021.8 1113.3 1023.7 1110.5C1025.7 1107.7 1028.1 1105.6 1029.9 1103.3C1031.7 1101 1033.7 1098.8 1035 1096.2C1036.3 1093.5 1036.6 1089.7 1038.1 1086.9C1039.6 1084.1 1042.4 1081.4 1044.2 1078.7C1046 1076.1 1047.9 1073 1049.4 1070.5C1050.8 1068.1 1052.3 1065.6 1053.5 1063.4C1054.6 1061.1 1055.5 1058.1 1056.5 1056.2C1057.5 1054.2 1058.8 1052.2 1059.6 1051.1C1060.4 1049.9 1061.3 1049.3 1061.7 1049"/><path d="M954 1173C953 1173.7 949.8 1176.6 947.9 1177.1C945.9 1177.6 942.8 1177.6 941.7 1176.1C940.7 1174.6 941.2 1171.2 941.3 1167.9C941.4 1164.6 941.6 1158.6 942.1 1155.6C942.7 1152.7 944.5 1151.4 944.8 1149.5C945.1 1147.5 943.9 1145.8 944.2 1143.3C944.4 1140.9 945.1 1134.9 946.2 1134.1C947.3 1133.3 950 1136.4 950.9 1138.2C951.9 1140 952 1143.1 952 1145.4C952 1147.7 950.6 1150.6 950.9 1152.5C951.3 1154.5 953.2 1155.9 954 1157.7C954.8 1159.5 955.9 1161.5 956.1 1163.8C956.2 1166.1 955.2 1170.7 955 1172"/><path d="M956.1 1170C956.7 1168.7 958.9 1163.7 960.2 1161.8C961.5 1159.8 963.9 1159.6 964.3 1157.7C964.6 1155.7 961.9 1151.4 962.2 1149.5C962.5 1147.5 964.7 1146.2 966.3 1145.4C968 1144.5 971 1145.6 972.5 1144.3C973.9 1143 974.4 1139 975.5 1137.2C976.7 1135.4 978.7 1132.7 979.6 1133.1C980.6 1133.4 981.9 1137.1 981.7 1139.2C981.5 1141.3 980.1 1144.1 978.6 1146.4C977.1 1148.7 974.4 1152.1 972.5 1153.6C970.5 1155 967.6 1154.5 966.3 1155.6C965 1156.8 964.6 1159.9 964.3 1160.7"/><path d="M991.9 1139.2C992.1 1138.6 992.5 1137.1 993 1135.1C993.5 1133.1 994.2 1128.7 995 1126.9C995.8 1125.1 997.8 1123.2 998.1 1123.8C998.4 1124.5 997.7 1128.9 997.1 1131C996.4 1133.1 994.5 1136.2 994 1137.2"/><path d="M898.7 1049C899 1049.4 900.1 1051.5 900.7 1051.5C901.4 1051.5 902.4 1049.4 902.8 1049"/><path d="M940.7 1049C941.2 1049.3 942.8 1051.1 943.8 1051.1C944.8 1051.1 946.4 1049.3 946.8 1049"/><path d="M964.3 1051.1C964.9 1051.5 966.7 1054.1 968.4 1054.1C970 1054.1 971.9 1051.6 974.5 1051.1C977.1 1050.5 981.8 1051 984.8 1050.6C987.7 1050.3 991.7 1049.3 993 1049"/><path d="M1051.4 1054.1 L1056.5 1052.1"/><path d="M1139 1049C1139.1 1050 1139.3 1053 1140 1055.2C1140.6 1057.3 1141.6 1060.4 1143.1 1062.3C1144.5 1064.3 1146.6 1066 1149.2 1067.5C1151.8 1068.9 1155.8 1070 1159.5 1071.1C1163.1 1072.3 1167.8 1073.6 1171.8 1074.6C1175.7 1075.7 1180.5 1076.9 1184.1 1077.7C1187.7 1078.5 1191.4 1079.1 1194.3 1079.8C1197.3 1080.4 1200.4 1081.1 1202.5 1081.8C1204.6 1082.5 1207.3 1084.3 1207.6 1084.3C1208 1084.2 1206.4 1082.3 1204.6 1081.4C1202.8 1080.5 1199.3 1079.5 1196.4 1078.7C1193.4 1077.9 1189.7 1077.2 1186.1 1076.3C1182.5 1075.4 1177.7 1074.3 1173.8 1073.2C1169.9 1072.1 1165.1 1070.7 1161.5 1069.5C1157.9 1068.3 1153.9 1067.1 1151.3 1065.8C1148.6 1064.5 1146.6 1063 1145.1 1061.3C1143.6 1059.6 1142.7 1057.1 1142 1055.2C1141.4 1053.2 1141.2 1050 1141 1049"/><path d="M1193.3 1049C1192.1 1049.4 1188.6 1050.9 1186.1 1051.5C1183.6 1052.1 1180.4 1052.6 1177.9 1052.7C1175.4 1052.8 1172.5 1051.5 1170.7 1052.1C1168.9 1052.6 1167.3 1054.9 1166.6 1056.2C1166 1057.5 1166 1059.1 1166.6 1060.3C1167.3 1061.5 1168.9 1063.2 1170.7 1063.8C1172.5 1064.3 1176.6 1064.5 1177.9 1063.8C1179.2 1063 1179.3 1060.4 1178.9 1059.3C1178.6 1058.1 1175.5 1057 1175.9 1056.8C1176.2 1056.6 1179.3 1057.2 1181 1058.2C1182.6 1059.3 1184.5 1061.9 1186.1 1063.4C1187.7 1064.8 1189.6 1067 1191.2 1067.5C1192.9 1067.9 1194.9 1065.8 1196.4 1066.4C1197.8 1067.1 1199 1070.1 1200.5 1071.6C1201.9 1073 1203.8 1074.8 1205.6 1075.7C1207.4 1076.5 1209.8 1076.7 1211.7 1076.7C1213.7 1076.6 1217.3 1074.6 1217.9 1075.2C1218.4 1075.9 1215.4 1079.1 1215.2 1080.8C1215.1 1082.5 1215.8 1084.6 1216.9 1085.9C1217.9 1087.2 1220 1088.1 1222 1089C1224 1089.9 1226.9 1090.8 1229.2 1091.6C1231.5 1092.5 1234.2 1093.4 1236.3 1094.1C1238.5 1094.8 1240.9 1095.7 1242.5 1095.7C1244.1 1095.7 1245.3 1095 1246.6 1094.1C1247.9 1093.2 1249.1 1090.9 1250.7 1090C1252.3 1089.1 1254.7 1088.9 1256.8 1088.4C1259 1087.9 1261.9 1087.4 1264 1086.9C1266.2 1086.5 1268 1085.5 1270.2 1085.5C1272.3 1085.5 1275 1086.5 1277.3 1086.9C1279.6 1087.3 1282.4 1088 1284.5 1088C1286.7 1088 1288.7 1087.3 1290.7 1086.9C1292.6 1086.5 1296 1086.5 1296.8 1085.5C1297.6 1084.5 1295.1 1081.2 1295.8 1080.8C1296.5 1080.4 1299.3 1082 1300.9 1082.8C1302.6 1083.6 1304.4 1085.7 1306 1085.9C1307.7 1086.1 1309.9 1085.2 1311.2 1083.9C1312.5 1082.5 1313.3 1079.6 1314.2 1077.7C1315.2 1075.8 1316.7 1071.8 1317.3 1072C1318 1072.1 1318.5 1076.5 1318.3 1078.7C1318.2 1081 1315.8 1084.6 1316.3 1085.9C1316.8 1087.2 1319.8 1086.8 1321.4 1086.9C1323.1 1087.1 1326.1 1086.1 1326.6 1086.9C1327 1087.7 1324 1091.4 1324.5 1092.1C1325 1092.7 1328.1 1090.5 1329.6 1091C1331.1 1091.5 1332.4 1093.8 1333.7 1095.1C1335 1096.4 1336.2 1098.7 1337.8 1099.2C1339.5 1099.7 1342.5 1098 1344 1098.2C1345.5 1098.4 1346.7 1100.7 1347.1 1100.3C1347.4 1099.8 1345.7 1096.4 1346 1095.1C1346.4 1093.8 1348.8 1093.2 1349.1 1092.1C1349.4 1090.9 1347.6 1089.3 1348.1 1088C1348.6 1086.6 1350.7 1084.7 1352.2 1083.9C1353.7 1083 1356.3 1082 1357.3 1082.8C1358.4 1083.6 1358.4 1086.8 1358.7 1089C1359.1 1091.1 1359.4 1093.9 1359.4 1096.2C1359.4 1098.5 1358.7 1101 1358.7 1103.3C1358.7 1105.6 1359.4 1108.5 1359.4 1110.5C1359.4 1112.5 1358.1 1115.1 1358.7 1115.6C1359.4 1116.1 1361.6 1113.6 1363.5 1113.6C1365.4 1113.6 1368.8 1114.8 1370.6 1115.6C1372.4 1116.5 1375.1 1117.9 1374.7 1118.7C1374.4 1119.5 1370.2 1119.9 1368.6 1120.8C1366.9 1121.6 1365 1122.5 1364.5 1123.8C1364 1125.1 1366 1128.1 1365.5 1129C1365 1129.8 1362.2 1129.5 1361.4 1129C1360.6 1128.5 1361.4 1126.2 1360.4 1125.9C1359.4 1125.6 1356.9 1126.1 1355.3 1126.9C1353.6 1127.7 1351.8 1130.5 1350.1 1131C1348.5 1131.5 1346.6 1129.8 1345 1130C1343.4 1130.1 1341.7 1130.9 1339.9 1132C1338.1 1133.2 1335.9 1135.7 1333.7 1137.2C1331.6 1138.6 1328.8 1139.9 1326.6 1141.3C1324.3 1142.6 1321.3 1144.7 1319.4 1145.4C1317.4 1146 1315.6 1146 1314.2 1145.4C1312.9 1144.7 1311.8 1140.9 1311.2 1141.3C1310.5 1141.6 1311.5 1145.9 1310.1 1147.4C1308.8 1148.9 1305.4 1149.4 1303 1150.5C1300.5 1151.5 1297.4 1152.8 1294.8 1154C1292.1 1155.1 1288.9 1156.4 1286.6 1157.7C1284.3 1158.9 1282.1 1160.4 1280.4 1161.8C1278.8 1163.1 1277.2 1164.8 1276.3 1166.3C1275.4 1167.7 1274.7 1169.6 1274.7 1171C1274.6 1172.4 1276.3 1174.3 1275.9 1175.1C1275.5 1175.9 1273.3 1176.3 1272.2 1176.1C1271.1 1176 1270.5 1173.7 1269.1 1174.1C1267.8 1174.4 1265.8 1177.2 1264 1178.2C1262.2 1179.1 1259.7 1179.4 1257.9 1180.2C1256.1 1181 1254.5 1182 1252.7 1183.3C1250.9 1184.6 1248.4 1186.8 1246.6 1188.4C1244.8 1190.1 1242.5 1191.7 1241.5 1193.5C1240.4 1195.3 1239.8 1197.7 1239.8 1199.7C1239.8 1201.7 1240.9 1204.2 1241.5 1205.8C1242.1 1207.5 1242.2 1208.9 1243.5 1209.9C1244.8 1211 1247.4 1212.2 1249.7 1212.6C1252 1213 1255.9 1213.2 1257.9 1212.6C1259.8 1212 1260.7 1209.9 1262 1208.9C1263.3 1207.9 1264.1 1206.9 1266.1 1206.5C1268 1206.1 1271.6 1206.3 1274.3 1206.5C1276.9 1206.6 1280.2 1206.6 1282.5 1207.3C1284.8 1208 1286.7 1209.6 1288.6 1211C1290.6 1212.4 1292.6 1214.5 1294.8 1216.1C1296.9 1217.7 1300 1219.4 1301.9 1221.2C1303.9 1223 1305.4 1225.7 1307.1 1227.4C1308.7 1229 1310.6 1230.5 1312.2 1231.5C1313.8 1232.5 1316 1232.5 1317.3 1233.5C1318.6 1234.5 1319.1 1237.5 1320.4 1237.6C1321.7 1237.8 1323.4 1235.4 1325.5 1234.5C1327.7 1233.7 1331.8 1232.3 1333.7 1232.5C1335.7 1232.7 1336.2 1234.3 1337.8 1235.6C1339.5 1236.9 1342.2 1239.2 1344 1240.7C1345.8 1242.2 1347.8 1243.2 1349.1 1244.8C1350.4 1246.4 1351.4 1248.5 1352.2 1250.9C1353 1253.4 1353.6 1257.4 1354.2 1260.2C1354.9 1263 1355.8 1265.8 1356.3 1268.4C1356.8 1271 1357.5 1274.1 1357.3 1276.6C1357.1 1279 1356.2 1282.1 1355.3 1283.8C1354.3 1285.4 1352.3 1285.5 1351.2 1286.8C1350 1288.1 1348.7 1290.3 1348.1 1292C1347.4 1293.6 1346.9 1295.3 1347.1 1297.1C1347.2 1298.9 1348.6 1300.9 1349.1 1303.2C1349.6 1305.5 1350.5 1309.3 1350.1 1311.4C1349.8 1313.6 1347.2 1315.1 1347.1 1316.6C1346.9 1318 1348.1 1319.8 1349.1 1320.7C1350.1 1321.5 1353.7 1321.2 1353.2 1321.7C1352.7 1322.2 1348.5 1323.1 1346 1323.7C1343.6 1324.4 1340.1 1325.2 1337.8 1325.8C1335.5 1326.4 1332 1326.3 1331.7 1327.4C1331.3 1328.6 1334.1 1331.4 1335.8 1333C1337.4 1334.5 1340 1335.7 1341.9 1337.1C1343.9 1338.4 1346.1 1340.7 1348.1 1341.2C1350 1341.6 1352.8 1339.6 1354.2 1340.1C1355.7 1340.6 1356.3 1342.8 1357.3 1344.2C1358.3 1345.7 1358.9 1348 1360.4 1349.4C1361.9 1350.7 1364.7 1351.3 1366.5 1352.4C1368.3 1353.6 1369.7 1355.6 1371.7 1356.5C1373.6 1357.5 1376.4 1358 1378.8 1358.6C1381.3 1359.1 1385.7 1359.8 1387 1360"/><path d="M1351.2 1286.8C1352.3 1287.3 1356.2 1288.6 1358.3 1289.9C1360.5 1291.2 1363.5 1293.2 1364.5 1295C1365.5 1296.8 1365.3 1299.7 1364.5 1301.2C1363.7 1302.7 1360.7 1303.3 1359.4 1304.3C1358 1305.2 1356.4 1305.5 1356.3 1307.3C1356.1 1309.1 1357 1314.4 1358.3 1315.5C1359.6 1316.7 1362.8 1314.5 1364.5 1314.5C1366.1 1314.5 1367.4 1314.4 1368.6 1315.5C1369.7 1316.7 1371.8 1319.7 1371.7 1321.7C1371.5 1323.6 1367.9 1326 1367.6 1327.8C1367.2 1329.6 1368.5 1332.1 1369.6 1333C1370.8 1333.8 1373.4 1332.1 1374.7 1333C1376 1333.8 1376.8 1336.1 1377.8 1338.1C1378.8 1340.1 1380.1 1343.1 1380.9 1345.3C1381.7 1347.4 1383.9 1350.3 1382.9 1351.4C1381.9 1352.6 1376.5 1351.6 1374.7 1352.4C1372.9 1353.3 1372.1 1355.9 1371.7 1356.5"/><path d="M1359.4 1082.8C1359.7 1081.5 1360.7 1076.1 1361.4 1074.6C1362.1 1073.2 1362.3 1073.4 1363.5 1073.6C1364.6 1073.8 1366.4 1075.4 1368.6 1075.7C1370.7 1075.9 1374.3 1074.8 1376.8 1075.2C1379.2 1075.7 1381.7 1077.4 1384 1078.7C1386.3 1080.1 1389 1082.4 1391.1 1083.9C1393.3 1085.3 1395.3 1086.8 1397.3 1088C1399.3 1089.1 1401.2 1090.3 1403.4 1091C1405.6 1091.8 1409.8 1092.2 1411 1092.5"/><path d="M1253.8 1097.2C1255.1 1097.5 1259.3 1098.7 1262 1099.2C1264.6 1099.7 1267.5 1100.4 1270.2 1100.3C1272.8 1100.1 1275.7 1098.4 1278.4 1098.2C1281 1098 1284.3 1099.1 1286.6 1099.2C1288.9 1099.4 1290.8 1098.7 1292.7 1099.2C1294.7 1099.8 1299.2 1102.1 1298.9 1102.7C1298.5 1103.4 1293.3 1103.4 1290.7 1103.3C1288 1103.3 1285.1 1102.5 1282.5 1102.3C1279.8 1102.1 1276.9 1102.2 1274.3 1101.9C1271.6 1101.6 1268.7 1100.8 1266.1 1100.3C1263.4 1099.7 1259.8 1099.1 1257.9 1098.6C1255.9 1098.1 1254.4 1097.4 1253.8 1097.2"/><path d="M1399.3 1360C1400.3 1359.5 1403.6 1357.4 1405.5 1356.5C1407.4 1355.6 1410.1 1354.8 1411 1354.5"/><path d="M1410 1092.5C1411.1 1092.2 1415 1090.9 1417.2 1091C1419.3 1091.1 1421.5 1092.2 1423.3 1093.1C1425.1 1094 1426.8 1095.8 1428.5 1096.6C1430.1 1097.3 1432.3 1096.7 1433.6 1097.8C1434.9 1098.9 1435.5 1101.5 1436.7 1103.3C1437.8 1105.2 1439.3 1107.7 1440.8 1109.5C1442.2 1111.3 1444.4 1113.8 1445.9 1114.6C1447.4 1115.4 1449 1115.3 1450 1114.6C1451 1114 1450.6 1111.2 1452 1110.5C1453.5 1109.8 1456.7 1110.1 1459.2 1110.1C1461.7 1110.1 1465.3 1109.9 1467.4 1110.5C1469.5 1111.1 1471.1 1112.3 1472.5 1113.6C1474 1114.9 1475.6 1116.7 1476.6 1118.7C1477.6 1120.7 1478.5 1123.4 1478.7 1125.9C1478.8 1128.3 1477.5 1132 1477.7 1134.1C1477.8 1136.2 1478.4 1137.9 1479.7 1139.2C1481 1140.5 1484.1 1141.1 1485.9 1142.3C1487.7 1143.4 1489.5 1145.1 1491 1146.4C1492.5 1147.7 1493.8 1149.7 1495.1 1150.5C1496.4 1151.3 1498.5 1151.3 1499.2 1151.5"/><path d="M1506.4 1049C1506.2 1050 1505.3 1053.2 1505.3 1055.2C1505.3 1057.1 1506.9 1059.7 1506.4 1061.3C1505.9 1062.9 1503.9 1064.3 1502.3 1065.4C1500.6 1066.5 1497.9 1067.8 1496.1 1068.5C1494.3 1069.1 1492.1 1069.7 1491 1069.5C1489.8 1069.3 1489.6 1067.1 1488.9 1067.5C1488.3 1067.8 1488 1070.2 1486.9 1071.6C1485.7 1072.9 1482.7 1073.8 1481.8 1075.7C1480.8 1077.5 1480.7 1080.2 1480.7 1082.8C1480.7 1085.5 1481.3 1088.9 1481.8 1092.1C1482.3 1095.2 1483.2 1099.4 1483.8 1102.3C1484.4 1105.3 1485 1108 1485.4 1110.5C1485.9 1113 1486 1114.9 1486.9 1117.7C1487.8 1120.5 1489.7 1124.5 1491 1127.9C1492.3 1131.4 1493.6 1135.6 1495.1 1139.2C1496.6 1142.8 1498.6 1147 1500.2 1150.5C1501.9 1153.9 1503.5 1157.5 1505.3 1160.7C1507.1 1164 1509.5 1167.7 1511.5 1171C1513.5 1174.3 1515.7 1178 1517.6 1181.2C1519.6 1184.5 1521.8 1188.4 1523.8 1191.5C1525.8 1194.6 1528.1 1198.3 1529.9 1200.7C1531.7 1203.1 1533.3 1204.8 1535.1 1206.5C1536.9 1208.1 1539.2 1209.5 1541.2 1211C1543.2 1212.4 1545.7 1214.4 1547.4 1215.5C1549 1216.5 1549.8 1217.4 1551.5 1217.5C1553.1 1217.6 1555.3 1216.7 1557.6 1216.1C1559.9 1215.4 1563.4 1214.2 1565.8 1213.4C1568.3 1212.6 1571.2 1212 1573 1211C1574.8 1209.9 1576.1 1208.3 1577.1 1206.9C1578.1 1205.4 1578.3 1203.2 1579.1 1201.7C1580 1200.3 1581.6 1199.3 1582.2 1197.6C1582.9 1196 1582.6 1192.8 1583.2 1191.5C1583.9 1190.2 1585.3 1189.6 1586.3 1189.4C1587.3 1189.3 1589.1 1189.3 1589.4 1190.5C1589.7 1191.6 1588 1195 1588.4 1196.6C1588.7 1198.3 1590.1 1199.6 1591.4 1200.7C1592.8 1201.9 1594.9 1202.9 1596.6 1203.8C1598.2 1204.7 1600.2 1206.1 1601.7 1206.5C1603.2 1206.8 1604.8 1206.6 1605.8 1205.8C1606.8 1205.1 1607.2 1203.2 1607.8 1201.7C1608.5 1200.3 1609.1 1198.1 1609.9 1196.6C1610.7 1195.1 1611.7 1193.5 1613 1192.5C1614.3 1191.5 1616.1 1190.8 1618.1 1190.5C1620.1 1190.1 1623 1190.6 1625.3 1190.5C1627.6 1190.3 1630.8 1188.9 1632.5 1189.4C1634.1 1189.9 1634.5 1193.3 1635.5 1193.5C1636.5 1193.8 1637 1190.8 1638.6 1190.9C1640.2 1191 1643.5 1193.8 1645.8 1194.2C1648.1 1194.5 1651.1 1192.5 1653 1192.9C1654.8 1193.3 1655.9 1195.5 1657.1 1196.6C1658.2 1197.7 1659 1199.9 1660.1 1199.7C1661.3 1199.5 1663 1195.6 1664.2 1195.6C1665.5 1195.6 1667 1197.9 1667.9 1199.7C1668.8 1201.5 1670.1 1205.1 1670 1206.9C1669.9 1208.7 1668.7 1210.3 1667.3 1211C1665.9 1211.6 1663 1211.3 1661.2 1211C1659.3 1210.6 1657.3 1208.6 1656 1208.9C1654.7 1209.2 1653.1 1211.7 1653 1213C1652.8 1214.3 1655.5 1216.2 1655 1217.1C1654.5 1218 1651 1217.4 1649.9 1218.8C1648.7 1220.1 1648.3 1223 1647.8 1225.3C1647.3 1227.7 1647.1 1231.1 1646.8 1233.5C1646.5 1236 1645.6 1238.9 1645.8 1240.7C1645.9 1242.5 1646.9 1243.5 1647.8 1244.8C1648.7 1246.1 1651.4 1247.6 1651.5 1248.9C1651.7 1250.2 1650.4 1252 1648.9 1253C1647.3 1254 1643.8 1254.6 1641.7 1255C1639.5 1255.5 1637.3 1255.8 1635.5 1256.1C1633.7 1256.3 1631.4 1255.8 1630.4 1256.5C1629.4 1257.1 1630.7 1259.6 1629.4 1260.2C1628.1 1260.8 1624.3 1260.5 1622.2 1260.2C1620.1 1259.8 1617.7 1258.9 1616 1258.1C1614.4 1257.3 1613.4 1255.4 1611.9 1255C1610.5 1254.7 1608 1255.3 1606.8 1256.1C1605.7 1256.9 1606.6 1259.2 1604.8 1260.2C1603 1261.2 1598.2 1261.6 1595.5 1262.2C1592.9 1262.8 1589.9 1263.9 1588.4 1263.9C1586.8 1263.9 1586.7 1263.6 1585.9 1262.2C1585.1 1260.8 1584.5 1257 1583.2 1255C1582 1253.1 1579.9 1251.3 1578.1 1249.9C1576.3 1248.5 1574.1 1247.2 1572 1246.2C1569.8 1245.2 1567.1 1244.2 1564.8 1243.8C1562.5 1243.3 1559.7 1243.2 1557.6 1243.4C1555.5 1243.5 1553.4 1244.1 1551.5 1244.8C1549.5 1245.5 1547 1246.6 1545.3 1247.9C1543.7 1249.2 1541.9 1251.2 1541.2 1253C1540.5 1254.8 1541.1 1257.3 1540.8 1259.1C1540.5 1261 1539.6 1262.3 1539.2 1264.3C1538.7 1266.2 1538.3 1271 1538.1 1271.5C1538 1271.9 1539 1267.7 1538.1 1267.3C1537.3 1267 1534.7 1269.2 1533 1269.4C1531.4 1269.6 1529.2 1267.9 1527.9 1268.4C1526.6 1268.9 1526 1271.2 1524.8 1272.5C1523.7 1273.8 1522.2 1275.8 1520.7 1276.6C1519.2 1277.4 1516.9 1276.5 1515.6 1277.6C1514.3 1278.7 1513.3 1281.6 1512.5 1283.8C1511.7 1285.9 1511.3 1289.1 1510.5 1290.9C1509.6 1292.7 1508.5 1294.5 1507.4 1295C1506.2 1295.5 1504.4 1295 1503.3 1294C1502.1 1293 1501.4 1290 1500.2 1288.9C1499.1 1287.8 1497.4 1287.2 1496.1 1287.2C1494.8 1287.3 1493.2 1288.5 1492 1289.3C1490.9 1290 1490.1 1291.8 1488.9 1292C1487.8 1292.1 1486.1 1290.5 1484.8 1290.5C1483.5 1290.5 1482.4 1291.9 1480.7 1292C1479.1 1292 1476.4 1290.7 1474.6 1290.9C1472.8 1291.2 1471.1 1292.4 1469.5 1293.4C1467.8 1294.4 1466 1296.1 1464.3 1297.1C1462.7 1298.1 1461.2 1298.9 1459.2 1299.5C1457.2 1300.2 1454.2 1300.4 1452 1301.2C1449.9 1301.9 1447.5 1302.9 1445.9 1304.3C1444.2 1305.6 1443.1 1307.4 1441.8 1309.4C1440.5 1311.3 1438.8 1314.1 1437.7 1316.6C1436.5 1319 1435.6 1322.1 1434.6 1324.8C1433.6 1327.4 1432.7 1331.5 1431.5 1333C1430.4 1334.4 1428.6 1334 1427.4 1334C1426.3 1334 1425.2 1332.3 1424.4 1333C1423.5 1333.6 1423.1 1336.8 1422.3 1338.1C1421.5 1339.4 1420.4 1340.5 1419.2 1341.2C1418.1 1341.8 1416.3 1341.4 1415.1 1342.2C1414 1343 1412.9 1345 1412.1 1346.3C1411.2 1347.6 1410.3 1349.7 1410 1350.4"/><path d="M1523.8 1049C1522.6 1050 1518.6 1053.2 1516.6 1055.2C1514.6 1057.1 1513.1 1059.5 1511.5 1061.3C1509.8 1063.1 1508.2 1065.1 1506.4 1066.4C1504.6 1067.7 1501.2 1069 1500.2 1069.5"/><path d="M1542.2 1049C1541.3 1050.3 1537.9 1054.6 1536.1 1057.2C1534.3 1059.8 1532.6 1062.8 1531 1065.4C1529.3 1068 1527.3 1071.1 1525.8 1073.6C1524.4 1076.1 1523.2 1078.6 1521.7 1080.8C1520.3 1082.9 1518.7 1085.3 1516.6 1086.9C1514.5 1088.6 1510.7 1089.9 1508.4 1091C1506.1 1092.2 1503.9 1093.4 1502.3 1094.1C1500.6 1094.9 1498.5 1096.2 1498.2 1095.7C1497.8 1095.3 1499.2 1092.4 1500.2 1091C1501.2 1089.6 1502.7 1088.1 1504.3 1086.9C1506 1085.8 1508.5 1084.8 1510.5 1083.9C1512.4 1082.9 1514.8 1082.1 1516.6 1080.8C1518.4 1079.5 1520.1 1077.8 1521.7 1075.7C1523.4 1073.5 1525.2 1070.1 1526.9 1067.5C1528.5 1064.8 1530.3 1061.7 1532 1059.3C1533.6 1056.8 1536 1053.7 1537.1 1052.1C1538.3 1050.4 1538.8 1049.5 1539.2 1049"/><path d="M1526.9 1049C1527.4 1049.7 1528.6 1052.6 1529.9 1053.1C1531.3 1053.6 1533.3 1052.7 1535.1 1052.1C1536.9 1051.4 1540.2 1049.5 1541.2 1049"/></g>
<g stroke="#b0b0b0" stroke-width="3"><line x1="364.5" y1="116.5" x2="364.5" y2="1360.5"/><line x1="570.5" y1="116.5" x2="570.5" y2="1360.5"/><line x1="777.5" y1="116.5" x2="777.5" y2="1360.5"/><line x1="984.5" y1="116.5" x2="984.5" y2="1360.5"/><line x1="1190.5" y1="116.5" x2="1190.5" y2="1360.5"/><line x1="1397.5" y1="116.5" x2="1397.5" y2="1360.5"/><line x1="1604.5" y1="116.5" x2="1604.5" y2="1360.5"/><line x1="1810.5" y1="116.5" x2="1810.5" y2="1360.5"/><line x1="2017.5" y1="116.5" x2="2017.5" y2="1360.5"/><line x1="170.5" y1="1263.5" x2="2030.5" y2="1263.5"/><line x1="170.5" y1="1107.5" x2="2030.5" y2="1107.5"/><line x1="170.5" y1="952.5" x2="2030.5" y2="952.5"/><line x1="170.5" y1="796.5" x2="2030.5" y2="796.5"/><line x1="170.5" y1="641.5" x2="2030.5" y2="641.5"/><line x1="170.5" y1="485.5" x2="2030.5" y2="485.5"/><line x1="170.5" y1="330.5" x2="2030.5" y2="330.5"/><line x1="170.5" y1="174.5" x2="2030.5" y2="174.5"/></g>
<rect x="170.5" y="116.5" width="1860" height="1244" fill="none" stroke="#000" stroke-width="3"/>
<g stroke="#000" stroke-width="3"><line x1="364.5" y1="1360.5" x2="364.5" y2="1375.4"/><line x1="570.5" y1="1360.5" x2="570.5" y2="1375.4"/><line x1="777.5" y1="1360.5" x2="777.5" y2="1375.4"/><line x1="984.5" y1="1360.5" x2="984.5" y2="1375.4"/><line x1="1190.5" y1="1360.5" x2="1190.5" y2="1375.4"/><line x1="1397.5" y1="1360.5" x2="1397.5" y2="1375.4"/><line x1="1604.5" y1="1360.5" x2="1604.5" y2="1375.4"/><line x1="1810.5" y1="1360.5" x2="1810.5" y2="1375.4"/><line x1="2017.5" y1="1360.5" x2="2017.5" y2="1375.4"/><line x1="155.5" y1="1263.5" x2="170.5" y2="1263.5"/><line x1="155.5" y1="1107.5" x2="170.5" y2="1107.5"/><line x1="155.5" y1="952.5" x2="170.5" y2="952.5"/><line x1="155.5" y1="796.5" x2="170.5" y2="796.5"/><line x1="155.5" y1="641.5" x2="170.5" y2="641.5"/><line x1="155.5" y1="485.5" x2="170.5" y2="485.5"/><line x1="155.5" y1="330.5" x2="170.5" y2="330.5"/><line x1="155.5" y1="174.5" x2="170.5" y2="174.5"/></g>
<g fill="#000"><text x="363.7" y="1420.8" font-size="44.5" text-anchor="middle" textLength="52" lengthAdjust="spacingAndGlyphs" >24</text><text x="569.7" y="1420.8" font-size="44.5" text-anchor="middle" textLength="52" lengthAdjust="spacingAndGlyphs" >26</text><text x="776.7" y="1420.8" font-size="44.5" text-anchor="middle" textLength="52" lengthAdjust="spacingAndGlyphs" >28</text><text x="983.7" y="1420.8" font-size="44.5" text-anchor="middle" textLength="52" lengthAdjust="spacingAndGlyphs" >30</text><text x="1189.7" y="1420.8" font-size="44.5" text-anchor="middle" textLength="52" lengthAdjust="spacingAndGlyphs" >32</text><text x="1396.7" y="1420.8" font-size="44.5" text-anchor="middle" textLength="52" lengthAdjust="spacingAndGlyphs" >34</text><text x="1603.7" y="1420.8" font-size="44.5" text-anchor="middle" textLength="52" lengthAdjust="spacingAndGlyphs" >36</text><text x="1809.7" y="1420.8" font-size="44.5" text-anchor="middle" textLength="52" lengthAdjust="spacingAndGlyphs" >38</text><text x="2016.7" y="1420.8" font-size="44.5" text-anchor="middle" textLength="52" lengthAdjust="spacingAndGlyphs" >40</text><text x="138.9" y="1279.8" font-size="44.5" text-anchor="end" textLength="51.5" lengthAdjust="spacingAndGlyphs" >45</text><text x="138.9" y="1123.8" font-size="44.5" text-anchor="end" textLength="51.5" lengthAdjust="spacingAndGlyphs" >46</text><text x="138.9" y="968.8" font-size="44.5" text-anchor="end" textLength="51.5" lengthAdjust="spacingAndGlyphs" >47</text><text x="138.9" y="812.8" font-size="44.5" text-anchor="end" textLength="51.5" lengthAdjust="spacingAndGlyphs" >48</text><text x="138.9" y="657.8" font-size="44.5" text-anchor="end" textLength="51.5" lengthAdjust="spacingAndGlyphs" >49</text><text x="138.9" y="501.8" font-size="44.5" text-anchor="end" textLength="51.5" lengthAdjust="spacingAndGlyphs" >50</text><text x="138.9" y="346.8" font-size="44.5" text-anchor="end" textLength="51.5" lengthAdjust="spacingAndGlyphs" >51</text><text x="138.9" y="190.8" font-size="44.5" text-anchor="end" textLength="51.5" lengthAdjust="spacingAndGlyphs" >52</text><text x="839.28" y="1478.30" font-size="41.80" textLength="196.22" lengthAdjust="spacingAndGlyphs">longitude</text><text x="1048.91" y="1478.30" font-size="41.80" textLength="311.59" lengthAdjust="spacingAndGlyphs">[degrees_east]</text><text transform="translate(60.4,991.5) rotate(-90)" x="0" y="0" font-size="41.8" textLength="158.94" lengthAdjust="spacingAndGlyphs">latitude</text><text transform="translate(60.4,819.6) rotate(-90)" x="0" y="0" font-size="41.8" textLength="334.24" lengthAdjust="spacingAndGlyphs">[degrees_north]</text><text x="334.96" y="91.40" font-size="70.50" textLength="263.07" lengthAdjust="spacingAndGlyphs">UA-FIRE</text><text x="621.10" y="91.40" font-size="70.50" textLength="131.21" lengthAdjust="spacingAndGlyphs">ERC</text><text x="773.52" y="91.40" font-size="70.50" textLength="328.25" lengthAdjust="spacingAndGlyphs">Percentile</text><text x="1122.04" y="91.40" font-size="70.50" textLength="281.08" lengthAdjust="spacingAndGlyphs">Forecast</text><text x="1426.58" y="91.40" font-size="70.50" textLength="437.70" lengthAdjust="spacingAndGlyphs">(2025-10-25)</text></g>
<g shape-rendering="crispEdges"><rect x="2146.5" y="45" width="69" height="277" fill="#a50026"/><rect x="2146.5" y="322" width="69" height="277" fill="#f98e52"/><rect x="2146.5" y="599" width="69" height="278" fill="#feffc0"/><rect x="2146.5" y="877" width="69" height="277" fill="#8ec2dc"/><rect x="2146.5" y="1154" width="69" height="277" fill="#313695"/></g>
<rect x="2146.5" y="45.5" width="69" height="1386" fill="none" stroke="#000" stroke-width="3"/>
<g stroke="#000" stroke-width="3"><line x1="2215.5" y1="45.5" x2="2230.1" y2="45.5"/><line x1="2215.5" y1="322.5" x2="2230.1" y2="322.5"/><line x1="2215.5" y1="599.5" x2="2230.1" y2="599.5"/><line x1="2215.5" y1="877.5" x2="2230.1" y2="877.5"/><line x1="2215.5" y1="1154.5" x2="2230.1" y2="1154.5"/><line x1="2215.5" y1="1431.5" x2="2230.1" y2="1431.5"/></g>
<g fill="#000"><text x="2245.8" y="61.3" font-size="44.5" text-anchor="start" textLength="78" lengthAdjust="spacingAndGlyphs" >100</text><text x="2245.8" y="338.3" font-size="44.5" text-anchor="start" textLength="50.5" lengthAdjust="spacingAndGlyphs" >97</text><text x="2245.8" y="615.3" font-size="44.5" text-anchor="start" textLength="50.5" lengthAdjust="spacingAndGlyphs" >90</text><text x="2245.8" y="893.3" font-size="44.5" text-anchor="start" textLength="50.5" lengthAdjust="spacingAndGlyphs" >80</text><text x="2245.8" y="1170.3" font-size="44.5" text-anchor="start" textLength="50.5" lengthAdjust="spacingAndGlyphs" >50</text><text x="2245.8" y="1447.3" font-size="44.5" text-anchor="start" textLength="25" lengthAdjust="spacingAndGlyphs" >0</text></g>
</svg>
</body></html>
